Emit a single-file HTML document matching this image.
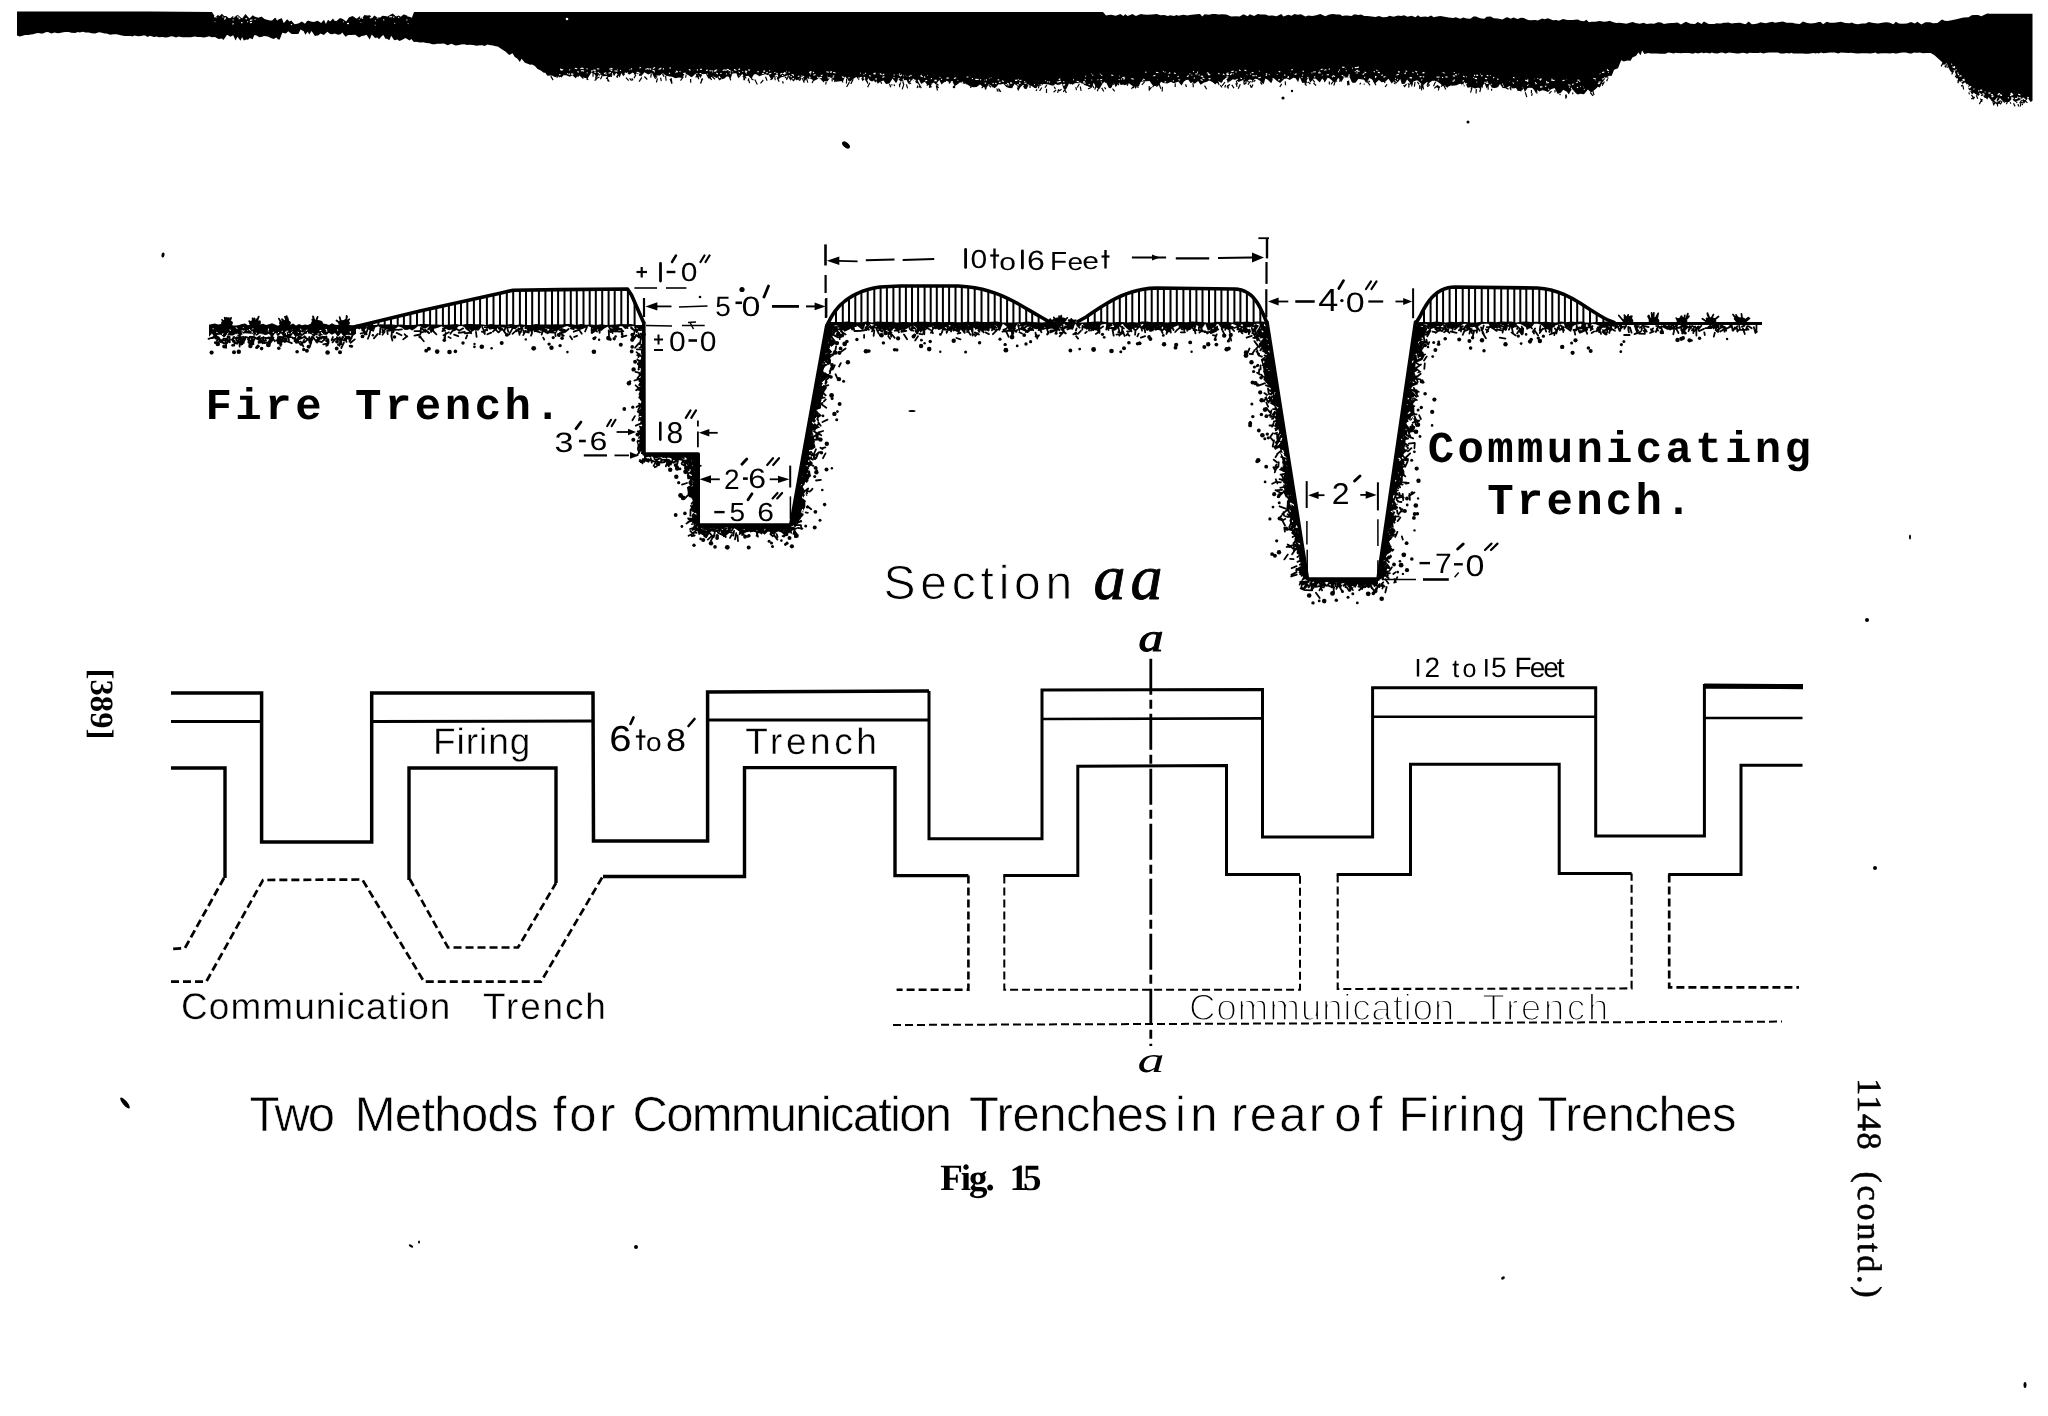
<!DOCTYPE html>
<html><head><meta charset="utf-8"><title>Fig. 15</title>
<style>html,body{margin:0;padding:0;background:#fff}body{width:2048px;height:1416px;overflow:hidden}svg{display:block;will-change:transform}text{fill:#000;text-rendering:geometricPrecision}</style></head><body>
<svg width="2048" height="1416" viewBox="0 0 2048 1416">
<rect width="2048" height="1416" fill="#fff"/>
<path d="M17 11.5 L150 11.5 L212 12 L214 15.2 L215.5 17.2 L217.8 14.9 L219.8 16 L221.7 13.8 L224.2 16 L226.2 16 L228.6 18.1 L230.3 18.2 L232.8 15.9 L234.7 17 L236.7 15.2 L238.2 15.2 L242.1 18.6 L245.5 13.9 L249.4 18.5 L252.8 15.3 L254.5 16.6 L258.2 17.8 L261.6 16.4 L264.4 19.1 L268 20 L270 20.5 L272.1 20.5 L275 17.7 L277.9 19.8 L281.8 17.9 L283.7 22.9 L287.3 19.2 L289.4 21.4 L291.3 20.5 L292.9 22.6 L294.6 24.2 L298.4 23.5 L301.8 21.6 L305 23.7 L307.7 20.3 L310.8 21.6 L313.8 22.1 L317.7 20.8 L321.1 23.1 L324 19.8 L325.9 24 L328 19.8 L330.2 21.4 L333 18.4 L334.5 20.7 L336.5 21 L340 18 L342.8 19.1 L346.2 21.4 L348.8 17.5 L352.5 16 L354.8 17.6 L356.8 18.8 L359.6 16.3 L362.1 18.3 L364.4 15 L367 15.4 L370.1 15.2 L371.9 18.5 L374.3 15.4 L377.1 17.2 L380.3 17.6 L382.4 15.7 L384.8 16 L387.8 16.5 L389.5 15.2 L392.7 13.4 L396.1 16.6 L398.6 15.4 L400.8 16.8 L403.5 14.4 L405 14.8 L408.8 16.4 L411.9 17.7 L414 12 L1103 12 L1106 15.5 L1108.6 14.9 L1111.1 14.8 L1115.8 15.8 L1120.4 14 L1123.3 16 L1125.4 14.3 L1127.6 16.1 L1130.3 15 L1132.4 14.1 L1135.9 16 L1138.9 14.7 L1141 14.1 L1143.5 14.4 L1147.2 14.8 L1152.1 14.6 L1156.7 14.1 L1160.3 15.3 L1164.3 14.9 L1167.8 16 L1170.3 15.3 L1174.1 16 L1176.5 15 L1178.6 15.7 L1183.2 14.8 L1187.7 15.6 L1189.7 15.1 L1191.9 14.7 L1196.3 14.2 L1200 14 L1202.3 16.5 L1204.6 14.3 L1209.4 14.7 L1212 14.1 L1215.5 14 L1218.2 14.4 L1222.4 14.3 L1226.2 14.5 L1231.2 16.6 L1236 16.3 L1239.6 16.4 L1243.5 14.2 L1247.7 16.2 L1249.8 14.3 L1254.1 16 L1257.8 14.1 L1260.6 14.5 L1265.5 14.4 L1268.7 15.7 L1272.6 15.4 L1276.6 16.2 L1281.3 14.1 L1283.4 16.4 L1288.2 14.8 L1291.4 15.7 L1294.6 14.1 L1297.4 14.7 L1301.1 14.3 L1305.3 16.5 L1308.4 15.4 L1312.3 16 L1316.2 15.2 L1320.4 13.9 L1325.2 16.3 L1329.3 14.4 L1333.1 13.9 L1336.3 14.4 L1340 14.5 L1342.3 16 L1345.1 15.4 L1347.1 15.4 L1351.5 16.1 L1354.5 14.3 L1358.3 14.9 L1361.1 14.6 L1364.3 16 L1367.5 16 L1371.7 16.5 L1375.4 17.1 L1378.9 15.9 L1382.9 17.2 L1387 17.1 L1389.5 15.8 L1393.6 16.8 L1398.1 15.5 L1401 16 L1404.2 15.2 L1407.4 16.8 L1411.6 15.7 L1415.5 17.2 L1417.9 15.2 L1420.4 17.1 L1425.1 16.4 L1428.1 17.1 L1431 15.6 L1433.8 17.2 L1437.1 16.5 L1440.3 16 L1444.6 16.8 L1448.7 17.4 L1453.4 18.1 L1455.8 17.2 L1457.8 18.1 L1460.5 18.8 L1463.2 17.5 L1466.7 18.5 L1470.4 18.7 L1473.4 16.6 L1476 16.5 L1480.1 18.3 L1484.3 18.7 L1486.7 16.7 L1490.7 16.6 L1493.7 18.3 L1497.7 18.5 L1502.5 19.6 L1505.5 17.8 L1507.5 17.3 L1510.8 18.8 L1513.5 17.4 L1517.6 19.1 L1521.1 17.7 L1523.7 18.1 L1528.2 20.1 L1530.4 20.2 L1535.1 20 L1537.8 20.6 L1542.2 18.4 L1544.4 19.2 L1548.1 18.3 L1553 20.3 L1556.5 20 L1558.8 20.8 L1563 18.9 L1567.5 20 L1572.3 20.1 L1574.9 19.8 L1577.9 19.6 L1580.4 20.8 L1584 21.2 L1586.4 19.8 L1588.9 22.3 L1591.3 21.8 L1595 21.7 L1599.8 20.9 L1603.9 21.8 L1607 21.6 L1609.6 20.8 L1614.3 22.5 L1616.9 23.1 L1619.4 22.8 L1623.2 23.3 L1626.4 23.8 L1630.6 22.6 L1632.9 22.1 L1635.3 23 L1639.7 23.7 L1643.7 22.8 L1646.5 23.9 L1650.5 23.5 L1654.2 23.8 L1657.9 22.3 L1661.1 22.5 L1663.9 24.1 L1668.1 23.3 L1671.4 23 L1673.7 22.9 L1677.5 22.6 L1681 24.4 L1685.8 21.8 L1690.6 23.8 L1695 23.9 L1697.7 22 L1701.6 23.9 L1703.9 21.6 L1708.7 24.1 L1711.5 23.9 L1714.4 24 L1716.5 23.3 L1719.1 23.4 L1721.2 23.4 L1723.5 22.8 L1725.7 22.7 L1728.2 22.5 L1731.6 23.4 L1735.5 23.1 L1740.1 22.8 L1742.5 23.5 L1745.6 24.2 L1748.7 21.6 L1751.8 24.3 L1755.2 23.9 L1758.3 23.3 L1760.5 22.2 L1762.8 22.7 L1765.8 23.2 L1769.8 22.3 L1772.6 21.7 L1774.9 22.7 L1779.6 22.1 L1782.8 21.6 L1786.6 22.8 L1789.6 22.7 L1792.4 22.7 L1795 23.6 L1799.8 24.1 L1802.9 21.6 L1807.2 22.9 L1810.8 23.4 L1815.3 23.1 L1818.6 22 L1820.7 22.1 L1823.1 24.2 L1826.8 21.7 L1829.8 22.8 L1834.3 22.8 L1837.9 22.3 L1840.9 21.8 L1845.3 23 L1849.5 23.2 L1851.7 22.4 L1854.7 23.8 L1857.7 24.3 L1862.1 23.5 L1865.7 23.5 L1868.7 21.9 L1873.3 22.9 L1878.2 23.6 L1881.9 22.8 L1886 22.3 L1889 22.5 L1893.5 24.3 L1895.8 21.7 L1898.8 23.5 L1902.1 23.7 L1907 23.5 L1911 22 L1914.8 23.4 L1917.4 21.7 L1921.4 24.4 L1925.4 22.2 L1930 22.3 L1933 23.3 L1937.4 22.9 L1942 19.6 L1944.7 20.8 L1947.4 21.1 L1951.6 20.2 L1956.4 19.3 L1961.3 17.9 L1963.7 17.6 L1968.6 17.2 L1971.6 15.2 L1974 14.9 L1978.1 14.9 L1981.4 16.2 L1984.4 14.8 L1987.4 13.6 L1990 13.7 L2032.5 13.7 L2032.5 100.7 L2030.7 101.9 L2027.8 98.3 L2023.9 103.8 L2021.7 99.5 L2018.2 100.4 L2015.3 101.9 L2011.9 98.5 L2009.2 101.9 L2005.5 102.1 L2002 100.5 L2000.5 98.6 L1997.2 97.6 L1995.5 99.6 L1992.1 101.5 L1988.8 97.2 L1987.2 98.4 L1983.5 96.5 L1980.6 93.2 L1978.3 95.9 L1974.8 93.5 L1971.2 92.6 L1968.3 86.6 L1965.1 82.3 L1962.5 84.1 L1958.8 80.1 L1956.8 77.4 L1954.2 69.7 L1950.4 71 L1946.5 63.1 L1944.4 64.7 L1941.2 61.3 L1937.8 58.3 L1934.5 55.3 L1930.7 53 L1926.9 53 L1923 53.2 L1919.9 52.4 L1917.6 52.8 L1916 52.8 L1913.9 52.6 L1911.7 53.6 L1909.7 53.4 L1905.7 52.4 L1902.4 52.6 L1900.5 52.8 L1896.7 53.6 L1895 53.5 L1893.2 52.9 L1889.2 53.6 L1887.5 53.2 L1884.9 53.3 L1881.3 53.2 L1877.4 53.7 L1875.5 52.5 L1873.5 53.1 L1870.3 53.6 L1867 53.3 L1864 53.3 L1861.5 53.3 L1857.9 53.6 L1854.6 53.3 L1852.9 52.9 L1850.3 52.8 L1848.3 52.9 L1844.7 52.8 L1840.8 52.4 L1838.3 53.4 L1834.9 52.4 L1833.1 52.5 L1830.2 52.5 L1827.7 52.8 L1826 52.9 L1823.4 53.2 L1821 52.5 L1818.7 53.4 L1817.2 53.1 L1815.6 53.6 L1813.6 53.1 L1811.9 53.2 L1808.4 53.7 L1804.9 53.7 L1803.4 53.5 L1801.8 53.6 L1797.8 53.4 L1794.8 53.4 L1793.1 53.6 L1791.4 52.7 L1789.2 53.4 L1786.7 52.9 L1783.9 53.5 L1780.3 53.6 L1778.1 52.5 L1776.4 52.6 L1773 52.5 L1769.6 52.4 L1766.4 52.7 L1763.3 53.5 L1760.2 52.5 L1758.6 52.9 L1754.9 53.1 L1752.7 53.1 L1749.2 52.7 L1747.3 53.7 L1744.8 53 L1742.5 52.7 L1738.9 53.5 L1736.7 53.4 L1732.9 53 L1729 52.5 L1725.4 53.6 L1723.2 52.8 L1721.1 52.6 L1717.5 53.4 L1714.1 53.3 L1711.9 52.5 L1709.8 53.5 L1708.2 53.1 L1705.9 52.8 L1703.6 53.2 L1701.7 52.6 L1698 53.5 L1695.6 52.7 L1692.7 53.7 L1689.2 53 L1686.1 52.9 L1682.8 53.1 L1681.3 53.3 L1677.6 53.1 L1675.7 52.8 L1673.7 53.6 L1670.4 52.8 L1668.1 52.6 L1665.5 53.8 L1662.1 53.7 L1660.4 53.7 L1656.7 53.5 L1654.8 53.6 L1650.9 53.4 L1648.1 52.9 L1644.4 53.9 L1642.1 50.5 L1640.6 55.2 L1638.3 52.6 L1636.1 55.8 L1632.4 57.6 L1630.6 60.8 L1627.4 60.5 L1623.7 61.4 L1621.2 60.3 L1618 68.3 L1614.1 69.7 L1611.6 76 L1609 75.7 L1605.5 78.2 L1602.4 82.2 L1599.8 87.4 L1597.8 86.7 L1595.7 88.9 L1592.8 91.3 L1591.1 92.4 L1587.9 89.4 L1584 94.3 L1580.5 93.8 L1577.7 94.5 L1575.9 93.3 L1571.9 88.7 L1568.8 94.5 L1566.9 91.8 L1563.2 89.7 L1561.2 92.6 L1557.7 93.9 L1554.6 88 L1551 89.3 L1548.1 92 L1544.1 90.6 L1542.3 90.2 L1539.4 91.6 L1537.4 90.1 L1535.8 92.9 L1534.2 89.9 L1532.3 88 L1529.8 87.7 L1527.6 87.9 L1524.9 91.9 L1522.9 86.7 L1521.3 91.4 L1517.8 90.6 L1515.9 88 L1512.8 88.4 L1509.4 85.9 L1505.7 88.3 L1502.6 88 L1500 84.1 L1498.1 87.1 L1496.4 87.7 L1494.4 88.1 L1491.9 87.8 L1489.8 84.2 L1486.6 88.5 L1484.6 83.3 L1480.9 87.7 L1477.5 87.7 L1475 88.6 L1471.4 87 L1467.6 87.8 L1464.7 82 L1461.7 84.7 L1460.2 83.4 L1456.6 85.2 L1452.8 85.8 L1450.8 85.4 L1449.2 86.3 L1447 86.9 L1445.3 85.3 L1443.6 86 L1440 83.6 L1437.1 81.5 L1434.7 81 L1432.2 80.8 L1429.2 82.9 L1426.8 81.9 L1422.9 85.6 L1418.9 81.6 L1417.2 80.2 L1413.6 81.3 L1411.7 85.1 L1409.7 82.5 L1407.1 79.6 L1404.7 83.7 L1401.8 84.1 L1400.3 79.1 L1397.7 82.5 L1395.2 80 L1391.7 83.6 L1388.5 78.7 L1385.2 81.7 L1381.8 82.3 L1378.9 79.9 L1375.3 83.3 L1371.5 79.1 L1369.4 78.2 L1366.2 83.1 L1364.1 79.7 L1361.3 79.3 L1358.4 78.9 L1355.4 82.7 L1352 82.4 L1349.5 77 L1347.5 77.5 L1344 77.5 L1341.1 82.2 L1338.6 77.7 L1334.9 82.6 L1333.2 81.6 L1329.3 78.3 L1326.9 77.7 L1324.8 81.5 L1322.2 78.5 L1319.8 82.5 L1315.8 78.7 L1313.6 78.4 L1310.2 82.7 L1308.2 77.5 L1305.9 82.3 L1302.3 83.1 L1299.7 77.3 L1298.1 82.3 L1295.6 78.2 L1293.4 77.8 L1289.7 80 L1286.9 78.5 L1284.1 78.9 L1280.2 83 L1276.9 81.1 L1273.6 78.1 L1271.2 83.3 L1267.7 79.7 L1265.3 78.6 L1263.8 83.9 L1261.8 83 L1259.9 80.7 L1257 79 L1254.8 78.8 L1253.3 80.3 L1249.7 79.4 L1247.1 80.6 L1244.3 79.5 L1242.7 80.3 L1238.8 82 L1236.1 80.2 L1232.8 79.3 L1229.8 81.6 L1228.1 81.7 L1225.8 78.5 L1223.2 79.9 L1221.4 83 L1218.5 81.2 L1215.2 84.4 L1212.8 82.2 L1209.1 80.5 L1206.5 82 L1204.1 82.6 L1200.6 84.7 L1198.1 80.9 L1194.7 83.7 L1192.5 82.1 L1190.4 82.7 L1188.3 79.8 L1186.2 80 L1183.9 81.6 L1181.6 85.6 L1178.2 81.4 L1174.5 82.9 L1172.9 82.9 L1171.2 81.7 L1167.3 83.5 L1163.4 83 L1161 81.7 L1158.9 85.3 L1155.9 86 L1153.2 86.1 L1149.5 81.1 L1146.3 81.2 L1143.9 81.6 L1140.8 81.7 L1139.1 85.7 L1135.9 86.5 L1132.2 85.8 L1128.6 83.1 L1125.9 84.9 L1123.4 84.4 L1120.7 84.9 L1119.1 82.5 L1115.7 87.3 L1113.7 82.5 L1111.6 87.5 L1109 88.2 L1106.3 82.7 L1102.8 82.9 L1099.6 88.7 L1096.2 87.6 L1093.7 82.8 L1091.6 88 L1088.1 86.3 L1086.1 85.7 L1082.6 83.4 L1078.8 83.3 L1075.5 83.1 L1071.9 85.1 L1069 83.4 L1065.9 89.7 L1063.6 88.8 L1061.7 83.6 L1058.5 85.2 L1055.3 84 L1053.4 85.7 L1050.6 85.3 L1048.8 84.5 L1046.4 84.3 L1043.5 84.1 L1040.7 86 L1039.1 84 L1036.2 88.4 L1034.2 87.4 L1032.5 86.6 L1029 84.7 L1026.3 89.2 L1024.2 88.4 L1022.5 85 L1019 88.7 L1016.8 85.6 L1014.5 84.1 L1012.1 88.2 L1009.2 88.1 L1006.3 86.9 L1003.4 83.8 L1000.7 84.5 L998.6 84.3 L994.8 88.3 L990.9 85.4 L988.7 84.2 L986.4 88 L982.8 86.7 L980 84.6 L976.6 87.1 L973.4 87.3 L970.3 86.5 L967.3 84.5 L963.8 83.7 L960.2 82.3 L956.2 85.2 L954.2 84.9 L952 80.9 L950.2 83.1 L946.3 81.6 L943.5 82.8 L941.5 84.4 L939.3 80.1 L935.6 84.6 L934 82.5 L931.7 83.8 L929.4 83.9 L927.8 85.2 L924.7 81.8 L921.2 83.9 L918.9 79.5 L915.8 81.6 L912.1 79.7 L908.5 84 L906.5 80.1 L903.5 80.2 L900.8 81.7 L898.3 78.9 L896.1 83.3 L892.6 78.5 L889.4 83.5 L886.3 83.9 L883.4 80.6 L880.9 81.2 L877.7 83.7 L875.8 79.3 L872.1 81.5 L869.8 80.6 L868.2 77.9 L866.6 82.4 L864.7 79.2 L862.4 81.3 L860.7 76.8 L858.8 80.3 L856.4 77.1 L854.2 78.2 L850.9 81 L849.3 81.8 L847.6 78.9 L845 76.4 L843.2 81 L840 81.2 L836.1 81.8 L833.8 80.2 L830.7 77.3 L827.3 81.6 L824.3 80.7 L822.1 81.1 L819.8 77.5 L816.9 79.4 L814.2 80.7 L810.8 78.7 L807.1 77.7 L804.6 81.4 L802.4 75.9 L798.7 79.4 L796.4 80.1 L793.2 77.7 L790.4 80.8 L787.5 75.2 L784.9 76.5 L781 77.2 L778.5 79.3 L775.1 74.7 L771.9 80.2 L769 75.8 L765.2 74.3 L762.4 75.1 L759.5 76.3 L755.8 74.1 L753.2 75.4 L751.4 79 L748.3 75.7 L745.4 76.2 L743.8 75.4 L742.2 73.9 L738.6 78.2 L736.3 73.2 L732.6 73.4 L730.5 78.4 L727.6 75.7 L724.1 78.7 L721.2 78.6 L719.5 75.9 L716.3 78 L713.6 76.5 L711.4 77.1 L708.5 78.7 L705.6 73.4 L702.2 75 L700.3 78.3 L697.6 73.1 L695.6 73.7 L691.8 77.3 L690.2 76.6 L687.9 74.8 L684.5 73.9 L682.3 78.1 L678.8 77.4 L675.4 78.2 L672.1 76.8 L669.8 76.6 L666 75.7 L662.7 73.1 L660 75.4 L656.7 75.4 L654.6 78.4 L651.9 72.8 L648.3 74.4 L644.4 72.2 L641 76.4 L637.7 72.2 L635 75.3 L632.7 72.6 L629.7 74.4 L625.7 73.5 L623.2 76.3 L621.4 73 L619.7 77.5 L616.2 72.8 L614 76.3 L612.4 72.4 L610.4 77 L608.3 76.9 L606.4 76.1 L603.2 76.2 L601.3 75 L599.1 74.1 L596.8 77.9 L594.8 74.6 L591.4 72.5 L587.9 77.9 L584.9 78 L582.2 77.1 L578.3 75.2 L575.6 78.2 L572.4 75.3 L569.9 76.7 L566 75.3 L563.3 75.3 L561.7 77.4 L558.4 76.1 L555.1 77.3 L552.6 75.7 L550.5 75.6 L547.3 75.7 L545.3 72.8 L543.7 72.8 L540.8 70.6 L537.6 68.9 L534.9 66.1 L532.1 64.5 L530.1 64.8 L527 63.6 L524.9 62.8 L521.6 58.7 L519.8 62 L517.5 58.7 L514.8 56.9 L512.5 53.3 L509.2 54.9 L505.4 51.5 L501.8 49.3 L497.8 46.5 L495.6 46.3 L493 45.6 L489.3 44.9 L487.6 44.5 L484.6 46.1 L482.5 45.2 L479.9 45.2 L476.3 45.8 L473.4 45 L469.6 44.8 L467.4 44.9 L464.2 44.3 L460.8 44.5 L459.2 45.1 L455.5 45.4 L451.5 43.7 L447.6 45.2 L443.9 43.5 L440.7 43.8 L436.9 43.8 L435.3 44.3 L432.1 44.2 L429.5 43.3 L426.2 42.9 L423.3 42.3 L420.6 42.5 L418.5 42.2 L416.4 41.8 L413.9 42 L411.3 38.9 L409.5 40.4 L407.9 39.4 L405.4 38.1 L403.3 39.2 L399.6 41 L397.3 39.5 L394.2 40.2 L391.2 35.7 L389.3 40.3 L387.1 38.7 L385.5 38.7 L383.3 35 L381.7 36.2 L379 39.3 L377.4 37.6 L375 38.1 L371.8 34.5 L369.7 39.5 L366.5 34.7 L363.7 35.8 L361.8 36 L359 37.4 L355.2 34.7 L351.3 35 L348.2 35 L345.5 36.7 L342.2 32.5 L340.6 34.2 L338.3 34.7 L334.5 33.5 L332.4 34.2 L330.1 33.9 L327.3 31.8 L323.9 35 L320.5 33.5 L318.5 35.3 L314.9 36.1 L311.6 30.9 L309.3 34.4 L307.7 31.7 L305.3 34.8 L303.7 31.3 L300.6 29.4 L298.3 34 L295.7 33.9 L293.5 34 L291.7 34 L288.2 31.2 L286 33.5 L282.3 32.8 L279.7 39.4 L278 39.6 L276.3 37.4 L273.7 39 L271.5 38.2 L267.8 36.5 L264.1 36 L262.1 36.7 L259.3 37.2 L256.6 35.5 L254.4 35.1 L252.6 39.3 L249.7 38 L248.1 39.8 L246.4 39.4 L243.8 40.5 L242.1 37 L240.5 40.8 L237.5 36.8 L235.6 40.4 L233.2 35.3 L230.5 36.8 L227 34.7 L223.5 40 L221.9 38.6 L218.6 39 L214.9 36.9 L211.8 37.2 L209.2 36.3 L206.3 37 L204 37.4 L200.2 37 L197.8 37 L194.5 36.6 L190.9 37.3 L187.6 37.2 L186 37.3 L182.3 37.3 L178.7 36.4 L176.1 37.4 L172.2 36.2 L170.2 36.5 L168 37.2 L165.5 37.6 L162.3 37.1 L158.6 37.3 L157 36.4 L153.9 36.9 L150.1 35.8 L147.4 37 L145.4 35.4 L142.8 35.5 L141.3 35.9 L138.2 36.2 L134.5 35.5 L132.3 36.5 L130.7 35.9 L128.9 36.1 L127.1 36 L124.8 36 L121.8 35.4 L119.7 35 L116.6 34.2 L113.7 34.2 L110.1 34.7 L106.6 33.4 L104.8 33.5 L100.9 32.4 L99 32.2 L97.3 32.8 L95.3 33.4 L91.6 33.3 L88.8 32.5 L85.6 32.4 L82.7 31.8 L79.8 32.6 L77.8 31.9 L75.2 33.1 L71.2 32.7 L68.9 32 L65.1 31.9 L62.1 32.6 L59.9 33 L57.7 33.2 L54.5 32.6 L51.5 33.4 L47.9 32.1 L45.6 32.2 L43 33.6 L40.6 33.5 L38.6 33 L36.3 33.2 L33 34.3 L30.8 34.6 L28.4 34.9 L25.1 34.9 L21.7 36 L19.7 36.5 L17.3 35.5 L17 36.3Z" fill="#000"/>
<path d="M1999.7 96.4l-2.9 4.1M1420.9 86.1l0.8 4.3M900.6 82.5l-1.2 3.6M1980.3 98.7l1.6 2M792.6 78.9l0.5 1.6M795.6 77.5l-2.3 3.8M657.4 78.3l-1 4.2M1017.3 87.5l1.2 2.9M1064.6 89.5l-1.2 2.6M835.1 80.5l-0.5 1.7M929 81.8l1.8 1.2M1134.9 85l0.7 3.3M1960.2 79l-2.5 4.1M1569.1 89l0.2 2.1M1523.8 87.3l-2.2 2.6M1335.2 81.2l-1.4 4.4M1104.5 87.4l1.3 1.6M1393.9 82.6l1.6 1.6M619.5 72.2l-0.1 3.6M995.9 83.4l0.4 2.9M729.3 75.5l1.4 4.9M1991.1 97.2l2.1 4.2M1963 85.9l0.6 3.6M1517.2 86.2l1.1 4.7M670 78.9l2 5M1549.2 88.9l-1.7 2M629.6 78.3l2 2.4M577.3 73.4l-1.4 2.3M1382.1 79.3l0.8 2.1M1985.1 96.1l2.5 3.1M638.5 72.8l-1.1 1.1M2020.8 103.1l-0.1 2.4M578.9 74l-1.1 3M1041.8 87.5l-2.2 3.3M2007.9 100.3l-1.5 3.9M1428.7 81.7l-1.8 4.1M748.8 78.3l-0.7 2.6M2018.1 104l0.4 2.5M903.6 85.1l-1.4 4.3M748.4 78.9l1.2 4.2M585.4 75.4l2.7 4.6M1190.1 79.5l1.3 3.3M739.2 73.7l-1.6 2.7M599.4 76.9l-2.9 1.7M626 77.7l2.7 2.9M1422.6 84.7l0.9 4.7M1122.4 83.3l2.8 1.3M2022.4 97.7l2.3 3M1982.1 99.8l-1.1 1.8M1580.7 90.4l1.1 2.1M1149.2 86l-0 4.7M1054.2 86.5l1.1 2.6M1075.8 87.1l0.7 3M788.3 76.2l-1.8 3.8M608 76.6l-1.9 2.2M1225 82l-2.9 3.8M727.3 73.5l0.6 3.2M1604.4 81.5l-2.2 4.2M971 85.3l-0.2 2.7M1368.5 80.8l1.3 1.2M824.2 79.3l1.2 2M1246.3 78.6l2.2 3.5M1482 83.2l0.4 4.4M1506.1 87.9l2.5 1.2M644.4 76.5l2.9 3M1229.8 84.3l-3 2.9M1281.7 83.9l-1.9 3.1M891.9 84.3l0 1.3M1305.3 81.8l-0.1 2.9M2003.2 101.2l1.9 1.4M1437.1 85.2l2.7 2.6M1329.3 81.6l0.1 2.9M1959.7 77.2l-2 4.4M841.3 78.9l1.7 3.6M1551.5 91.2l-2.4 2.5M595.7 76.4l0.3 3.8M1959.1 76.2l0.8 4M704.9 72.7l2.8 1.5M1959.2 75.7l2.5 3.9M1943.5 62.5l-0.4 2.1M1373.3 80.4l2.6 4.7M559.3 72.9l0.2 4.3M2004.6 96.4l2.4 3.4M1252.9 84.5l-1.4 3.3M1137.7 83.3l0.3 4.7M616.4 76l1.5 1.3M1982.8 94.5l-1.7 1.3M1394 81l2.9 1.9M1406.5 84l-1.9 2.3M1080.3 86.5l0.8 4.4M825.3 78.6l-2.1 3.3M1246.4 80.2l-0.8 3.6M697.8 75.9l1 1.5M956.4 83.3l-2.6 3.7M709.6 76l2 4M794.9 76.3l2.2 3.8M584.5 73.3l-0.2 3.4M1445.1 85.6l2.8 1.6M853.2 79.3l-2.4 4.6M1360.8 82.7l-1.1 1.8M930.7 83.7l-1.4 4M1525.3 92.3l1.5 4.8M877.2 77.4l-1.7 4.8M1392.6 78.5l1.7 2.1M936.3 85.5l1.2 5M937 84l-0.3 2.6M1985.8 94.7l-0.7 2.6M1250.2 84.8l1.1 3M1995.3 101.8l2.3 2.9M826.2 81.9l-0.5 2.6M1336.9 76.2l2.2 1.6M744.1 76.3l0.5 4M1221.2 78.9l0.7 3.3M1572.8 92.5l-0.1 1.8M1429.8 84.6l-2.5 2.3M1949.7 68.4l2.2 3.7M698.4 73.8l1 2.3M930.9 83.3l-1.1 4.2M2020.8 103.8l-0.7 2.8M1955.1 75.9l1.9 2.2M1046.8 85.2l-1.9 2.5M1304.6 81.7l1.8 4.1M832.1 78.5l0.1 2.9M1510 87.2l0.4 1.8M1110.6 86.6l-0.3 1.6M743.6 74.6l2.6 3.8M2024.9 99.3l-1.2 3M916.4 79.4l2.5 4.4M867.4 81.1l0.2 2.5M721 75.2l2 3.9M814.1 79l-2 4M850.5 78.7l-1.9 1.8M1064.6 89.2l1.8 3.9M696.6 75.1l2.4 4.1M1472 88l-1.5 4.6M1993.2 99.3l2 4.2M1982.1 99l-0.4 2.8M1128.8 81.4l-1.6 4.4M1476.3 88.9l-0.2 4.6M1974.6 96.8l-1.8 2.6M782.5 81.2l0.8 2.3M1436.3 86.6l2.9 1.2M779.3 75.7l-0 2.2M1953.7 70.6l-2 3.9M997 88.5l0.5 3M1992.9 101.4l0.9 3.9M550.8 76.1l2.3 4M1963 85l-2 1.1M662.4 73.6l1.7 3M1972.6 91.6l-1.3 1.8M1536.6 90.3l0.3 3.3M1409 84.6l-0.3 3M610.2 72.5l1.9 2.8M928.9 83.4l2.5 4M1115.1 81.8l-2 2.8M1225.6 84.9l-0.8 2.6M749.9 74.8l1.9 3.5M1195.7 80.7l0.2 1.2M1134.2 85.6l-2.8 3.2M690.6 78.9l0.1 3.8M1479.8 83.9l-0.1 3.8M587 75.4l0.2 4.5M696 74.3l2 1.7M798.5 79.1l1.3 1.6M1443.6 85l2.2 4.4M743.8 75.5l0.2 4.6M1354.7 78.1l-1.6 1.2M1381.7 80.5l0.7 1.4M1039.6 84l-1.3 4.3M1355 80.8l-1.6 1.7M1092.1 84.8l1.8 3.2M1970.9 91.6l2 2.2M1348.5 80.6l0.6 4.5M1560.5 94l-0.9 1M2020.5 101.7l2.8 1.6M887.1 78.8l-1.9 4.4M902.7 81.2l1.2 3.8M774.7 75.4l0.5 4.8M1532.3 93.1l-0.7 2.8M1227.8 84.8l0.5 3.8M1443.8 84.3l-2.8 2.3M660.6 77.6l0.7 3.6M2021.9 99.5l-2.2 3.8M742.8 76.1l2.1 1.7M1538 86.7l-1.7 1.1M1245.8 79.6l-2.2 3M1096.2 85.3l-1.4 4.3M1083.1 83l2.2 1.7M1601.4 82.4l1.2 1.3M1999.5 101.1l-2.7 2.5M720.5 77.9l0.4 1.8M1998.1 97.8l-0.9 3.7M931.5 84.1l-2.6 1.9M1235.9 83.3l1.2 3.5M1020.1 86.1l-2.1 4.2M751.3 78.7l2.2 1.4M702.8 78.5l-2.4 5M720.1 78.4l-1 1.6M1531.5 90l-0.1 3.2M1091 87.4l-3 1.7M1984.4 95.2l0.7 2.6M1555.1 90.1l-0.2 2.4M846.7 78.6l-0.3 4.9M1944.9 65.6l0.6 1.6M1220.3 85.1l1.7 2.4M1336.4 80.4l0.2 1.2M574.2 73.6l1.2 3.2M1079.3 84l-2 3.5M1956.9 75.3l-1.8 1.2M2010.1 102.3l0.9 1.3M1592.7 90.4l1.3 4.8M631.7 78.4l1.4 2M801.2 77.9l-1.5 2.5M671.1 78.2l0.8 4.8M640.5 72.5l-1.2 3.2M2013.5 103.3l1.6 3.1M598.1 72.1l1.7 3.5M558.7 72.2l-0.2 2M1946.2 63.8l-0.2 3.7M1118.9 83.3l-0.6 1.9M1030.1 83.6l-0.1 4.4M1421.2 84.1l1.5 4M906.4 84.3l1.2 4M869.8 82.8l-2.2 4.4M992.2 86.1l1.3 1.1M1375.4 79.3l-0.6 4.1M686.2 75.1l-0.7 2.5M983.5 86l-1.8 2.2M1135 84l1.7 2.5M777.1 77.6l2.1 4M1565.9 94.3l0.8 3.1M2000.7 100.5l-2.7 3.1M917.9 85.5l-0.8 2.7M934.2 81l0.7 1.4M1158.7 84.1l-2.3 2.6M1436.8 86l-2.5 2.4M1193 82.8l0.3 4.4M1098.9 87.3l-1.6 4M1995.3 102l-1.1 2.3M1547.1 87.3l-1 1.1M821.9 75.6l-2.1 3.5M1236.2 80.8l1.3 3.6M773 77.6l-2.6 2.3M1403.6 85.1l1.4 2.1M1313.5 83l2.6 2.5M1305.3 80.4l2 2.7M880.5 81.2l1.3 2.5M1953.1 70.3l-1.8 1.7M2022.3 104l0.3 1.2M701.9 78.7l-1 4.8M1285.2 81.4l0.3 3.8M825.3 78.4l-2.3 3.5M597.1 78.1l-2.5 2.5M1327 77.7l-2.6 4.3M1308.2 81.8l2.2 2.4M1037.1 89.5l-1.3 1.4M1510.6 86.9l0.3 3.3M1153.6 86l-1.1 1M911.1 82.9l-1.9 1.2M1989.8 97.5l1.7 1.4M1415 81.9l-0.6 4.7M1175.2 83.3l0 3.6M1216.1 80.4l1.6 2.8M606.7 77.3l2.5 4.5M1565.7 94.9l0.2 3.9M1162.4 86.8l-0.2 4.7M1246.4 82.5l-2.2 2.2M1046.5 88.8l0 4.3M1101.7 87.9l2.1 3.6M1997.4 102.1l0.2 4.3M918.8 83.7l2.5 4.4M1998.2 102.5l3 1.6M802.3 78.3l2 4.5M1240.3 84.3l-2.1 4.5M1367.1 81.4l3 3.9M1590.2 92.5l2.8 3.3M1254 78.1l-2.3 4.5M936.3 83.5l2.2 1.9M1427.6 82.7l1.5 1.6M999.3 89l-0.4 2.5M657.2 76.4l-2.1 2.3M1435.6 81.5l-2.1 4.7M867 77.4l-1.1 1.8M806.4 77.8l1.4 4.9M697.7 73.5l-1.9 3.9M617.7 75l-0.6 2.9M1419.7 85l-0 4M2025.3 101.1l2.1 1.6M985 84.9l0.5 4.7M899.5 84l0.1 3.2M1940 57.2l1.8 3.1M1144.8 81.7l-3 3.1M1333.9 80.5l-2.8 3.8M1260.4 82.4l1.8 2.1M917.8 82.1l-0.9 1.3M916 80.5l0.4 2.4M665.6 76l0.5 4.8M1464.1 85.3l0.3 1.1M949.9 80.7l-0.4 2.9M1607.7 76.9l0.2 2.2M936.5 86l2.2 1.7M1133.2 86l0.6 2.1M988.7 85.1l2.5 2.1M2002 101.1l-0.9 2.2M1090.9 83l-2.2 3.8M996.2 82.9l1.1 2.2M849.4 82.1l-2.8 4.9M986.3 88l-0.9 1M610 73.6l1.6 3.3M2013.5 97l0.8 4.1M1347.6 80.9l0.2 4.5M717.5 76.5l2.3 3.6M1948.6 64.6l-0.9 3.4M974.3 82.5l2.8 1.1M1491.7 88.7l-0.2 2M607.7 78.7l0.2 2.6M1569.5 89l1.3 1.6M709.6 77l0.8 2.1M1392.5 78.4l-0.4 2.4M1439.1 85.9l-0.7 4.6M1056.2 89.9l-2.6 2.4M1204.5 85.6l2.2 3.6M920.2 85.6l-1.4 2M784.9 77.1l2.7 2M1971.4 95l2.7 3.1M1968.8 87.8l1.6 4M1982 99.3l-2.7 4.8M1231.8 84.8l2.2 3.3M928.6 83.9l-1.9 1.6M1061.6 89.2l-2.6 1.7M1033.4 84.6l1.2 3.2M712.2 76.8l2.9 2.4M1185.5 84.3l1 2.7M754.8 79.5l2.5 4.9M683.3 76.7l-2.8 4M1461 81.7l2.6 2.7M1112.5 88.7l2.2 2.7M558.4 76.1l-1.8 1.3M1058.7 89.2l-1.1 3.7M808.5 77.4l-0.4 1.3M1479.8 85.6l0.6 3.2M763.3 80l-2.8 3.3M1228.1 78.6l-0.2 4M894.2 84.3l0.3 1.9M1411 80.5l-0.9 4M876.9 78.6l-2.8 2.7M1342.5 76.8l-0.6 1.6M1976.3 95.3l1.5 3.4M1339.9 76.5l0.5 3.1M2016.9 101.6l-0.3 1.5M1417.4 81.8l1.7 2.6M998.5 88.6l2.3 3.3M1607.5 79.2l-0.9 2.1M889.5 84l1.3 3.2M1958.7 77.5l2.8 1.1M593.1 73.2l-0.1 3.5M1973 97.6l-1.8 1.4M1412.5 83.3l-1 3.1M1968.8 92.4l0.7 2M1135.8 85.5l0.4 2M1250.5 81.1l-2.6 3.6M1488 85.8l0.2 4M580.5 75.6l2.9 2.9M1480.9 87.3l-1.1 4.8M1255.3 80l-1.7 1.9M1312.3 79.1l2.5 3.2M1159.2 84.1l1.6 4.7M1943 62.7l-1.9 3.9M635.9 74.6l-1.9 3.6M1151.5 87.2l-2.6 3.2M765.5 76.8l1.6 3.9M1340.5 79l-1 2.8M2007.8 99.9l-0.7 2.7M1035.8 83.8l2.6 1.9M1459.8 81.9l-0.1 1.9M651.4 73.3l-0.7 4.4M1999.2 98.2l-1 2M1383.5 80l1.6 3M929.6 82.5l1.1 2M641.9 77.4l-2.8 4.3M1217.9 81.4l1.2 3.7M1364.1 83.6l0.2 1.1M602.3 75.6l-1.8 3.6M1243.9 79.8l0.2 4.8M908 78.7l2 3.6M1387 84.3l-1.9 2.7M1441.6 82.2l0.5 3.7M1407.9 83.4l1.5 1.4M1472.5 86.3l-1.5 2.5" stroke="#000" stroke-width="1.2" fill="none"/>
<path d="M1026.5 83.3l-2.1 0M961.6 82.7l1.6 -0.6M639.4 67.9l1.6 -0.5M1482.6 75.4l-1.5 0.5M661.1 69l-0.6 -0.5M1535.6 83.9l0.6 -0.2M1476.1 75.3l2 0.1M1436.5 77l2.5 0.2M709.5 71.1l1.1 -0.5M1373.7 71.6l1.2 0.2M1057.1 82.1l-0.2 0.1M1034.8 84.5l-0.8 0.1M786.2 73.2l-2.3 -0.6M830 77.9l-2.4 -0M1195.3 74l2.1 -0.2M1179.7 80.3l-1.2 -0.9M1493.2 77.2l1 0.8M1343 67.6l1.5 -0.7M957.7 80.3l0.2 0.5M1255.7 75.2l0.9 0.9M640.1 73.5l-0.9 -0.6M1407.1 71.6l-1.5 -0.9M1027.9 84.6l0.5 0.9M1049.2 82.4l0.7 -0.8M1584.7 89.3l-0.9 0.2M1089.7 84.3l-1 0.3M909 80.6l1.2 -0.8M775.5 75.5l2.5 0.2M1047.5 81.4l0.5 0.8M780.7 74.9l0.1 -0.5M1254.6 75.8l-2.3 -0M689 69.5l1.1 0.5M763.8 73.2l-1.6 0.4M560 69.1l2.4 0.6M1290.3 72.5l-0.2 0.1M1091.7 80.4l0.2 -0.7M636.6 72.4l2.3 0.2M1527 80l1.4 0M1202.6 80.6l-2 -1M1018.9 85.2l-1.7 -0.8M1546.3 85.9l-1.3 0.6M1194.9 77.6l-1.2 0.8M739.4 75.3l-0.4 0.4M1282.4 78.3l-0.3 0.1M1319.5 70.9l-0.3 0.5M1081.2 83.5l-1.8 -0.8M1279.7 79.2l-1.4 1M1447.5 77.1l-2.1 -0.3M782.6 75.1l0 0.8M690.6 70.2l-1.8 -0.7M1102.3 75.2l-1.1 0.2M1517.6 80.9l-0.7 -0.4M1345.8 70.6l0.8 0.3M1226.6 75l2.3 -0.8M615.5 71.1l2.1 -0.1M1512.9 82.2l0.1 0.5M1536.5 83l-0.4 0.9M984.6 80l0.3 0.2M620.2 70.1l0.6 0.8M1466.4 76.6l0.4 0.5M777.2 76.5l0.9 -0.2M986.1 83.1l-1.5 0.1M991.1 78l0.3 -0.4M914.2 81l1.5 -1M1345.1 77.3l-1.8 -0.5M861.1 78.3l-0.5 -0.9M625.7 73.8l-1 -0.9M1230.1 74.4l1.7 -0.9M1225.1 79l2.4 -0.7M809.8 71.4l1.9 0.7M573.4 74.1l-2.4 0M1541 87.2l-0.9 -0M1146.4 72.4l-1.1 -0.3M1285.4 75.1l-0.9 0.1M769 74.1l2.4 -0.8M775.4 72.5l-1.1 0M1289 77.5l-1.7 -0.6M1313.2 72l2.5 -0.3M1083.3 82.7l2.3 0.4M1240.4 78.1l1.5 0.7M699.6 73.5l1.8 0.1M1354.8 68l1.4 -0.7M742.5 71l0.6 0.7M1321.9 75.1l0.6 0.2M1566.7 79.3l0.1 -0.1M1250.6 74.4l-0.3 -0.6M738.4 72l-0.4 0M1333.1 76.5l-1.2 0.6M882.4 77.5l2 -1M946.1 81.3l2.4 0.9M1509.7 81.1l0.3 0.2M1324.7 69.8l1.8 0.2M631.2 69.7l-0.4 0M1352.2 68.1l0.8 0.2M1607.5 78.4l1.1 -0.8M1143.1 80l-0.7 0.7M901.2 74.7l0.6 0.8M1223.1 73.8l0.3 0.8M570 73.7l-1.4 0.8M1572 88.4l-1.1 -0.1M799.4 75.9l-1.6 0.6M706.1 70.6l1.8 -0.6M1009.4 85l-1.9 -0.1M1208.6 78.6l2.1 0.1M1608.4 72.4l0.4 0.3M1232.8 74l0.6 -0.5M1323.8 70.3l0.5 -0.3M936.7 80.3l-2.3 0.1M1474.7 78.4l2.4 0.2M595.7 70.4l-2.4 -0.3M1600.3 74.2l-0.6 -0.6M633.9 73.5l-1.4 0.7M920.5 75.7l2.2 1M893.7 75.3l0.9 -0.7M1379.8 72.6l-2 -0.2M870.7 76.2l-1.4 -0.6M570.2 70.1l-1 -0.4M1228.2 72.5l-0.4 0.9M720.2 73.5l1.4 -0.2M717.2 69.7l-2.1 0.7M903.6 75.7l-0.6 0.1M865.9 73.7l-0.7 -0.8M1540.8 80.1l-0.9 -0.1M995.1 83.3l1.5 0.5M1395.8 78.2l-0.7 0.4M663.8 69.4l-0.8 -1M921.6 75.5l-0.7 -0.4M677.9 71.9l-2 -1M1236.3 71.5l-0.5 0.9M1085.3 79.3l-0.1 0.8M1098.4 79.7l-1 0M1186.9 76.6l2 -0.9M1023.6 85.1l-0.7 0.7M1580.3 86.9l0.7 -0.5M606.3 74.2l0.5 0.1M1424.3 73.3l-1.5 -0.9M1341.7 75.5l1.5 0.1M1422.1 79.5l-0.7 0.8M680.2 71.1l-0.4 0.9M758.9 71.8l-1.7 -0.1M935.6 80.8l1.2 -0.1M1322.6 68.9l-1.9 0.9M1570.5 85.3l-2.3 -0.5M670 73.3l-1.1 0.1M660.9 68.2l-0.2 -0.5M582.6 70.5l1.5 0.7M1210.3 74.8l-2.4 -0.2M1598.2 83.2l1.6 0.3M1269.4 74.3l-0.5 0.6M1320.6 72.9l-2.5 -0.1M826.4 77.6l0.1 -0.2M1602 79.2l1.8 -0.7M1133.7 79.2l-2.4 -0.8M1158.4 72.8l-2.4 -0.6M1417 74.1l0.9 0.1M815.6 74.5l-2.3 0.7M567.4 74.1l0.2 -0.8M906.2 75.8l-0.4 0.4M832 71.9l-2.1 0.2M777.5 74l-1 -1M1576.4 82.9l1.5 -1M1280.3 72.1l-1.6 -0.8M1284.9 74.7l-0.7 0.8M1462.6 81.3l1.2 -1M864.3 79.2l0.9 -0.6M1084.7 81.3l-1.4 0.5M810.3 73.5l0.5 0.8M753.8 75.2l1.2 -0.3M1385.5 76.4l-2 0.8M1356.4 67.6l2.5 -0.6M628.1 72.8l-1.2 0.6M1288 76.8l0.9 -0.3M1554.6 80.4l-1.9 0.1M733.9 69.7l2.3 0.5M1365.1 76.8l-0.7 1M940 76.9l-0.1 0.7M1562.5 80.6l2.1 -0.3M700.1 69.4l1.9 -0.2M953.9 78.5l2.3 -0.8M1412.5 72.2l1 0.6M1168.8 72.9l0.4 0.7M1548.4 88.7l0.6 1M945 82.3l-0.5 0.2M828.9 72.2l-2.5 -0.4M1411.8 78.2l-1.6 -0.4M763.3 71.4l1.8 -0.5M1459.1 73.9l-0.5 -0.2M1484.6 82l0.9 0.9M1157.7 79.6l0.2 0.1M1065.1 84.3l-2.4 0.7M563.2 69.9l-1.1 -0.4M612.2 70.7l-1.5 -0.7M1122 79.3l-0.9 -0.5M1015 80.4l2.3 0M902.7 79.5l1.2 -0.6M730.6 71.4l-0 -0.9M560.4 74.4l-1.2 0.7M1409.6 77.6l2.2 -0.1M1175.8 73.5l-1.9 -0.6M1453.8 80.1l1.2 -0.1M899.3 74.3l0.7 -0.8M859.9 77.5l2.2 0.3M785 74.2l-1.9 -1M1119.5 79.1l-0.8 0.7M1376.5 69.9l0.9 0.9M1442 77.8l1.1 -0.6M638.4 74.4l-0.3 -0.5M948.7 77.9l-2.3 0.4M965.2 83l-0 0.5M725.2 70.4l2 -0.6M1527.8 85.2l-0.6 0.4M739.1 72.7l0.8 -0.4M645.5 69.4l1.1 -0.6M934.9 80.6l0.1 0.7M1258.9 71.3l0.7 -0.2M832.5 77.7l1 -0.3M594.1 72l2 0.3M1005.5 84.5l1.2 0.1M728.6 70.9l1.4 -0.6M1546.4 83l2.5 -0.5M1224.5 74.7l-1.7 -0.7M652.8 68.5l2.3 -0.9M1024.4 81.7l0.3 0.2M1260.7 77.4l-2.4 0.4M1602 72.5l2.3 -0.4M1359.6 71.2l-2.2 -0.1M789.7 72.2l-1.2 0.1M1153.4 76.1l2 -0.8M1296.6 73.7l-1.9 0.9M925.2 77.5l-1.1 -0.8M1434.2 80.9l1.1 0.9M804 77l-0.8 -0.8M1605.9 78.4l-1.7 -0.9M1609 70.8l-2.1 -1M1007.1 83.2l1.7 0.6M818.4 77.8l-1.2 -0.7M801.6 75.9l0.8 -0.1M1508.8 77.7l-0.1 -0.1M1091.8 73.7l-0.4 -0.1M727 69.3l1.5 0.4M1381.3 75.4l1.6 -0.6M560.6 70l1.2 0.1M1124.6 77.4l-2.3 0.1M1466.8 83.6l-1.2 0M977 79.2l-1.7 0.2M1085.4 76l0.7 0.4M860.9 73.1l-0.7 0.2M910.4 75.4l1.2 0.2M1538.2 78.6l-0.7 -0.5M899.4 78.9l-1.1 -0.8M1362.6 74.6l1.8 -1M879.8 73.4l1.8 1M1579.4 80.8l0.7 0.9M712.5 71.7l0.4 0.6M1175.3 79.6l1.9 0M1235.3 80.2l2.4 -0.9M1595.8 80l-0.2 0.3M1058.7 79.7l1.6 -1M1010.1 83l1.4 -0.4M927.2 75.5l0.3 -0.3M810.5 77.6l-1.5 -0.6M1343 67.6l-0.6 -0.9M581.8 67.9l1.9 0.8M1312.4 73.1l-0.9 -0.3M1071.7 84.1l-0.4 0.9M1106.2 78.3l-0.1 0M1497.2 78.7l1.2 0.9M1356.2 70.6l1.7 -0.2M1202.5 78.1l1.9 0.6M1058.8 81.6l2.3 -0.4M1165.1 72.5l0.1 -0.8M768.8 75.8l-0.7 -0.9M1335.1 76.4l-2.4 -0.9M599.3 69l-2.3 -0.3M1444.5 73.3l-1.1 -1M1452.8 75.7l2.1 0.4M1354.8 71.5l0.9 0.2M684.5 72.8l1.1 0.9M726.9 73.9l-0.9 0.1M1486.1 83.4l2.3 -0M615.3 71l-0.7 -0.2M1503.9 86l-1 0.1M931 78.6l0.9 -0.1M654.7 70.7l-2.2 -0.3M1350 75.3l-1.4 -0.6M582.5 70.6l-1.6 0.5M632.1 73.6l0.6 0.2M858.2 78l1.7 0.2M1059.1 85l-0.8 0.2M713.9 71.1l1.8 -0.2M1125.1 78.8l-1.9 0.1M647 68.5l2.1 0.8M1476.6 81.8l0.5 0.5M1015.9 80.7l0.7 -0.9M610.6 68.4l2 0.4M1111.2 75l2.1 0.5M1273.5 79l-1.2 -0.3M1040.7 84.4l1.5 1M972.9 78.3l-0.9 0.6M834.3 76l-1.5 0.1M884.3 74.1l-1.8 0.8M788.8 75.6l0.9 0.4M713 70.8l-0.7 0.2M1003.9 81.6l-2 -0.8M1452.5 81.3l1.7 -0.4M1277.3 74.9l-0.1 -0.5M863.6 78.2l1.5 -1M1475.2 75.7l-1.2 -0.6M1424.2 76.8l-1.4 0.1M1534.2 78.8l0.2 0.1M1329 74.7l-2.3 0M676.4 72.5l-0.9 0.1M606.3 72.8l-2.4 0.7M1595.8 79l-2.4 -0.8M1356.5 73.2l1 -0.3M1527.9 84.6l0.5 0.1M841.9 76.7l2.3 0.8M1456.2 75.1l0.3 -0.4M669.5 68.2l1.4 -0.5M1487.1 78.8l-2 -0.4M809.1 72.5l1.6 0.3M1018.5 79.8l-0.5 -0.7M1244.4 70.1l2 0.7M1019.3 82.3l0.7 0.1M1525 80.3l1.7 0.2M627.1 73.9l-1.3 0.2M1490 75.6l0.5 -0.5M1180.4 78.9l0.1 -0M1541.7 78.9l-2.3 0.6M1192 74.7l-0.3 0.8M1375.9 77.7l-0.8 -0.5M792.9 75.8l0.9 -0.3M820.8 75.8l1.7 -0.7M1473.7 77.7l-0.1 -0.7M1607.3 69.5l0.6 0.1M1203.2 76.6l-2.4 -0.6M913.7 80.5l1.3 0.1M1442 72.6l0.4 0.3M790.6 76.4l1.2 0.7M786.4 71.3l-0.4 0.2M1486.7 75.2l1.6 0.7M1291.3 70l1.6 -0.5M1166 81.5l-1.5 0.9M746.9 73.1l-1.5 -0.5M992.5 83.8l1.2 -0.6M716 71.8l-0.1 -0.2M1577.5 80.1l1.8 0.1M698.1 69.9l-1.3 0.1M716 70.4l-1.4 0.9M1366.3 72.7l-1.9 -0.6M1024.8 81l-0.1 0.8M1144.7 79.9l-1.5 -0.9M1415.4 71.3l1.7 0.8M1439.5 76.8l-0.5 0.2M1540.2 86.6l2.3 0.4M703.6 74.3l-1.8 0.8M874.4 74.2l1 -0.6M914.4 79.6l-1.9 -0.3M1293.7 73.6l0.2 -0.1M1228.1 74.3l-1.8 -0.8M908.7 76.3l1.5 0M1463 76.3l1.6 0.3M1487.8 81.8l-1.3 0.3M1231.3 74.3l-1.3 0.5M1246.9 75l0.3 -0.4M968.4 77l-1.8 -0M1199.2 75.5l-0.2 -0.8M1398 79.6l-0.7 -0.2M738.5 69.7l1.6 -1M600.3 74l-1.3 -0.7M1056.2 85.1l-2.3 1M1491.6 84.6l-0.8 -0.6M711.5 71.1l-0.3 -0.4M1078.9 82.1l-2.3 -0.8M997.7 79.9l1.5 -0.2M577.2 68.7l-2.4 -0.5M1178.7 76.4l-1.2 0.2M736.3 70.4l-2.3 -0.9M899.3 75.3l1.8 0.8M989.5 78.2l-0.6 0M767.6 72.2l-1.2 0.8M897.8 74.5l0.3 -0.2M1244.5 77.5l-0.1 -0.1M820.4 77.7l-1.8 0.6M578.9 72.2l-1.5 -0.8M1092.9 74.7l-0.3 0.9M835.5 73l-2.4 -0.7M1336.8 77.8l-0.1 -0M1404.6 73.7l1.2 -0.9M732.7 71.5l0.1 0.8M1551.4 80.4l1.4 -0.5M1168 76.4l0.9 -0.4M1019.3 83.9l1.3 -1M1424.4 72.3l-2 0.7M747.2 71.5l-2.2 -0.4M1163.1 71.7l0.7 -0.6M610.5 69.1l-1.2 -0.1M1304 71.3l-1.5 0M1583.3 87.1l0.4 -0.2M587.4 68.2l-0.7 1M1064.3 82.2l-1 -0.9M1375 76.4l1.6 0.3M1513.7 83.2l-0.8 0.3M1100.4 73.8l-0.4 0.6M827.1 76.2l0.4 0.1M821.9 77.6l-2.2 -0.3M931.1 79l-0.2 -0.3M766.1 74.8l-0 0.9M1552.4 79.5l-1 -0.4M813 72l1.1 0.9M707.5 74.5l-0.5 -0.8M1056.9 82l2.5 -0.1M1338.9 70l0.9 0.1M1240.6 70.9l-1.5 -0.9M1314 77l1.3 -0.2M1547.1 82l-0.9 -0.7M605.3 73.9l-0.3 0.4M1602.6 73.9l0.1 0.2M1173.2 81.2l0.4 -0.9M728.7 69.4l-1 0.3M897.8 79.2l-0.3 0.2M1528.2 81.6l-1.8 -1M1104.7 83l-0.9 -0.8M617.4 69.3l0.2 -0.2M1233.7 71l-2.4 0.8M1338.3 71.4l0.5 0.7M1193.9 71.8l-0.8 -0.6M1206.9 72.8l2.3 0.7M1197 72.1l1.1 0.2M1302.4 77.4l-0.8 0.2M793.9 75.3l-2.3 -1M1599.8 83.4l-1.9 0.3M1149.8 81.2l0.2 0.3M651.2 69.4l-1.6 -0.8M1421.5 76.5l-1.9 0.4M782.4 73.3l-2 0.4M1228.4 76.8l-2.1 0.3M873.4 73.8l2.2 -0.9M627.6 74.1l-2.4 -1M1576.8 87.3l1.3 0.3M1303.1 75.3l-0.9 -0.6M592.8 70.8l-1.8 0.3M777.6 75.4l-1.1 -0.8M1021.5 80.2l-2 0.3M598.8 72.8l-1.1 -0.3M1369.6 78.7l-0.3 -0.2M849.7 77.7l-1.4 0.1M1454.5 73l-0.6 -0.9M864.3 74.5l-0.7 -0.2M769.3 70.7l0.8 -0.1M1064.2 85.3l-0.2 0.8M1190.3 73.9l-0.8 -0.1M1267.2 74.3l-1.2 -0.7M893.7 77.9l0.6 -0.7M1438 79.8l0.6 0.3M1328.8 69.5l1 -0.7M950.8 82.1l2.3 -0.4M1169.4 72.4l0.8 0.9M1045.2 80.7l0.5 -0.3M978.7 79.2l-1.9 0.3M1102.2 79.5l-2 0.3M608.5 73.3l2.4 -0.9M1535.9 83l-0.8 -0.7M1502.2 84.1l0.9 -0M717.9 74l-1.6 -0.9M1598.5 82.3l2.2 -0.5M1101 82.2l0.7 -0.4M587.3 73.4l-0.3 -0.9M654 72l0.6 -0.5M1218.3 73.2l1.2 1M1569.3 86.6l0.3 0.9M1397.9 71.9l1.9 -0M940.9 79.4l1.2 -0.1M660.5 68.6l-1.9 0.9M1396.4 75l2.4 -0.7M877 79l-1.7 -0.1M629.7 69.7l-0.3 -0.2M999 82.6l1.6 -0.7M1307.2 77.5l1.1 -0.3M724.8 69.9l-2.1 0.6M927.2 80.3l-2.1 0.8M632.1 68.8l-1.4 0.2M1120 76.1l-0.5 -0.1M980.1 79.9l1 -0.4M1480.4 74l0.3 0.3M1455.2 75l1.4 -0.9M1073.2 79.5l0.6 0.5M684.9 73.8l-1.8 -0.5M1253.5 72.2l-1.9 0.9M1345.8 68.3l0.2 0.1M729.8 72.7l0.8 1M1347.9 76l1.6 0.8M748.1 69.7l2 0.6M580.3 68.7l2 -0.8M1514.5 77.9l-1.5 -0.6M985.9 79.9l1 -0M1012.2 83.2l-2.1 -0.1M732.6 74.6l-0.8 0M1572.3 84.7l1.2 -0.9M1267 74.9l-1.3 0.6M281.8 18.4l1.6 -0.7M360.7 22.4l0.2 0.5M266.6 16.8l-1.1 0.4M290.9 24.8l1.2 -0.3M371.3 17.2l0.3 -0.5M215 21.5l-0.1 0.7M343.8 21.6l-0.5 0.6M347.1 19.2l0 0.2M250.8 20.2l1.6 -0.3M291.1 17.2l-1 0.6M296.6 17.3l1.4 0.3M408.4 16.6l-0.7 -0.3M325.4 17.4l1.2 0.1M247.3 21.5l0.8 0.7M378.4 17.8l-1.7 0.2M278.1 19.9l-1.8 -0.7M305.8 19.2l-0.1 0.7M254.6 19.5l0.9 -0.1M225.5 18.8l-1.5 0.3M289.7 17.2l0.5 -0.6M261.1 16.5l-0.5 -0.3M389.9 16.6l-0.7 0.6M410.8 16l-1.2 0M240.4 18.3l-1.3 -0.2M228.7 17.1l-0.4 0.2M284.1 17l0.3 0M362.1 18.6l1 -0.5M369.8 17.6l1.4 0.3M308.4 20.2l-1.5 -0.1M267.2 16.7l0.4 -0.2M251 20.8l-1 -0.8M325.8 17.3l1.7 0.3M223.1 16.7l-0.5 0.6M263.8 17.5l-0.1 0M349 23.4l-2 0.2M296 18.6l0.7 -0.5M355.2 16.3l1.1 0.5M361.6 18l-1.7 -0.4M270.9 18.4l-1.9 0.1M408.3 23.4l-0.4 0.4M392.2 16.7l-2 -0.2M251.9 22.4l-2 0.4M329.9 17l-0.8 0.3M325.6 18.5l1.4 -0.1M359.4 19.7l-0 -0.4M398.3 17.1l0.8 0.8M393.4 17.5l0.9 -0.7M233.8 23.7l-1.6 0.3M238.7 17.1l-1.7 -0.4M245.4 18.4l1.7 0.7M239.4 18.9l-0.7 -0.4M375.4 24.8l-0.4 0.5M375.7 20.6l-0.7 0.3M313.7 18.2l-0.2 0.6M384.3 20l-1.2 -0.3M394.6 23.6l0.2 -0.7M406.5 19.6l0.8 0.8M324.8 18.4l-0.1 -0.4M234.5 17.1l-1.7 -0.1M335 16.6l0.1 0.2M241.1 22.6l1.5 0.2M298 20.1l0.7 0.6M226.1 17.8l-1.6 0.3M214 16.6l1.2 0.2M330.8 18.5l-1.8 0.5M216.1 17.7l-0 -0.7M239.7 18l-0.7 0.4M233.6 19.9l-0.9 0M285.1 21.4l-1.4 0.3M268 16.9l-0.1 0.5M1974.2 88.4l-0.4 0.3M2020.4 94.9l-2.3 -0.6M2028.4 98.7l-0.5 0.4M1999.8 94.9l1.2 0.2M1973.8 89.7l0 -0.4M1979.6 93l-0.5 0.5M2011.4 98.9l2.4 -0.9M2008.4 93.9l-0 0M1982.5 93.6l2 1M1982.2 90l-1.7 0.6M1955.1 67.2l-1.1 -0.9M1998.9 94.1l0.5 -0.1M2028.4 97.8l-1.1 -0.5M1985.5 91.9l-0.8 0.1M1988.4 93.1l2.2 -0.1M2025.5 99.3l-1.7 0.1M1952.8 67.2l0.3 -0.7M1967.1 84.9l1.6 0.7M1952.6 67.3l2.4 0.3M1993 94.9l-1.9 -0.4M1983.7 95.7l0.1 -1M1998.5 94.2l-0.6 0.5M2021.1 98l-1.9 -0.4M1999.1 94.1l-1.5 0.9M1951.5 63.6l0.4 1M2010.7 94.4l2.1 0.6M1967.5 84.7l0.1 -0.7M2024.4 98.6l-1.8 -0.5M1959.2 76.3l2.3 -0.4M1957.9 75l1.1 -0.8M2018.5 97.6l-1.2 -0.8M2001.6 95.4l-1.2 -0.7M1955 71.4l-0.1 -1M1956.3 69.4l-0.4 0.9M1970.7 87.5l-1.7 0.2M1968.7 87.3l2.5 -1M2007.8 97.7l1.2 0.2M1962.4 79.8l2.2 0.9M1961 75.7l-0.4 -0.5M2015 99.1l0.9 -0.9M1962.6 81.3l-1.9 1M2010.4 94l1.8 -0.9M2017.8 98.1l-1.7 0.6M1957.3 72.9l1.1 0.3M2012.2 94.8l0.8 -1M1991.7 95.7l0.5 0.3M1981.8 90.7l-1.7 -0.6M2000 93.5l-1.7 0.3M2011.2 97.7l1.8 0.2M1992.5 97.2l-0 -0.1M2027.7 97.2l1.1 0.6M2022 99.1l-1.5 0.6M1971.3 90.8l-2.3 0M1991.5 96.7l2.2 -0.7M1974.2 93.2l-0.7 0.8M2022.8 99.6l-1 -0.9M2000.8 95.5l1.2 -0.1M1962.5 79.6l2.2 -0.3M2009.9 95.5l1.6 0.1M1979.3 90.4l-1 0.8" stroke="#fff" stroke-width="1.1" fill="none"/>
<circle cx="567" cy="19" r="1.3" fill="#fff"/>
<circle cx="1176" cy="80" r="2.2" fill="#000"/>
<circle cx="1283" cy="98" r="1.6" fill="#000"/>
<circle cx="1468" cy="122" r="1.5" fill="#000"/>
<circle cx="954" cy="87" r="1.3" fill="#000"/>
<circle cx="1292" cy="91" r="1.2" fill="#000"/>
<g id="section">
<path d="M209 324.8 L212 324 L215 323.6 L218 324.4 L221 324 L224 323.8 L227 323.5 L230 323.5 L233 325.5 L236 325.6 L239 325 L242 324.1 L245 323.4 L248 325.3 L251 324.3 L254 325.4 L257 324.4 L260 324.5 L263 323.7 L266 325 L269 324.3 L272 323.3 L275 324.4 L278 325.7 L281 323.8 L284 324.5 L287 324.7 L290 325 L293 323.6 L296 325.6 L299 323.9 L302 325.3 L305 324.6 L308 324.9 L311 323.6 L314 324.3 L317 324 L320 323.7 L323 323.4 L326 324.1 L329 325.1 L332 323.3 L335 324.8 L338 325 L341 323.5 L344 325.3 L347 324.9 L350 324.9 L353 325.4 L356 324.8 L356 333.8 L353 335.9 L350 335 L347 334.7 L344 336.8 L341 333 L338 336.7 L335 333.1 L332 334.7 L329 333.3 L326 335.1 L323 334.2 L320 336.3 L317 335.1 L314 336.6 L311 333.9 L308 333.6 L305 334.1 L302 335.9 L299 335.6 L296 337.7 L293 333.6 L290 337.4 L287 337.2 L284 337.3 L281 333.2 L278 336.3 L275 333.3 L272 337.7 L269 333.7 L266 335.1 L263 334.7 L260 333.5 L257 335.4 L254 335.9 L251 333.7 L248 333.5 L245 333.2 L242 334.6 L239 337.5 L236 333.8 L233 335.4 L230 335.6 L227 335 L224 337.6 L221 334.8 L218 334.7 L215 337.9 L212 333.4 L209 336.7Z"/>
<path d="M227.1 325l1.9 -7M227.6 325l-0.9 -5.5M228.7 325l-1.8 -7.2M224.2 325l1.6 -6.8M225.7 325l-0.8 -6.4M227.6 325l-1.6 -6.1M228.1 325l3 -7.1M228.7 325l-6.7 -5.1M229.3 325l-4.6 -7.3" stroke="#000" stroke-width="1.8" fill="none" stroke-linecap="round"/>
<ellipse cx="227" cy="323" rx="6" ry="3.1"/>
<path d="M252.1 325l-2.9 -3.9M256.9 325l2.9 -3.7M253.6 325l-1 -6.5M255.6 325l3.1 -8.4M255.2 325l-0.8 -6.7M256.5 325l0.4 -5.9M255 325l-0.2 -5.9M254.7 325l3.2 -6.8M254.9 325l4.1 -2.7" stroke="#000" stroke-width="1.8" fill="none" stroke-linecap="round"/>
<ellipse cx="255" cy="323" rx="6" ry="3.1"/>
<path d="M287.8 325l-2.8 -8.4M287.3 325l-0.6 -8.9M287.1 325l-1.1 -7.3M282.6 325l-3.7 -6.4M284 325l3.8 -6.7M285.3 325l1.5 -7.2M288.1 325l-0.1 -5.4M282.9 325l4.3 -5.5M288 325l-6 -5.8" stroke="#000" stroke-width="1.8" fill="none" stroke-linecap="round"/>
<ellipse cx="285" cy="323" rx="6" ry="3.1"/>
<path d="M316 325l1.2 -4.5M314.1 325l0.3 -5.5M314.8 325l2.8 -8.1M314.5 325l-1.5 -8.6M320.1 325l-2.2 -4.1M316.4 325l-1.7 -4.6M314.9 325l-1.6 -8.4M318.1 325l-1.6 -5.1M316.8 325l-4.5 -5.2" stroke="#000" stroke-width="1.8" fill="none" stroke-linecap="round"/>
<ellipse cx="317" cy="323" rx="6" ry="3.1"/>
<path d="M343.5 325l5.7 -5.7M342.5 325l-6 -4.5M341.8 325l3.9 -4.7M346.4 325l0.2 -9M341.3 325l5.4 -5.2M341.8 325l-2.2 -7.9M344.1 325l3 -8.2M345.9 325l-0.8 -4.9M342.8 325l-2.1 -4.6" stroke="#000" stroke-width="1.8" fill="none" stroke-linecap="round"/>
<ellipse cx="344" cy="323" rx="6" ry="3.1"/>
<path d="M258.6 342.9l3.6 -0.8M335 339.6l-2.5 2.7M227.6 336.5l0.1 4.8M283.3 336.5l-1.6 5M266.1 340.7l-5.1 0.4M258.5 337.4l2.6 4.7M249.6 336.8l-1.3 5.3M229.6 336.9l0.2 5.4M286.2 338.1l-2.6 -0M311.2 342.6l-1.9 5M223.3 338.7l2.7 0.1M280.9 336.8l5.9 2.4M345.8 336.8l5.7 1.4M233.5 337.1l2.9 1.5M268.8 341.6l2.4 -4.1M300.8 336.7l-4.6 3.8M311.5 337.2l-2 5.4M296.1 336.9l-1.6 4.2M245.1 336.9l4.2 1M225.4 340.5l2.2 -1.1M263.1 338.7l-0.4 3.1M258.7 339.7l-4.8 -2.8M285.9 339.6l-4 1.5M240.1 337.8l4.4 1.5M324.9 339.4l-2.2 1.5M228.4 336.2l-1.1 2M245.3 338.9l-2.9 5.1M311.3 341.3l2.1 -4M333.1 339.8l3.5 -1.2M268.3 337.5l3.9 3.1M340.3 340.4l-0.7 5.5M259.6 340l5.1 1.3M299.1 336.1l-0.9 1.9M271.7 337l-3.6 1.4M287.8 337.2l3.3 -0M269.1 342.2l-4.8 1M341.6 337.7l1.1 2.2M344.1 340.7l1.3 -3.5M304 337.1l-5.6 2.3M346.5 341.9l-1.1 -4M328.4 339.3l-2.3 1.7M326.4 336.5l1 5.4M348 337.4l2.4 0.9M268.9 337.4l2.3 3.2M312.5 336.2l1.6 2.4M354.8 339.4l-4.2 3.4M231.6 339.6l4.9 3.9M226.5 338.7l-1.2 4M234.6 337.1l3 0.2M286.6 338.7l-3.7 2.8M273 339.2l-3.1 4.3M341.1 341.6l-4.3 -4.5M288.4 337.4l0.6 2.7M238.5 339.9l-1.2 3.7M281.6 340.8l-0.8 5M271.7 336.5l3.1 4.8M239.8 336.6l-1.2 2.4M284.8 342l2 -1.1M341 339l-1.5 -1.5M269.8 338.1l-4.7 -0.2M343.9 342.7l-2.6 5.3M247.9 339.3l5.4 3.2M286.8 341.1l5 2.1M265.8 340.6l-0.4 -2.7M314.2 338.7l2.7 3.4M279.3 336.7l1.7 2.7M304.4 336.3l4.7 4.1M259.9 336.1l-2.8 2.1M340.3 337.2l0.8 2.4M277.7 338.6l0.2 4.3M286.8 341l2.1 0.7M296.7 337.4l-4 1M331.6 340.2l1.3 -3.2M312.3 336.9l-2.4 6M328.6 341.2l-0.2 2.4M263.5 337l-0.9 6.3M258 338.9l4.8 -1.2M234.2 345.6l0.5 -4.6M229.3 340.4l-3 3.5M318.6 341.5l-1 -3.8M250.8 336.6l1.9 6M263.5 339.2l-5 2.8M341.2 339.4l0.1 4.7M345.2 337l4.3 2.3M292.2 337.4l1.9 1.4M300.8 341.6l2.6 4.9M316.2 340.2l5.6 1.9M318.4 338.6l-2.2 3.2M300.5 344.7l-2.4 -3.2M218.7 337.4l1.6 2.8M276.3 340.2l5.2 3.9M242.3 339.4l1.5 3.4M260.7 338.6l-1.6 2.3M278.3 341.2l0.1 2.2M337.8 342.2l-0.6 -3.9M304.1 339.9l-2.4 5.1M328.5 340.6l-0.9 4.8M295.3 337.8l3.6 4.1M239.9 338.2l1.1 4.1M322.3 336.4l1.7 2.5M251.8 336.6l2.5 0.8M272.1 336.3l-1.9 1.6M219.4 339.5l4.3 1.2M279.7 338.5l1 2.8M278 336.9l0.1 5.1M216.9 341.1l0.7 -2M233.4 337.1l-0.4 4.7M352.2 336.1l-2.1 4.6M256.6 338.5l-6.4 -1.3M241.3 344.7l1.2 -5.9M217.8 339.4l-4.2 -2.9M243.6 339l-4.7 3.4M220.9 342.1l2.5 -1.8M232.8 338.6l1.9 4.6M273.4 337.4l-4.2 4.9M218 336.9l-6 1.3M320 337l-0.4 2.1M326.9 343.7l-3.6 0.7M235.5 338.4l5.8 -1.2M219 341.2l5.3 2.2M270 337.6l3.4 1.4M307.2 339.9l-2.6 2.5M328.4 342.5l-2.2 3.4M342.6 336.9l1.8 1M254.1 339.6l-1.8 4.9M316.5 337l4.7 1.6M216.5 336.5l-0.8 2.1M243 336.7l2.1 2.5M347.3 336.8l-1 2.5M239.7 341.1l-0.1 5.5M304.1 337.2l4.2 2.5M213.1 337.4l-4.6 1.4M226 342.7l0.1 5.1M216.5 337.7l3.2 1.7M235.1 336.7l2.5 5.6M315.4 339.9l1.6 2.7M348.9 336.5l-4.5 3.8M322.4 337l2.8 0M279.7 340.9l0.6 4.8M240.6 337.5l1 2.6M349.8 337.1l-0.3 4.6M278.6 339l4.7 1.1M252.3 339.3l1.1 4.8M309.2 336.9l0.1 4.6M320.2 337.2l5.8 1" stroke="#000" stroke-width="1.8" fill="none" stroke-linecap="round"/>
<circle cx="350.1" cy="346.1" r="1.4"/>
<circle cx="261.6" cy="348.6" r="1.8"/>
<circle cx="296.6" cy="341.8" r="2"/>
<circle cx="211.6" cy="352.6" r="2.1"/>
<circle cx="250.7" cy="343.2" r="2.3"/>
<circle cx="232.7" cy="345.3" r="1.4"/>
<circle cx="340" cy="352.3" r="2"/>
<circle cx="308.5" cy="346.6" r="1.9"/>
<circle cx="238.8" cy="351.7" r="2.2"/>
<circle cx="278.8" cy="348.3" r="1.8"/>
<circle cx="338.3" cy="344.6" r="1.3"/>
<circle cx="234" cy="352.3" r="2"/>
<circle cx="215.3" cy="342.7" r="1.4"/>
<circle cx="306.9" cy="350.8" r="2"/>
<circle cx="336.7" cy="348.5" r="1.9"/>
<circle cx="297.1" cy="351.7" r="1.8"/>
<circle cx="258" cy="346.2" r="1.7"/>
<circle cx="327.6" cy="352.5" r="2.3"/>
<circle cx="250.4" cy="346" r="2.2"/>
<circle cx="256.7" cy="347.5" r="1.6"/>
<circle cx="217.8" cy="343.9" r="2.3"/>
<circle cx="336.9" cy="341.7" r="1.8"/>
<circle cx="351.6" cy="346.3" r="1.5"/>
<circle cx="268.4" cy="344.9" r="2.4"/>
<circle cx="224.2" cy="346.4" r="2"/>
<circle cx="303.7" cy="349.5" r="1.7"/>
<path d="M237.4 329.1l-1.5 -1.9M237.1 334.4l-0.7 0.3M243.7 328.1l-0.5 -0.8M307.3 334l0.2 -1.9M322.1 334.1l-0.8 -1.9M319.5 330.7l1.8 -0.3M228.6 332.9l-1.8 1.4M291 333.4l1.4 -1.9M337.9 331.1l-0.3 -0.8M255.1 336.2l0.2 -1.6M252.2 329.5l1 -1.3M329 333.2l-0.6 1.4M326.7 330l0.1 1.8M213 328.2l0.2 1.1M286.6 334.8l-0.2 -1.8M250.5 330.9l-1.3 -1.9M307.1 329.6l-0.6 1.2M225.9 336l1.7 -1.5M277.7 333l1.4 -0.8M217.6 332.5l-1.3 -0.2M315.9 335.7l-0.6 -0.8M329.7 334.7l0.9 -0.5M276.7 334.1l-1.6 -0.4M297.2 336.1l-0.7 2M288.2 331.2l-1.6 0M301.9 333.5l-0.7 -1.4M345 337l-0.7 0.5M301.3 330.4l-0.9 -1.7M292.3 329.3l0.1 -0.3M236.8 334l1.6 0.4M308 336.1l-0.9 1.5M252.5 332.6l0.7 0.8M337.4 329.2l0.1 0.6M262.2 333.7l1.6 1.6M263.7 336l0.8 -0.6M223 333.2l-0.7 1.7M350.4 331.8l0.4 -0.7M241.8 332.6l1.8 1.5M313.2 333.9l-0.9 -1.1M322.1 332.9l0.5 1.2M247.6 330.6l0.3 -0.7M285.6 331.8l1.2 1.2M255.8 332.9l1.2 0.7M340.3 336.5l0.9 1.1M242.2 331.6l-0 -1.5M286.6 331.4l-1.7 1.5M289.3 333.5l-1.2 -0.2M253.1 335l-1.7 0.1M329.3 334.2l-1.3 -0.4M252.3 332.9l-0.4 -1.9M273.1 333l0.5 -1.2M231 330.4l-1.6 -0.5M304.8 330.9l0.5 0.1M250.7 334l1.2 1.9M282.2 330.8l-0.1 1.3M303.5 332.3l-1.7 1.2M291.1 330.5l0.1 0.2M234.9 337l1.1 -0.8M248.4 336.7l-0.3 -0.7M326.9 329.5l-1.4 0M217.8 335.3l1.4 0.5M350.7 333.2l-0.8 -1.6M268.6 331.4l-0.2 -0.7M298.8 332.5l-1.1 -0.3M268.3 330.4l0.2 -1.8M243.5 331.8l0.7 -1.6M317.4 334l1.9 -0.1M244.2 335.5l-1.1 -1M253.3 334.7l-2 -0.8M311.1 335.6l-0.8 0.6" stroke="#fff" stroke-width="1" fill="none"/>
<path d="M372 322.6V326M378.4 321.1V326M384.7 319.6V326M391 318V326M397.7 316.4V326M403.9 314.9V326M410.4 313.3V326M417 311.7V326M423.7 310.2V326M430.1 308.8V326M436.3 307.4V326M442.9 305.9V326M448.9 304.6V326M455 303.2V326M461 301.9V326M467.3 300.5V326M473.9 299V326M480.1 297.6V326M486.9 296.1V326M493.5 294.7V326M500 293.2V326M506.8 291.7V326M513.2 290.3V326M519.9 290.2V326M526 290.1V326M532.2 290V326M538.9 289.9V326M545.4 289.8V326M552 289.7V326M558.1 289.6V326M564.5 289.6V326M570.8 289.5V326M576.8 289.5V326M583.5 289.4V326M589.7 289.3V326M595.8 289.3V326M602.2 289.2V326M608.6 289.2V326M614.7 289.1V326M621.3 289.1V326M627.9 289.6V326M634.6 302.1V326" stroke="#000" stroke-width="2" fill="none"/>
<path d="M352 327.5 L420 311 L500 293.2 L513 290.3 L560 289.6 L627.5 289 L631.5 295 L643.6 322.5" fill="none" stroke="#000" stroke-width="3.6"  stroke-linejoin="round" stroke-linecap="round"/>
<path d="M356 324.7 L361 324.5 L366 324.2 L371 324.8 L376 324.9 L381 324.2 L386 324.6 L391 324.2 L396 325.1 L401 324.4 L406 325 L411 325 L416 324.7 L421 323.9 L426 323.9 L431 324.4 L436 324.5 L441 324.8 L446 324.7 L451 324.4 L456 324 L461 324.9 L466 324.1 L471 324 L476 324.3 L481 324.2 L486 325.1 L491 324 L496 324.8 L501 324.6 L506 324.8 L511 324.1 L516 325.1 L521 324.2 L526 325.1 L531 325.1 L536 323.9 L541 324.6 L546 324.6 L551 324.5 L556 324.3 L561 324.4 L566 324.1 L571 324.1 L576 324.9 L581 324 L586 324.7 L591 324.4 L596 324.9 L601 324.3 L606 325.1 L611 324.7 L616 324.4 L621 324 L626 324.3 L631 324 L636 324.9 L641 325 L644 324.5 L644 330.7 L641.9 326.3 L638.4 328.4 L635.5 326.3 L631.8 326.3 L628.8 326.8 L625.3 329.3 L622.3 326.3 L619.8 326.3 L615.9 329.3 L613.6 328.2 L611.4 327.5 L608 326.4 L604.6 328.3 L601.3 330.9 L598.3 329.4 L595.6 329.4 L592.5 328 L590.4 327 L588.3 326.3 L586.1 327.5 L582.6 329 L579.7 330.1 L576.1 328.8 L572.2 328.4 L569.4 327.1 L567.3 326.1 L564.8 326.8 L560.8 328.5 L558 330.5 L555 330.9 L552.7 329.6 L549.5 328 L546.7 326.4 L544.3 326.8 L541.8 328.8 L538.5 330.8 L535 331.3 L531.1 328.4 L527.7 327.7 L524.5 326.4 L521.6 328.6 L519.1 326.3 L515.3 329 L512.5 329.1 L509 326.3 L505.2 326.8 L501.6 327.5 L498.7 326.3 L496 330.4 L492.9 328.9 L489.5 329.7 L486.7 326.3 L482.8 326.1 L480.3 327.1 L477.2 329.7 L473.2 330.2 L470.6 329 L467.2 329.7 L464.7 327.4 L462.3 326.1 L458.5 326.3 L454.6 330.7 L451.8 329.4 L448.9 330.2 L444.9 328.6 L441.6 326.3 L438.7 327.6 L435.5 328.4 L431.6 328.7 L429.1 326.3 L425.5 328.4 L423.3 328.6 L420.3 326.2 L417.9 326.3 L415.6 328.2 L412.1 330.5 L409.7 329.1 L407.2 329.9 L404.4 329.8 L401.9 327.5 L398.4 326.4 L396.3 328.1 L394.2 327.9 L391.5 330.5 L389.1 330.3 L386.8 329.1 L383.6 328.7 L381.4 328.4 L378.4 326.3 L375.3 327.5 L372.7 329.9 L370.6 330.8 L367.1 326.3 L363.6 329.4 L361.3 329 L358.8 327.4 L356 326Z"/>
<path d="M641.3 328l2.7 0.1M549.8 326.7l-6.4 0.5M387.9 327.2l4 2.9M643.4 330.5l1.6 4.2M525.8 326.7l3.3 3.6M467.2 328.1l4 5.1M551.2 328l-3.4 5.2M377.8 333.9l-3.9 4.4M543.2 328.8l-0.1 2.6M512.5 333.8l4.4 -3.9M458.2 336.2l-4.1 -1.5M570.8 328.3l3 0.7M612.6 333.1l-0 -3.5M383.6 333l-1.2 -3.7M522.4 328.3l-1.8 3.7M639.4 326.7l-2.6 5.5M367.1 327.3l0.7 1.9M404.7 334.2l1.3 1.7M598.9 330.6l0.7 -2.2M426.5 331l2.5 2.2M568.6 329l-3.7 3M432.6 330.5l3.8 3.8M528.1 328.9l3.5 0.8M431.9 327.8l-0.5 3.7M391.7 329.9l2.7 -1.9M387.2 330.5l0.5 3.6M426.1 331l-5.1 1.6M476 332l0.6 4.9M448.9 332.2l-5.4 3M622 329.9l-0.2 4.9M594.2 328.2l-2.6 4.5M624.4 326.5l3.1 1.5M433.6 327.1l-0.6 3.8M556.1 329.3l-3.5 2.3M612.4 329.1l5 0.4M425.2 329.6l4.1 3.3M444.7 328.3l-1.7 1.3M542.8 329l-1.1 5.6M529.2 328.5l0.6 2.2M474.9 327.1l1.1 2.9M616.6 327.2l3.2 1.7M448.5 337l2.1 1M498.4 327.2l2.6 0.8M444.8 330.2l-2.4 0.9M512.1 329.1l-2.7 4.8M475.5 328.4l-4 2.6M556.2 327.5l0.2 4.2M455.4 329.7l-3 1.2M420.3 337l3.5 4.3M364.1 328.8l0.5 4.2M611 330.3l-2.1 -3.5M635.2 330.9l-4 -2.6M357.4 327.4l2.1 0.9M631.1 327.2l1.7 1.6M373.3 330.7l-3 -1.3M543 327.8l-2.5 2.1M368.1 328l-2.2 5.9M358.9 327.2l-4.5 1.4M407.3 336.2l-4.1 3.2M519.5 333.8l1.4 -1.8M561.3 329l2.1 3.6M570.1 336.3l2 2.9M420.1 334.5l-5.7 1.1M498.4 332.3l-4.1 -4.2M468.6 326.8l-0.8 2.3M580.3 327.2l-2.1 2.6M394.4 328.4l-1.2 3.9M491.2 332.6l-3.8 1.7M388 330.6l6.1 0.1M443 328.5l2.1 2.4M596.4 329.9l-4.5 3.1M363.6 330.4l1.2 4.2M484.8 331.6l-2.9 0.1M425.3 331.8l-3.8 -3.6M621.6 336.9l4.8 -1.2M635 327.1l1.9 4M553.8 332.6l-6.3 -0.6M636.5 335.1l-3.2 4.7M401.9 329.3l-3.8 0.5M527.5 328.3l0.9 4.1M420.6 333.5l0.3 -5.7M529.6 328.1l3.2 2M586.9 327.1l-1.8 4.4M530.5 328.4l-4.8 -0.3M618 331.2l-3.1 0.3M486.8 328l0.3 2.3M524.4 331.5l4.4 1.1M505.2 328.4l-1.1 2.9M470.8 327.7l-3.4 1.9M480.1 327.2l-2.2 2.7M555 328.5l-3.1 2.3M482.2 326.8l2.1 4.7M493 331.6l3.1 -3.3M361.9 327.7l0.5 2.8M623.4 331.2l-4.8 0.3M525.2 328l4.7 0.5M610.7 332l4.7 -1.6M484.8 327.2l4.3 0.1M509.4 334.3l-3.4 0.9M407.8 327.5l2 0.7M559.7 330.1l5.3 0.5M537.4 327.5l3.6 2.1M467.2 335.3l-1.3 3.1M616.6 328.3l-2 0.7M562.4 336l-1.6 -6.3M379.8 334.4l0.6 -6.3M391.3 335.6l1.1 4.9M391.6 337.6l0.2 -5.2M469.9 327.8l-3.2 0.2M484.8 334l-0.3 -3.7M543.2 337.6l1 1.9M534.9 327.1l-5.2 3.8M634.9 329.7l-0.9 4.4M599.9 329.6l-0.3 3.3M577 335.8l-2.9 1.2M463.1 328.4l-4.1 2.4M546.9 327.8l2.5 0.4M532.1 332.8l-1.1 2.8M458.7 332.8l6.1 -0.8M369.5 329l4.6 -0.2M508.4 331.9l-1.2 -3.8M500.9 329.5l-1.8 2.6M471 329.5l1.8 -1.7M486.8 328.8l-3.3 3.7M472.1 327.6l-6 0.8M594.4 326.5l2.6 5.1M363.1 329.3l3.6 4.9M534.5 331.3l2.2 -3.3M523.7 332.6l-0.2 -2.3M420.9 331l-6.4 0.2M457.9 329.8l-3.9 -2.4M429.4 327.3l1.8 4.7M385.6 329.2l-3.3 3M551 330.8l0.1 -2.7M609.7 331.7l4.7 -3.2M541.5 327.1l5 3M521.7 327.7l-5.3 3.6M361.6 327.3l3.7 0.7M591.9 326.4l-0.3 4.7M559.8 332.9l4 2.8M445.7 332.8l-0.6 3.6M391.5 327l2.9 0.7M515.4 328.5l-3.9 -1.1M541.6 329.7l5.1 3M523.2 335.1l2.6 -4.3M635.5 326.3l4 1.8M371 327.5l-1.3 6.1M621.4 329l-2.7 0.1M393.7 327.3l2 0.2M391.1 330.3l5.9 -0.6M498.8 328.4l2.3 1.6M518.4 328.5l1.1 6.4M465 333.3l6.1 -0.8M360.7 333.5l4.4 -1.1M384.6 331.7l-2.1 3.1M396.6 332.9l4.9 2.3M369.6 334.3l-1.7 4.4M536 331.1l4.1 1.2M505.4 333.1l-3.3 -4.3M446.5 327.1l-2.1 1.5M430.6 327.1l-2.5 2.1M555.2 333l0.4 3.2M608.7 330.5l0.3 5M578.8 329.9l-5 1.8M542.2 329.1l4.6 1.5M622.2 331.7l0.5 5.5M597.1 326.2l-2.1 3.4M503.3 326.6l6.4 0.8M611.7 329.2l5.8 -0.1M566.1 330.7l-4.1 -1.6M532 328.5l-0.2 5M558.4 334l1.1 2M450.4 333.8l1.4 -2M579 329.8l2.8 3.9" stroke="#000" stroke-width="1.8" fill="none" stroke-linecap="round"/>
<circle cx="481.8" cy="346.8" r="2.3"/>
<circle cx="506.9" cy="334.9" r="1.8"/>
<circle cx="608.4" cy="338.1" r="2.3"/>
<circle cx="610.3" cy="339.5" r="1.4"/>
<circle cx="372.9" cy="335.2" r="1.2"/>
<circle cx="428.9" cy="348.8" r="2"/>
<circle cx="501.7" cy="342.9" r="2"/>
<circle cx="599.1" cy="339.8" r="1.2"/>
<circle cx="567.4" cy="352.1" r="1.3"/>
<circle cx="549.1" cy="344.1" r="1.7"/>
<circle cx="419.9" cy="336.7" r="1.5"/>
<circle cx="594.1" cy="338.5" r="1.8"/>
<circle cx="620.8" cy="344.8" r="2"/>
<circle cx="593.9" cy="351.7" r="2.3"/>
<circle cx="437.2" cy="351.6" r="2.3"/>
<circle cx="474.5" cy="343.9" r="1.2"/>
<circle cx="533.7" cy="348.3" r="2.4"/>
<circle cx="444.3" cy="340.3" r="1.8"/>
<circle cx="560.1" cy="345.6" r="1.7"/>
<circle cx="474.4" cy="346.8" r="1.4"/>
<circle cx="525.8" cy="339.4" r="1.2"/>
<circle cx="640.1" cy="347.1" r="1.5"/>
<circle cx="595.3" cy="337.6" r="1.3"/>
<circle cx="553.2" cy="337.6" r="1.6"/>
<circle cx="426.2" cy="350.7" r="1.9"/>
<circle cx="562.1" cy="338.3" r="1.8"/>
<circle cx="491.6" cy="348.3" r="1.2"/>
<circle cx="455.4" cy="351.4" r="1.8"/>
<circle cx="449.5" cy="352" r="2.3"/>
<circle cx="633.3" cy="337.5" r="2.1"/>
<circle cx="615.6" cy="336.5" r="1.3"/>
<circle cx="631.7" cy="351.5" r="1.9"/>
<circle cx="614.2" cy="338.7" r="1.7"/>
<circle cx="394.5" cy="337" r="1.8"/>
<circle cx="558.8" cy="334.9" r="1.9"/>
<circle cx="362.5" cy="336.4" r="1.9"/>
<circle cx="632.4" cy="334.8" r="2"/>
<circle cx="463" cy="343" r="1.7"/>
<circle cx="551.5" cy="347.8" r="2.2"/>
<circle cx="444.8" cy="337.9" r="1.3"/>
<path d="M644 328 L644 454 L639.9 454 L637 449.9 L638.2 445.9 L636.5 441.8 L638.4 437.7 L637 433.7 L639.9 429.6 L638.8 425.5 L640.7 421.5 L638.1 417.4 L639 413.4 L637.7 409.3 L641.2 405.2 L641 401.2 L638.7 397.1 L638.7 393 L641.4 389 L638.1 384.9 L640.6 380.8 L641.4 376.8 L641.1 372.7 L638.7 368.6 L641.4 364.6 L641.2 360.5 L641.3 356.5 L641.7 352.4 L639.9 348.3 L641 344.3 L642.4 340.2 L640.6 336.1 L642.1 332.1 L642.2 328Z" fill="#000"/>
<path d="M640.6 451.5l-0.4 3M638.7 395.9l-2.9 0.5M641 340.1l-2.3 1.5M640.5 369.7l-1.3 1.8M639.6 425l2.3 0.5M638.1 425.1l-1.2 1.9M640.8 336.9l2.3 0.5M638.6 435.1l-1.4 2.1M638.5 412.8l-1.6 0.9M640.6 378.2l-0.4 1.7M639.1 406.6l0.5 4M640.4 344.8l-1 1.6M639.7 362.4l3 1.6M639.8 407.4l1.2 1.8M639.9 448l1.6 0.8M638.2 407.8l-0.8 1.9M638 434.7l1.2 1M640.7 400.2l1.6 1.5M640.4 343l-1.7 0.2M639.1 449.9l0.9 2.2M639 387.7l-3.5 0.4M640.9 416.5l-3.3 1.1M640.7 341.7l-0 1.8M638.7 442.9l1 2M639.8 376.4l-0.5 1.9M638.7 392.6l-3.1 0.3M640.6 336.1l1.1 2.7M639.8 439l-1.6 0.5M640.1 386.8l-1.6 1.2M640.4 356.3l-2.8 2.5M640.6 340.5l0.5 2.9M639.5 379.9l-0.1 2.4M641 348.5l2.2 1.3M640.6 340l0.1 3.3M640.2 368.2l-3.6 1.3" stroke="#fff" stroke-width="1.3" fill="none" stroke-linecap="round"/>
<path d="M641.1 409.5l1.1 -4.3M642.1 447.5l-3 2.5M641.8 371.9l1.1 4.3M642.7 333.5l-1 1.9M639 365.9l-0.5 3.7M642.6 366.7l-4.8 -2.6M641.5 403.9l-5 3.2M641.2 338.5l-5.2 -3.2M643.6 341.7l-1.4 4.7M642.2 378l-2.8 2.1M642.5 326l-4 3.7M639.5 387.8l-3.4 2.5M641.4 362.2l-3.5 1.2M642.9 361.8l-3.3 5.5M641.1 436.4l-0.7 4.4M639.6 417.9l-0.7 2.4M641.7 394.8l-2.5 2.8M640.6 374.2l-3.2 4.2M638.7 444.3l-0.7 4.1M643.3 383.7l-0.3 3.8M643 402.3l-2.4 -3.3M641.4 373.3l-5.9 -1.4M643.9 406.2l-4.9 -2.6M642.7 386.5l-0.7 -3.6M644 446.7l-4.2 -2.8M643.6 397.8l-2.8 -0.4M638.5 333.2l0 4.1M643.6 447.1l-4 -0.7M641.2 423.2l-5.4 2.4M643.1 344.3l-1.8 1M642.5 410.9l-2.7 -0.2M641.7 430.9l1.6 3.3M641.7 414.6l-4 -3M639.7 389l-4.1 -3.7M642.5 360.4l-3 0.3M643 362.7l-2 2.6M641.5 377.1l-2 4.4M641.3 431.1l-3.6 0.2M643 329.8l-3.3 0.4M640.9 333.5l-2.8 3.1M643.3 377.3l-4 -3.2M640.1 451l-3.1 4.3M642.6 393l-4.5 -4.6M640.5 405.1l-2.3 5.1M641.7 336.3l-3.6 0.1M643.1 356.3l-5.9 -1.2M639.6 354.2l-1.2 2.9M640.9 448.5l-1.6 -2M641.9 444.2l-3 2.8M641.2 356.2l-4.7 -4.1M640.1 444.9l2.6 -0.2M642.2 349.2l-5.4 0.1M643.8 420.5l-0.2 -6M639 343.2l-3.9 4.5M642.7 358.9l-3.6 5.4M642.9 449.8l-4.1 1.1M641 338.2l-1.2 6M642.4 389.3l-4 0.6M641.1 381.3l2.1 -0.7M643.2 338.1l-1.2 -2.6M643.5 355.5l-0.9 -4.4M641 363.2l-3.7 -3.9M643.1 369.2l-4 -4.3M644 373.1l-2.1 -4.2M642.5 384.4l-2.1 3.7M643.6 434l-3.3 3.6M634.9 416.1l-2.5 4.2M641.8 353.1l1.5 -5.8M641.7 443.7l-2.1 1.3M639.9 378.9l-5.5 1.6M642.1 358.3l-1 2.6" stroke="#000" stroke-width="1.8" fill="none" stroke-linecap="round"/>
<circle cx="637.5" cy="434.6" r="2"/>
<circle cx="632.2" cy="346.9" r="1.8"/>
<circle cx="624.3" cy="409" r="1.9"/>
<circle cx="635.1" cy="361.7" r="2"/>
<circle cx="632.2" cy="339.8" r="2.1"/>
<circle cx="633.3" cy="439.7" r="2"/>
<circle cx="633.6" cy="369.4" r="2.2"/>
<circle cx="630" cy="381.6" r="1.3"/>
<circle cx="628.9" cy="383.3" r="2.2"/>
<circle cx="632.8" cy="407.2" r="1.6"/>
<path d="M644 454 L698 454 L698 459.3 L693.8 463.3 L689.7 461 L685.5 459.2 L681.4 458.5 L677.2 460.2 L673.1 460.1 L668.9 459.5 L664.8 458.6 L660.6 457.1 L656.5 458.5 L652.3 458.3 L648.2 456.8 L644 458.6Z" fill="#000"/>
<path d="M690.8 460.1l1.8 0.6M685 458l2 1.7M646.8 459.3l-2.6 2.6M668.5 458.4l2 0.9M669.6 460.3l0.8 3.7M687.2 461l-1.4 0.9M693.1 461.8l2.3 1.6M696 460.8l-1 1.6M655.6 458.8l-3.6 1.4M670.6 458.7l2.1 1.8M646.3 459l1.1 3M667.3 458.3l2.2 0M651.7 457.1l2 1.8M676.1 459.6l-0.4 1.8M664.1 458.5l1.5 0.4" stroke="#fff" stroke-width="1.3" fill="none" stroke-linecap="round"/>
<path d="M698 458 L698 525 L691 525 L692.7 520.8 L691.7 516.6 L692.8 512.4 L690.5 508.2 L692.8 504.1 L693 499.9 L687.7 495.7 L687.7 491.5 L686.9 487.3 L693.4 483.1 L687.4 478.9 L686.8 474.8 L690.9 470.6 L686.7 466.4 L690 462.2 L689.7 458Z" fill="#000"/>
<path d="M689.2 479.7l0.5 1.8M691 497.9l0.8 1.8M693.4 512.2l3.1 2.1M693.1 524l3.6 1.5M692.4 470.4l3.3 2.2M693.5 498.9l-2.7 0.3M691.5 479.7l2.2 1.5M689.3 474.3l2 1M692.6 516.8l-3.6 1.8M690.6 505.5l-1.8 2M690.2 485.7l2.3 0.1M690.5 461l2.6 0.7M691.8 497.7l-1.2 3.5M692.5 465.8l-1.8 3.3M687.7 509.6l1.2 1.2M688.8 479.8l1.6 2.5M691.8 460.4l-1.2 1.9M692.3 512.9l-1.4 1.3" stroke="#fff" stroke-width="1.3" fill="none" stroke-linecap="round"/>
<path d="M644.7 458.4l4.9 1.9M666.4 460.5l1.6 4.9M648.4 459.1l-2.9 0.7M692.4 459.6l1.6 4M642.8 459.1l1.6 2.7M694.8 458.6l0.2 3.6M643.8 459.1l-1.4 4.3M668.2 463.7l5 -1.5M664.8 462l-3.7 0.6M690.1 462.1l-5.2 0.5M683.5 460.2l-1.9 3.2M677.8 466.4l-2.1 0.5M688.1 459.1l-1.9 4.3M681.2 458.8l-5.9 1.1M687.9 461l-2.5 -0.3M678.1 459.6l-2.7 2.1M672.5 460.1l-1.8 4.5M688.4 459.4l3.1 3.5M682.6 459.9l2.8 5.3M693.7 461.3l-3.7 4.2M687.2 459.9l5 -0.2M656.7 466.4l-1.9 0.8M645.6 459.8l-6 1.4M640 459.9l2.7 2.3M685.1 460.8l5.1 0.6M650.8 458.7l1 4M664.7 461.1l4.5 -0.8M669.5 460.2l1.2 2.2M648.6 461.7l-4.6 -1.9M666.4 459.8l2.4 1.1M678 461l-1.9 6.1M681.9 464.3l5.4 2.8M691.7 459.7l5.5 2.8M683.9 460.2l-6.2 -1M662.1 460l-3.3 3.3M677.4 459.4l-3.9 3.3M696.1 464.7l4.7 1.1M688.6 458.4l-0.8 6.2M660.2 458.4l2.2 1.6M640.7 462l3.3 -0.7M660.2 458.1l-4.2 2M669.4 461.1l-0.6 5.3M676.4 459.2l-3.9 0M654.3 458.7l4.4 3.5M649.3 459.6l5.9 2.2M677.5 458.6l-0 5M655.9 461.9l-2.3 4M661.8 459.9l6.1 -0.3M695 462.3l-2.7 0.5M667.7 461.7l-1.9 4.7" stroke="#000" stroke-width="1.8" fill="none" stroke-linecap="round"/>
<circle cx="670.2" cy="469.8" r="2.2"/>
<circle cx="693.6" cy="467.2" r="1.5"/>
<circle cx="658.1" cy="463.9" r="2.3"/>
<circle cx="686.4" cy="463" r="1.3"/>
<circle cx="677.2" cy="468.5" r="2.2"/>
<circle cx="680" cy="468.9" r="1.4"/>
<path d="M693.8 492.5l3.1 -0.7M695.5 462l-6.1 1.6M691.5 484.6l-2.3 4.6M690.9 468.2l-3.9 0.7M697.6 462.7l-1.6 1.5M694.8 512.4l-1.9 -2.4M696.9 504.3l-3.2 -3.8M693.7 494.2l-2.1 -1.8M693.6 467.1l2.7 1.7M697.7 464.5l-0.7 -2.8M697.1 524.3l-2.3 1.8M697.2 522.1l-0.8 -4.3M697.1 473.7l-3.5 1M695.2 520.1l-3.5 -0.8M687.8 495.4l-2.7 2.8M697 480.8l-3.8 3.8M696.5 489.2l-2.8 2.6M692.5 516.1l2.8 5.6M693.6 519.3l2.9 0.5M694.5 522l1.5 -2.6M694.5 498.4l-2.5 -0.8M693.9 489.2l-4.7 1.4M697.4 491.4l-2.9 -2.3M696.3 508l-5.5 -2M696.8 480.2l-2.7 4.6M693.9 520.7l-5.7 0.9M694.8 465.4l-3.9 -3.5M695.9 497.6l-3 1.3M694 503.6l0.3 -2.2M696.4 503.9l-3.4 -5.5M687 483l-5 1.6M697.7 518.1l-4.7 -3.1M693.4 490.3l3.5 1.3M694.1 490.2l-5.3 -1M696.2 473.8l-0.6 -3.8M692.8 479.5l1.6 2.2M690.8 519.1l-1.3 2.2M692.9 477.7l0.7 -6.4M697.3 465.5l-2.2 -0.9M694.8 519.1l-6.3 -0M695.3 490.9l-2.3 -3.6M693.6 465.9l-0.7 -6M696.9 501.6l-1.5 -3.8M694.5 489.6l-4.6 0.7M694.2 518.8l-2 1.4M688.7 470.3l0.2 -3.7M690.6 520.8l-4.1 2.7M693.8 469.8l-0.3 5.4M695.5 521.2l-1.2 2.9M688.5 474l-1.3 -2.7M693.8 518.8l-5.8 -0.5M695.6 494l-4.9 2.1M695.9 480.6l1.3 -3.3M691.9 472.1l-0.3 -5.8M697.3 511.4l-1.4 -4.4M697.1 475.1l-0.6 -4.6M696.9 523.5l-1.2 5.9M695.7 526.8l0.5 2.6M692.9 470.3l3 4.8M694.7 510.2l-3.8 -0.4M693.6 478.4l-3.5 2.9M691.6 503.7l3.6 -4.6M696.6 526.6l-2.6 -0.3M690.4 515.6l0.2 -6.3" stroke="#000" stroke-width="1.8" fill="none" stroke-linecap="round"/>
<circle cx="685.6" cy="471.8" r="2.4"/>
<circle cx="676.3" cy="476.7" r="2.2"/>
<circle cx="675.6" cy="465.1" r="1.9"/>
<circle cx="675.7" cy="515" r="1.9"/>
<circle cx="678.7" cy="482.7" r="1.6"/>
<circle cx="684.9" cy="513.4" r="1.8"/>
<circle cx="680.6" cy="495.5" r="2.4"/>
<circle cx="682.9" cy="498.5" r="1.6"/>
<circle cx="681.9" cy="526.5" r="1.4"/>
<circle cx="690.6" cy="482.7" r="2.2"/>
<circle cx="683.2" cy="497.9" r="2.3"/>
<circle cx="686.3" cy="468.1" r="2.3"/>
<path d="M698 525 L791 525 L791 530.1 L787 534.7 L782.9 534.1 L778.9 529.4 L774.8 532.5 L770.8 531.3 L766.7 532.3 L762.7 531 L758.7 532.8 L754.6 532.1 L750.6 531.6 L746.5 532.2 L742.5 532.8 L738.4 530.9 L734.4 528.3 L730.3 530.2 L726.3 528.9 L722.3 529.1 L718.2 528.2 L714.2 530.9 L710.1 530.3 L706.1 531.1 L702 527.8 L698 530.9Z" fill="#000"/>
<path d="M744.1 529.6l-3.2 2.1M773.7 532.7l-1.7 1M714.2 531l-1 2.4M725.6 530.1l2 1.9M784.3 530.7l2.8 0.3M766.7 531l-3.8 1.3M768.2 531.6l-2.3 0.1M727.4 528l-2.1 0.3M709.4 530l-2 1.3M730.3 531.1l1.7 0.9M731.6 529.2l2.1 3M715.5 530.3l-1.6 0.2M787.1 528.3l0.1 3.6M731.7 530l1.5 1.5M757.5 530.6l-1.4 2.8M706.3 528.9l0.2 1.8M706.2 529l2.3 0.7M710.9 528l3.3 0.9M765.1 529.5l0.3 3.2M708.7 531.1l-3.7 1.3M767 531.6l-3 1.7M731.7 529.5l-3.9 0.4M757.5 529.7l-0.7 1.4M735.4 529.9l2.6 1.8M700.9 529.4l2.5 1.2M789.9 532.9l0.5 3.6" stroke="#fff" stroke-width="1.3" fill="none" stroke-linecap="round"/>
<path d="M708 529.6l-1.4 3.3M762 531.9l4.7 -0.4M778.2 527.9l-3.8 3.5M773.9 534.9l3.5 4.7M766.6 529.7l1.6 1.2M730 528.8l-1.6 3.8M704.9 531.2l4.9 0.7M778.1 528.6l-1.9 2.8M780.8 527.1l-3.5 3.8M736.9 527.8l1.7 1.3M794.8 530.7l0.3 6.4M737.5 528.8l2.2 0M789.6 528.3l-1.6 3.3M751.7 528.8l0.4 2.4M793.8 528.9l-3.2 1.5M758.8 532.3l2.5 -0.8M777.4 530.1l4.3 1.5M718.1 528l1.5 3.2M706.9 534l3 -3.3M728.5 527l0.6 3.2M789.8 527.5l-2.2 3.3M719.6 527.4l-4.8 0.2M704.9 530.8l-5.4 1.7M782.6 527.6l4.2 4.6M794.4 530.6l2.4 3.6M719.3 527l2.4 4M785.7 528.3l2.8 -0.2M760.6 530.2l-3.7 -1.5M697.3 529.3l-2.1 2.1M774.4 527.9l0.4 5.3M767.5 527.1l2.5 1.1M698.2 528.1l-5.8 1.9M713.8 535.4l-2.8 5.3M787.5 534.8l-4.9 1.4M761.1 530.4l-2 -2.9M773.7 528.1l-2.7 1.5M783.9 529.5l1.8 -1.9M711.5 530.6l-5.9 -1.8M760.6 531.3l2.7 1.5M793.8 527.7l-2.9 0M756.3 531.3l1.7 5.4M743.4 530.8l1.8 1.1M722 533.6l2.1 -0.5M723.9 536.4l0.7 -2.8M702.8 531.4l1.7 5.1M789.4 529.6l-0.5 3M710.5 529.8l3.5 -0.4M693.5 533.3l-4.9 2.5M713.2 536.9l-3.8 -4.1M768 527.8l-3.6 4.2M743.5 530.3l-2.1 1.8M789.4 528.7l4.3 -1M762.3 529.7l-3.8 0M725.2 528.8l-0 3.4M697.2 529.2l3.3 2.9M690.4 531l2.7 3M742.1 535l0.7 -4.9M693.6 532.3l3 0.5M715 531l-1.2 6.2M722.7 530.6l4.1 0.4M726.6 528.2l-5 4M767.6 530.6l-3.1 3M750.2 528.6l0.5 3.1M695.1 527.3l-5.1 1.7M787.1 529.9l-0.6 4.2M700.2 527.5l0.4 5.1M771.3 533.6l4.4 -2M702.6 531.7l-3.5 2.2M742.6 534.3l5.2 2.6M770.3 534l2.6 2.2M759.7 532.3l1.5 -3.5M723.5 532.2l2.3 4.8M728.4 531.8l4.4 1.2M691.7 536l3 -0.5M702.4 530.8l1.6 1.3M708.6 527.6l3.6 0.3M724.1 530.8l-0.5 3.4M712.1 528.2l5.4 3.4M757.9 529.1l3.5 4.4M741.2 528.9l-0.8 4.2M730.4 530.4l-4.3 4.1M730 537.9l1.6 -2.9M697.3 528.4l2.1 5.3M717.3 530.8l2.1 -0.8M772.2 529.9l-5.1 0.6M724 529.5l-2.2 2.3M797.8 527.9l4.6 0.8M781.6 529.5l-5.9 -1.2M709.2 532l-3.1 5.4M758.5 529.6l-1.9 6.2M719.5 529.8l-4.1 0.8M712 535.8l-4.2 3.8M790.4 529.8l0.8 3M796.4 528.3l-5.1 1.3M779.4 527.9l2 2.6M718 532.6l5.5 2.9M696.1 528.8l-3 -0.8M743.3 531.5l-3.5 0.7M734.1 530.8l-0.8 4.9M732.9 528.6l-1.2 2.2M753.1 528.8l5.8 0.5M785 531l-1 5.6M769.9 529.4l1.3 3.7M711.9 529.4l1.2 1.7M778.6 529.2l3 1.3M702.5 529.9l4 3.7M745.2 530.4l-2.2 3.6M701 529.3l1.4 4.9M698.2 528.2l4.5 2.8M729.3 529.3l-4.5 3.8M707.4 527.7l-3.3 1.1M736.2 533.2l-1.2 6.2M706.7 527.4l-4.3 0.4M737.5 535.3l0.5 5.8M774.4 533.6l-5.3 -3.5M794.8 529.2l-1.4 4.7M776.7 534.2l0.9 2.8M743 530.7l-3.4 3.5" stroke="#000" stroke-width="1.8" fill="none" stroke-linecap="round"/>
<circle cx="711" cy="543.3" r="2.2"/>
<circle cx="796.5" cy="535.8" r="2.3"/>
<circle cx="715" cy="546.9" r="1.8"/>
<circle cx="748.9" cy="535.8" r="1.8"/>
<circle cx="787" cy="543.2" r="1.6"/>
<circle cx="703.2" cy="540" r="2.1"/>
<circle cx="772.5" cy="546.6" r="1.5"/>
<circle cx="717.2" cy="535.8" r="1.7"/>
<circle cx="769.1" cy="541.3" r="1.5"/>
<circle cx="705.9" cy="535.4" r="1.6"/>
<circle cx="748.7" cy="547.5" r="2"/>
<circle cx="745" cy="536.8" r="1.9"/>
<circle cx="791.9" cy="546.3" r="2.1"/>
<circle cx="703.5" cy="533.7" r="1.6"/>
<circle cx="789.5" cy="538.1" r="2"/>
<circle cx="700.6" cy="538.9" r="1.3"/>
<circle cx="717.1" cy="538" r="1.9"/>
<circle cx="727.3" cy="547.3" r="2.4"/>
<circle cx="694" cy="545.3" r="1.7"/>
<circle cx="771.5" cy="543" r="1.6"/>
<circle cx="785.4" cy="544.5" r="1.4"/>
<circle cx="781.4" cy="540.6" r="1.3"/>
<path d="M826.6 326 L790.7 525 L797 526.1 L798.1 522.2 L800.5 518.6 L803.7 515 L803.2 510.8 L805.3 507.1 L805.4 503 L801.6 498.2 L807.6 495.2 L801.9 490 L803.3 486.2 L804.1 482.2 L808.6 478.9 L810.6 475.2 L810.1 471 L807.4 466.4 L813.2 463.3 L808.2 458.3 L814.4 455.3 L811.3 450.6 L815.6 447.3 L814.4 443 L815.8 439.1 L813.8 434.6 L812.6 430.3 L820.1 427.6 L814 422.4 L817.2 418.8 L822 415.6 L815.8 410.3 L823 407.5 L819 402.7 L822.5 399.2 L823.2 395.3 L824.5 391.4 L827.1 387.7 L821.5 382.6 L825.8 379.3 L829.2 375.8 L823.5 370.6 L824.3 366.7 L831 363.8 L830.6 359.6 L828.6 355.1 L832.3 351.7 L827.9 346.8 L835.5 344.1 L833.9 339.7 L831.7 335.1 L832.1 331.1 L831.9 327Z" fill="#000"/>
<path d="M807 473.4l-0.7 2.5M827.7 351l0.2 1.5M822.4 374.4l-1.7 2.5M829.1 335.5l2.1 0.9M809 459l-0.3 2.3M801.3 512.7l2.2 0.2M823.7 362.2l1 1.5M804.6 493.2l0.9 2.2M811.3 450.4l-1.7 0.2M831.7 349.9l2.6 0.9M807.1 468.6l2 1.4M813 433.4l1.1 1.9M823.8 362.5l2.6 0.9M800.7 520l-2.6 1.7M801.9 483.9l-0.8 2.5M824.3 374l0.8 1.4M804.6 496.3l2.2 0.6M811 453.9l-1.2 2.5M803.6 484.5l-0.1 3.2M813.4 449.9l1 1.9M812.7 422.5l1.1 1.1M824.1 361.7l-1.7 0.8M815.6 435.5l2.5 2.4M827.8 365.5l2.3 0.5M800.7 500.6l2.3 0.5M812.9 432.1l2.2 1.1M802.6 509.5l-1.3 3.3M823.7 361.9l-0.4 1.6M806.9 457.2l-0.9 2.1M812.8 434.1l-2.8 2.2M802.4 495.8l0.2 1.9M803 477l1.5 0.4M826 369.3l0.6 1.4M798 521.9l-1.9 3.1M826.3 352.1l-0.9 2M807.7 484.5l2.5 0.4M815.9 440l-1.8 0M823.6 370.7l0.7 2.1M825.3 367.4l1.6 1M810.5 451.2l-0.7 1.5M816.6 417.5l-1 1.6M817.6 414.4l-3.4 0.1M822.3 374.6l1.5 2.6M815.3 417.5l-1.1 1.4M827.7 357.8l-0.2 2M824.3 371.1l3.5 1.4M805.9 465.1l2.5 1M821.8 405.5l-0.1 2.4M812 450.7l1.5 0.4M824.7 383l-2.3 2.3M830.3 335.9l2 3.3M820.4 399.2l3.7 1M808.1 455.1l2.4 2.3M814.7 436.7l0.3 1.9M822.2 405.6l0.9 2M828.2 341.4l1 2" stroke="#fff" stroke-width="1.3" fill="none" stroke-linecap="round"/>
<path d="M838.1 337.4l-3.8 -2M799.7 496.8l-2.3 4.3M831.9 337.6l3 3.8M818.4 422.6l2.3 3.1M802.9 491.1l-0.5 2.2M796.6 503.3l5.3 1.2M809 459.5l-1 -4.3M798 517.6l3.4 -4.2M798.4 488.9l3.9 2.8M800.7 489.5l-3.1 3.2M813.9 457.2l0.4 -4.3M798.7 505.2l4.8 1.4M793.3 517.7l1.8 -1.7M825.1 364.8l-1.1 2.1M804 467.7l1.4 5.7M811.1 442.9l-3.7 -2M818.8 408.1l-3.7 -2.6M794.5 517.3l4.7 -4.1M832.8 369.4l2 -4.2M813.8 418.9l1.9 -3.6M804.3 455.5l3.8 3.5M832.7 365.8l-1.5 1.7M818.9 394.3l-0.6 5.4M827.2 362.2l-2.1 -1.7M808.6 458.2l-4 0.2M819.9 372.1l1.9 1.6M825.4 383.7l0.8 -4M813.9 431.2l3.4 2.2M828.3 330.5l4.1 -3M835.5 350l0.6 -3.6M824.8 343.5l1 -3.8M807.1 493.4l-0.6 -1.9M804.5 475.1l1.3 -3.3M817.5 418.3l0.6 2.6M822.1 360.9l1.9 2.3M818.1 439.6l-0.6 -5M840.8 363.1l-1.7 3.4M822.2 448.2l3.1 -0.9M794.4 523.4l0.6 2.9M801.6 514.3l-2.1 -1.6M810 426.9l1.5 -1.4M806.2 454.9l4.6 -2.9M818.5 432.4l4.6 -1.4M797.5 505.6l1.7 2.9M829.8 341.5l-3.9 -0M807.9 456.9l5 2.7M819.3 404.3l1.5 -5.5M807.5 506.3l3.7 2.9M816 480.5l4.9 -0.6M803.8 465.4l-0.4 -2.1M795.5 508.5l1.4 3.3M807.5 441.8l5.7 0.9M799.2 491.2l1.5 -2.8M841.4 351.5l4.2 -3M816.3 403.4l-2.6 1.6M805.5 458.7l1.7 1.8M803.9 476.8l2.7 5M806.5 470.5l1.6 -2.1M829.7 371.1l2.6 -2.2M824.9 377.7l-5.1 -1.8M800.2 484.1l1.3 -3.9M800.8 496.9l1.4 3.2M830 360.4l-4.7 -4.2M825.8 399.4l-1.9 2M825.7 376.6l4.1 -0.7M795.6 506.7l3.1 0.9M812.4 447.2l-1.8 -2.1M797.9 522.3l-0.1 -3M809.4 463.7l3.9 2.2M805.9 452l2.4 -0.7M810.3 464.6l-3.6 4M820.7 381l0.8 2.5M832.3 365.3l0.1 4.1M794 516.6l-1.2 4.3M822.2 362.1l2.2 0.7M805.7 512.3l2.1 0.5M832.8 335.1l3 -5M814.6 427.5l-3.9 2.7M814.2 404.9l2.5 -0.4M812.3 411.9l3 5.3M796.5 507.5l1.6 1.2M808.4 443.4l3 -2.8M818.4 452.4l-2.1 5.5M816.2 433.6l0.5 5.5M817.2 388.4l2.5 -6M820.8 397.9l3.8 -0.2M814.5 411.7l2.4 0.8M814.4 415.4l3.2 -1.4M829.3 335.3l2.2 1.7M838.1 380l-2.6 -5.8M822.5 422l5 -2.4M823.8 386.7l4.5 -1.6M818.4 391.9l1.3 -1.5M822.7 360.4l0.6 2.2M806.3 446l4.1 -4.1M797.7 522.3l3.2 -1.6M828.3 346.9l1.7 -5.6M797.8 514.7l2 3.8M803 490.3l-1.9 -3.7M815.9 449.3l-2.4 5.7M812.2 415.6l2.3 5.7M823 458.2l2.5 -4.8M820.8 379.7l0.6 -5.5M828.3 332.4l1.1 5M803.1 468.9l1 3.4M820.3 370l0.6 -2.2M825.4 351l3 0.5M826.3 333.9l2.4 -2.4M802.8 477.9l2.8 -1.6M803.3 475.7l1.8 -1.7M822.2 391.9l3.5 3.5M812.8 425.5l1.8 5.5M800.2 514.8l-2.9 2.8M809.4 441.2l3.3 -2.3M806.5 460.3l4.9 -2.6M796.8 509.4l2.2 -4.1M814.3 436.2l5.5 -2.3M796.2 511.5l0.1 2.6M826.2 380.2l4 -4M827.2 349.7l-0.3 2.7M800.9 486.5l2.7 -2M817.4 385.5l4.5 1.8M802.6 483.9l0.2 -4.3M804.2 501.4l-0.2 2.7M834.3 351.1l-1.6 4.3M799.2 503.7l-1.9 -0.9M825.2 350.1l3.8 0.9M817 473.2l-0.6 -5.7M808.6 436.9l3.8 -2.8M830.2 334.9l-2.2 -4.9M833.2 344.3l-1.9 1.4M816.9 394l3.8 -2.5M819.7 391.9l0.9 -4.2M832.9 334.7l-6.1 -0.7M804.9 478.5l-1.2 5.8M824.1 350.1l2.6 1.8M828.1 331.6l2.3 1.8M825.7 358.7l2.8 1.3M796.2 525.2l3.9 -0.1M815.7 413.1l0.9 -1.8M809.7 428.8l2.1 4.8M821.2 435.3l-3.8 -2M824.4 354.8l4 1.9M798 493.3l1.3 -2M797.4 513.2l3 -1.7M823.8 372.9l1.6 1.9M793.5 521.5l2.1 -1.2M827.7 351.2l-1.6 -3.6M793.8 518.8l2.3 6.1M801 497.4l2.8 -5M817.9 391l0.4 -3.2M821.5 393l-1 -5.1M808.8 436.4l3.8 0.8M804.6 491l3.2 -1.5M825 346.7l4.3 0.3M802.1 475.3l4.2 -0.4M822.6 371.5l-1.3 -4.5M829.9 373.7l0.8 -5M798 522.4l3.3 -0.9M804.1 465.2l6.1 -1.4M828.2 374.6l-6.1 2.3M812.6 412.1l0.7 -1.9M827.2 375.6l-5.7 -1.2M816.9 392.5l3.8 -1.4M826.7 382.1l-1.2 1.8M813.8 405.2l0.9 2.3M816.2 454.5l3.9 -2.6M810.4 442.1l-2.1 -1.4M807.3 478.1l0.3 2.7M811.5 440.1l5.6 -0.4M794.7 508.9l3.5 2.8M798.4 502.7l4.5 -1.3M812.4 488.8l-1.5 1.8M826.2 335.7l4 3.4M828.8 353.1l1 4.2M808.7 454l6.2 1.7M796 508.8l4 4.6M800.5 486.8l3.1 3.4M808.5 432.6l0.6 4.8M827.9 336.7l4 -2.5M818.2 424.1l-3.1 5.2M798.7 500.9l2.8 0.1M800.5 479.8l0.5 3.4M820.2 370.5l0.9 -2.5M826.6 332.4l5.5 -0.7M808 453.2l5.5 2.3M816.6 405.3l5.9 -2.4M808.4 475.5l-2.5 5.8M802.8 499.4l2.2 2.1M802.2 493.9l1.8 -1.6M806.6 474.1l0.8 1.9M829.6 361.3l-1 -6.4M802.9 488.5l-2.1 0.9M806.3 469.8l-3.5 -5.3M804.5 479.2l-1 -6.2M816 399.2l5.4 -1.4M797.5 523.1l-0.3 -5M827.9 334.1l1.9 3.2M834.3 353.8l-5.9 1M819.3 399.9l-2.7 3.2M800.9 525.1l0.6 3.7M819.2 393.4l-2.9 0.2M792.2 525l0.9 -3M822.6 449.1l-2.2 -1.4M812.5 409.8l2.6 -0.2M823.1 358.5l2.1 -5.8M807.8 491.1l2.1 0.4M829.4 343.2l-0.9 2.1M826.3 407.8l-4.5 -3.3M831.2 356.1l-2.5 1.9M795.4 515.4l-1.9 3.7M801.9 481.3l-0.2 -2.2M804.9 477.4l5.4 -1.7M801.1 515.7l-5.8 -2.3M818.5 392.3l3.9 1.3M806.4 489.7l1.8 -1.2M808.9 436.1l2 -3M805.7 446.7l1.6 4.4" stroke="#000" stroke-width="1.8" fill="none" stroke-linecap="round"/>
<circle cx="814.7" cy="476.4" r="1.5"/>
<circle cx="823" cy="415.9" r="1.4"/>
<circle cx="826.5" cy="469.5" r="2"/>
<circle cx="821.5" cy="452.8" r="1.7"/>
<circle cx="836.7" cy="419.7" r="1.5"/>
<circle cx="819.4" cy="438.6" r="1.2"/>
<circle cx="820.5" cy="439.6" r="2.2"/>
<circle cx="832" cy="364.9" r="1.9"/>
<circle cx="835.6" cy="352.7" r="2"/>
<circle cx="831.9" cy="468.3" r="1.2"/>
<circle cx="837.4" cy="411.6" r="1.4"/>
<circle cx="836.9" cy="343.1" r="2.2"/>
<circle cx="839" cy="379.1" r="2.2"/>
<circle cx="816.4" cy="472.2" r="2.2"/>
<circle cx="831" cy="377" r="1.8"/>
<circle cx="832.1" cy="398.5" r="1.5"/>
<circle cx="826.8" cy="443.8" r="2.2"/>
<circle cx="845.8" cy="343.4" r="1.2"/>
<circle cx="847.9" cy="362.3" r="2.2"/>
<circle cx="842.3" cy="335.4" r="1.9"/>
<circle cx="805.7" cy="526.1" r="1.5"/>
<circle cx="839.6" cy="404" r="2"/>
<circle cx="822.3" cy="490" r="1.3"/>
<circle cx="824.6" cy="504.6" r="1.8"/>
<circle cx="831.6" cy="395.4" r="2.4"/>
<circle cx="814.7" cy="458.4" r="1.7"/>
<circle cx="815.5" cy="467.8" r="1.9"/>
<circle cx="807.5" cy="507" r="1.6"/>
<circle cx="834.4" cy="413.9" r="2.2"/>
<circle cx="843.6" cy="381.3" r="1.5"/>
<circle cx="820" cy="520.2" r="1.5"/>
<circle cx="814.7" cy="527.4" r="2"/>
<circle cx="815.4" cy="511.8" r="1.9"/>
<circle cx="840.6" cy="348.4" r="1.9"/>
<path d="M643.8 322.5 L644 454 L698.2 454 L698.2 525 L790.7 525 L826.6 326" fill="none" stroke="#000" stroke-width="3.6"  stroke-linejoin="round" stroke-linecap="round"/>
<path d="M836 310V323.5M842.8 302.9V323.5M849 298.1V323.5M855.3 294.5V323.5M861.4 291.7V323.5M867.7 289.5V323.5M874.3 288V323.5M880.6 287V323.5M886.9 286.7V323.5M893.4 286.3V323.5M899.7 286V323.5M905.9 286V323.5M912 286V323.5M918.1 286V323.5M924.6 286V323.5M930.7 286V323.5M936.8 286V323.5M942.9 286V323.5M949.1 286V323.5M955.5 286V323.5M961.8 286.3V323.5M968.2 286.9V323.5M974.7 287.8V323.5M981.5 289.1V323.5M988.3 290.9V323.5M994.7 293V323.5M1000.8 295.3V323.5M1007.1 298.1V323.5M1013.4 301.2V323.5M1019.7 304.7V323.5M1026.2 308.4V323.5M1032.2 312V323.5M1038.6 315.8V323.5" stroke="#000" stroke-width="2" fill="none"/>
<path d="M1088 315.7V323.5M1094.7 311.1V323.5M1101.2 306.9V323.5M1107.3 303.1V323.5M1113.7 299.6V323.5M1119.8 296.6V323.5M1126.1 293.9V323.5M1132.3 291.8V323.5M1139 290.1V323.5M1145.3 289V323.5M1151.7 288.3V323.5M1157.8 288V323.5M1163.9 288.1V323.5M1170.5 288.2V323.5M1176.8 288.3V323.5M1183.4 288.3V323.5M1190.1 288.4V323.5M1196.4 288.5V323.5M1202.5 288.6V323.5M1209 288.7V323.5M1215.2 288.7V323.5M1221.4 288.8V323.5M1227.8 288.9V323.5M1234.4 289V323.5M1240.4 289.9V323.5M1246.9 292.4V323.5M1253.6 298V323.5M1260.3 307.9V323.5" stroke="#000" stroke-width="2" fill="none"/>
<path d="M827 325 L829.4 320.6 L831.2 317.1 L833.3 313.7 L835.7 310.4 L838.4 307.1 L841.5 304 L845 301 L848.8 298.2 L853 295.6 L857.6 293.3 L862.6 291.2 L868 289.5 L873.8 288.1 L880 287 L900 286 L958 286 L966.7 286.7 L974.7 287.8 L982.3 289.3 L989.3 291.2 L995.9 293.4 L1002.2 295.9 L1008.1 298.6 L1013.9 301.5 L1019.4 304.5 L1024.9 307.7 L1030.3 310.9 L1035.8 314.1 L1041.3 317.3 L1047 320.5" fill="none" stroke="#000" stroke-width="3.6"  stroke-linejoin="round" stroke-linecap="round"/>
<path d="M1078 321.5 L1086.1 317 L1091.1 313.6 L1096 310.2 L1100.9 307 L1105.9 304 L1110.8 301.1 L1115.9 298.4 L1121 296 L1126.3 293.9 L1131.8 292 L1137.4 290.4 L1143.3 289.2 L1149.5 288.4 L1156 288 L1235 289 L1238.5 289.4 L1241.7 290.1 L1244.7 291.2 L1247.4 292.7 L1249.9 294.4 L1252.2 296.4 L1254.3 298.8 L1256.3 301.3 L1258.2 304.2 L1259.9 307.3 L1261.6 310.7 L1263.3 314.2 L1264.9 318 L1266.5 322" fill="none" stroke="#000" stroke-width="3.6"  stroke-linejoin="round" stroke-linecap="round"/>
<path d="M827 322.2 L832 321.9 L837 321.9 L842 322 L847 321.5 L852 322 L857 322.3 L862 322.2 L867 321.6 L872 322.6 L877 321.4 L882 321.8 L887 322 L892 321.7 L897 322.4 L902 322.1 L907 322.1 L912 322.5 L917 321.7 L922 321.8 L927 321.8 L932 322.2 L937 321.8 L942 322.3 L947 322.1 L952 322 L957 322.3 L962 322.3 L967 321.8 L972 322.1 L977 321.5 L982 322.1 L987 321.9 L992 321.7 L997 321.4 L1002 322.5 L1007 322.5 L1012 322.6 L1017 322.2 L1022 322.2 L1027 321.6 L1032 322 L1037 322.3 L1042 322.5 L1047 321.9 L1052 321.5 L1057 321.5 L1062 321.5 L1067 322 L1072 321.5 L1077 322.5 L1082 322.4 L1087 322.2 L1092 321.8 L1097 321.6 L1102 321.6 L1107 322.2 L1112 322.5 L1117 322.1 L1122 321.9 L1127 322.5 L1132 322 L1137 322.6 L1142 321.6 L1147 321.4 L1152 322.2 L1157 321.9 L1162 322 L1167 322.4 L1172 322 L1177 321.9 L1182 321.9 L1187 322.2 L1192 321.5 L1197 321.7 L1202 321.9 L1207 322.6 L1212 322.5 L1217 321.7 L1222 321.9 L1227 321.7 L1232 322.6 L1237 321.6 L1242 321.9 L1247 321.5 L1252 322.1 L1257 321.6 L1262 321.5 L1267 322 L1267 329.1 L1264.7 323.8 L1261.4 329.6 L1259.3 323.8 L1256 323.8 L1252 325.6 L1249.5 327.7 L1247.4 323.8 L1244.9 330.8 L1242.2 323.8 L1238.7 327.6 L1235.4 325 L1231.9 323.8 L1228.3 329.7 L1225.2 328.6 L1221.8 328.8 L1218 323.8 L1215.1 325.4 L1211.7 329.1 L1207.9 330.7 L1205.3 323.8 L1201.7 329 L1198.8 326 L1196 325.3 L1192.5 327.1 L1189.7 329.9 L1187.4 330.3 L1184.3 328.8 L1181.1 326.9 L1178.6 325 L1176 326.2 L1172.9 327.5 L1169.4 331.1 L1165.7 328.6 L1161.8 326.2 L1158.5 324.9 L1155 327.3 L1151.5 328.5 L1148.9 330.3 L1146.5 330.7 L1143 323.8 L1139.4 325.2 L1136.5 327 L1133.9 327.8 L1130.1 331.1 L1127.3 329 L1124.8 326.7 L1122.4 323.8 L1118.7 327.1 L1115.6 328.4 L1112.3 323.8 L1108.5 328.4 L1105.6 323.8 L1101.8 324.6 L1099.1 326.4 L1095.7 330.5 L1093.2 329.6 L1089.9 329.2 L1087.6 328.4 L1085.5 326.6 L1082.1 323.8 L1078.9 327.2 L1075.1 323.8 L1072.9 329.7 L1070.3 329.2 L1066.5 325.8 L1064.1 323.8 L1060.4 326.7 L1057.9 328.8 L1055.7 330.9 L1052.8 328.8 L1050.1 328.3 L1047.2 326.7 L1043.6 325.9 L1039.7 328.7 L1036.3 329.2 L1033.4 328.6 L1029.7 326.7 L1026.8 325.4 L1024.7 325.5 L1022.3 328.2 L1019.7 323.8 L1017.5 323.8 L1013.7 330.6 L1010.9 326.9 L1008.9 326.5 L1005.7 325.8 L1002.9 323.8 L999.4 331.3 L995.4 323.8 L992.9 328 L989.1 325.7 L985.3 327.5 L982.3 327.2 L979.6 331.1 L976.4 328.1 L973.9 328 L970.4 325.3 L968.4 324.9 L965.7 327.8 L962.8 330.4 L960.1 328.9 L956.8 328 L953.2 326.8 L949.4 325 L947.1 326.5 L943.8 328.1 L941.6 329.2 L939.2 329.7 L935.3 328 L931.9 325.2 L927.9 327.9 L924.9 327.7 L922.6 328.5 L920.4 330.2 L917.1 328.6 L914.8 326.3 L912.8 325.4 L910.1 326.5 L906.4 329.1 L903.5 328.1 L901.5 330.4 L898.5 327.4 L895.2 326.7 L891.2 326.2 L887.4 329 L885.3 328.9 L882.5 329.1 L880.2 328.5 L878.1 327.8 L874.7 324.9 L870.8 323.8 L867.6 327.4 L865.5 323.8 L863 330.8 L859.3 327.5 L856.6 325.6 L852.8 326.9 L849.7 328.7 L846.4 329.4 L844.4 331 L841.8 328.8 L837.8 325.7 L835.1 325.3 L832.6 327.7 L828.8 328.5 L827 324.5Z"/>
<path d="M1060.7 322l0.6 -5.6M1057.7 322l-3.2 -3.1M1056.4 322l-2.5 -4.6M1060.7 322l-1.7 -5.9M1062.3 322l5 -4.1M1057.1 322l2.5 -4M1059.8 322l1.4 -6.4M1058.8 322l5.1 -3.4M1060 322l1.4 -4.3" stroke="#000" stroke-width="1.8" fill="none" stroke-linecap="round"/>
<ellipse cx="1060" cy="320" rx="6.6" ry="2.8"/>
<path d="M1048.2 323l-3.6 -2.9M1048.1 323l-2.6 -2.2M1048.6 323l1.4 -2.2M1050.5 323l3.7 -2.9M1050.7 323l-0.4 -3.8M1048.2 323l1.2 -2.6M1051.2 323l-2.4 -1.7M1050.2 323l-0.6 -2.6M1050.9 323l3.2 -3.7" stroke="#000" stroke-width="1.8" fill="none" stroke-linecap="round"/>
<ellipse cx="1050" cy="321" rx="3.6" ry="1.8"/>
<path d="M1073.4 323l-3.3 -2.9M1071.6 323l-2.9 -2.8M1072.5 323l-0.8 -2.8M1072.7 323l-1.4 -4.2M1073.2 323l-1.9 -3.1M1072.1 323l-1.2 -2.3M1072.7 323l-1.9 -2.9M1072.4 323l3.4 -2.7M1070.7 323l-0.6 -2.7" stroke="#000" stroke-width="1.8" fill="none" stroke-linecap="round"/>
<ellipse cx="1072" cy="321" rx="3.6" ry="1.8"/>
<path d="M1215.1 331l-5.2 -2.7M1007.3 325.7l4.6 2.7M1158.5 326.8l2.3 0.8M1089 328.7l-4.9 -2M1244.4 328.2l1.6 1.9M1260.5 325.5l4.7 1.8M943.7 327.5l-2 5.5M1063.1 328.6l1.3 4.2M1129.4 335.7l-1.8 -1.5M1145.1 336.1l-4.2 1.5M1094.4 324.5l-2.2 2.1M1190.6 326.1l4.2 3.9M910.2 329.2l3.1 1.5M1041.8 326.4l-5.5 1.6M1119.8 325.8l4.1 2.6M844.7 330.6l5.2 -2.4M1152.8 330.4l-1.9 -0.7M1239.9 325.9l-5.7 2.1M935.1 327l3.9 -1.3M864.1 337.8l-0 -3M961.2 328.4l3.5 4.5M854 328.1l-2.1 -2M887 328.8l4.5 3.9M1207.1 333.6l4.9 -3.4M1006.7 328.7l-3.3 1.1M1073.2 334.3l3 -1.1M1200.4 326.9l2.2 4.4M890.6 327.8l-1.3 1.6M1032.7 328.9l-4.4 -0.2M878.9 327.2l-1.9 1M985.7 332.5l3.2 1.6M987.2 327.2l-4.1 2.5M838.8 333.6l-2.3 -3.2M1144 325.5l-2.2 2M1059.9 333l2.6 -0.4M854.4 331l-1.4 -5.3M1198.9 330.4l-0 -3.6M841 329.2l3.4 -2.7M1171.9 325.5l-4.4 1.5M1037.5 324.9l-5 1.5M1010.9 328.3l0.8 3.4M968.7 332.1l-1.6 -6.2M1015 328.5l-1.9 -1.9M872 331.4l2.1 -4M1099 329.3l-0.3 2.2M1020.9 328.9l6.1 2.2M836.8 330l2 3.3M1076.6 328.3l-0.7 2.4M1099.5 332.9l-3.1 -3.9M898.9 332.3l-1.1 -2.1M1116.4 334.6l5.3 -0.7M1011 327.3l-0.9 3.8M969.6 324.8l-2.4 4.7M920.6 331.7l0.8 -2.4M952.4 327.7l-1.4 3.8M1006 331.1l2.7 5.7M1167 331.2l-3.1 -3.3M865.5 327.4l3.4 2.4M889.1 325.1l2.6 4.6M1194.4 328.7l1 4.6M1098.9 329.9l-0.6 2.3M980.9 328.3l4.6 -1.5M1035.5 332.6l0.6 4.1M1076.1 336.2l2 2.4M916.9 333.2l-1.4 -2.5M845.6 334.4l-4.7 -3.1M1254.5 328l-2.1 5.4M1077.4 325.7l2.2 2M982.9 331.5l-5 -3.9M1151 330.9l2.6 -1.9M1256 327l-3 3.7M887.8 325.6l5.5 0.7M1205.3 331.4l-4.4 -0.4M1170.1 327.2l0.7 5.4M872.4 326.7l4.8 1.3M1116.2 327.6l2.2 0.4M1161.7 329.9l-5.5 -1.2M1200.5 330.7l1.4 -1.5M1229.8 334.9l1.4 5.7M971.1 327.9l-1.7 1.4M1201.8 324.3l-2.2 1.3M885.2 325.4l0.7 3.2M919.7 326.4l-0.5 3.1M1178.5 328.8l4.1 -3.4M930 326.5l3.3 -1.2M975.7 328.7l4.6 -2M938.6 326l0 2.9M884.7 328.8l-3.2 -0.7M839.4 333l0.3 6M1118.2 332.1l4.5 0.9M1016.2 331.9l0.9 -2M1030.3 328.6l-4.5 3.4M970.9 327.9l1.1 3.3M1011.8 328.8l-4.2 2M1118 325.9l1.3 5.6M1254.6 328.5l0.9 5.7M915.4 328.7l-3.6 -2.6M1132.4 326.1l1.9 3.4M991.5 326.7l-5 2.5M833.7 329.1l-0.9 5.4M1048.1 325.5l6.4 0.5M1189.8 326.5l-2.6 4.3M1166.4 333.9l1.4 -4.6M976.9 325.2l0.7 1.9M1230.7 336.3l-1.9 3.3M896 327.7l-0.9 -1.9M1135.2 326.3l5.1 -0.5M933.2 328.4l-2.3 4.4M1122.4 326.8l-0.4 4.4M1036.8 335.2l0.5 3.3M1154.5 326.7l-4.6 4M932.9 333.2l-1.3 -2.7M1119.3 335.7l3.8 -4.2M1010.6 325.8l-3.3 0.8M1243.8 325.8l-0.5 5.5M1177.6 329.4l-2.4 2.6M1202.1 330.3l-2.7 2.3M1008.2 326.5l4 4.6M1089.1 327.3l-0.1 3.3M958.3 325.3l-5.8 2.6M1188.4 324.9l-1 1.9M1216.1 331l-5.2 2.2M965.7 326.4l-0.8 3.7M1245.5 328.5l4.6 2.7M972.6 330.2l-0.1 5.4M892.2 334.7l2.5 3.2M1249.6 330.6l-2.1 -0.2M846 329.8l-6.2 -1M922.2 329l-2.9 1.3M1063.1 331.2l-0.5 -5.9M867.5 326l-2.3 3M1191.3 325.9l4 0.2M834.3 328l-2.5 3.3M982.7 330.3l3.8 -2.5M1229.7 329.8l-1.3 -4.4M860.7 330.9l3.5 -0.6M1215.9 335.9l-3 -0.7M1228.5 326l1.4 6.2M1244.1 324.3l2.2 1.8M1126.3 335.2l1.6 -2M1092.5 329.7l5.9 -2.2M964.7 332l-0.8 -6.4M834.6 330l-5.6 -0.1M987.5 325.8l1.3 4.3M919.4 333.8l3 0.5M952.7 325l-3 5M1107.7 324.8l0.8 5.2M884.6 325.2l3.3 4.3M1030.5 329.5l-2.9 2.6M1038.5 330l2 -2.8M1070.8 328l-6 -0.6M903.1 327l-3.9 2.5M1015.6 331.2l-1.6 -1.4M1138.6 333.6l-1.2 2.7M951.5 329.5l-1.3 -2.2M1139.6 326.2l-3.5 3.8M880.2 328.4l1.1 3M1068.6 327.4l-3.5 -1.1M947.1 326.5l1 3M953.5 330.5l2.7 -5M1117.3 327.6l-5.8 0.2M1047.2 324.7l1.7 1.3M961.1 328.1l-2.9 0.3M1231.1 327.7l3 3.3M1050.5 326.2l-1.7 1.2M1055.9 329.2l0.6 2.5M1099.4 326.8l-2.8 1.8M1217.1 326.7l-0.5 3M900 326.3l-1.3 4.2M1151.7 327.5l-2.2 1M1028.5 325.7l-2.8 1M918 336.3l-2.8 4.3M1240.7 330.7l4.3 0.3M1161 329.9l1.6 3.1M1233 327.4l-4.9 -2.2M1037.8 325.8l4.5 3.2M1216.2 329.6l-5.8 1.8M832.6 330.4l4 -0.9M1092.9 328.9l-1.9 1.7M1063.5 332l-3.9 4.3M1128.1 326.1l3.4 5.2M1228.7 329.2l3 -1.9M908.7 324.8l-3.5 3.7M1022 333.5l-2.5 -1.2M947.8 329.9l-1.1 2.9M861.1 330.8l-6.1 0.2M942.7 326.9l-2.5 0.1M1246.4 332.1l3.1 -2.5M1123 331.5l1.6 4.5M1060.2 327.6l4.7 0.6M1020.6 328.8l1.6 -1.4M972.1 324.8l0.5 5.4M904 334.6l3.1 4.7M893.6 325.9l4 4.6M1257.9 326l-5.6 0.1M866.4 327l-0.9 3.2M1090.1 326.1l3.3 4M1241.8 330.6l4.6 1.7M1028.9 328.7l4.4 1.5M971.5 324.7l1.7 1.3M951.1 326.3l4.4 4M1022.2 328.4l2.1 0.8M1126.3 325.2l2.2 1.2M840.1 327.7l2.6 5.7M880.4 330l-2.7 0.7M911.2 330.5l1.4 -4.9M856 326l-2.5 0.1M923.7 327l-2.2 3.6M1046.3 326.7l-3.7 -1.5M958.3 328.8l-2.1 -1.3M1039.9 325.1l5.2 0.9M978 333.1l-2.7 2.9M888.5 334.6l2.1 -5.5M1261.5 329.8l-4.3 1.2M1035.6 325.8l1.9 1.6M1179.3 325.7l2.8 3.9M1043.8 326.5l-2.6 3.5M1141.6 327.2l3 1.8M1013.4 328.7l-0.1 5.1M902.7 331l1.8 -2.8M1113.2 330.1l2.6 -0.9M994.4 328.5l-5.5 -1.4M1257.1 334.4l0.1 6.1M896.1 329.1l3.6 -1.1M995.4 326.7l-1.3 2.9M901.3 331.8l5 -1M885 329.6l-0.2 3.5M1185 332.3l-4.2 -0M1135.5 330l-0.4 4.8M924.4 331.6l-0.1 2.7M1141.1 327.2l1 3.5M1160.9 326.6l-5.6 3M1258.3 329.9l0.3 6.3M1039 335.2l-1.5 2.1M1168.7 327.1l0.2 4.3M1252.6 332.1l2.6 4.4M978.3 330.2l1.2 1.6M833.8 327.4l1.4 3.8M1084.2 324.9l2.5 3.8M1056.3 325.4l3.2 4.9M983.1 324.8l5.7 1M971.7 326.5l-4.5 4.1M1082.5 325.9l-0.2 3.8M993.6 325.5l-1.6 4.8M967.6 328.6l-0.5 3.5M876.4 328.6l2.3 4.9M1025.9 326.9l-3.8 2M1256 324.9l0.4 2M1084.2 327.5l4.1 0.6M1110.4 324.6l-2.5 0.7M875.6 325l-4.7 2.5M1150.4 326.5l-2.9 3.1M896.7 328.1l5.9 0M1156.1 328.5l-3.6 -2M1168.8 325.2l-4 1.5M946.5 332l2.5 -3.1M1054.5 330.3l2.4 0.2M1184.6 329.3l-1.1 -1.7M1256.9 327.5l-2.2 3.1M923.9 326.7l-0.5 6.5M1047.5 327.3l-4.1 1.7M1007.2 327.2l6.3 -0.6M1215.5 329.3l-1.5 -2.6M1154.5 324.4l4.1 4.8M1103.1 326.4l-3.7 2.5M1160.7 328.2l1 3.2M926.5 328.4l-2.5 1.8M1217.1 326.7l0 3.2M1117.1 327.2l-2.2 -1.3M972.6 334.3l2.1 0.2M1181.2 324.7l0.6 2.8M1144.2 326.4l1 6M1243.9 331.1l-4.3 -2.1M954.9 329.4l2 1.4M834.7 327.2l-2.5 -1.4M956.4 338l4.1 1.3M1040.4 328.2l-3.4 -2.2M836.9 329l-0.9 -2.4M852.1 329.7l-0.4 -2.1M925.9 327.3l4.2 2.4M1025.3 329.4l1.5 2.4M904.7 331l-0.2 -4M1182.2 324.3l3.7 1M1011.9 331.4l0.2 5.3M1041.5 332.2l-1.9 -2.8M1216.7 334.4l-1.7 4.2M1239.2 324.5l-1.8 5M1018.1 325l1.2 5.4M1111.7 325.2l-2.4 1.1M1135.1 326.9l5.2 -0M964.5 326.1l1.9 2.7M1238.3 328.7l4.1 4.7M1251.7 335.8l-5.1 1.9M891.8 327.3l0.3 2.2M1195.5 326.2l-1.9 3.9M889.5 328.8l0.9 3.6M1221.7 328.8l2.7 5.5M841.1 326.5l0.7 3.2M1116.3 327l-3.9 2.4M957.6 333.6l2.9 -0.7M1192.3 326.1l-2.5 3.2M944.7 329.6l4.5 0.2M1112.4 329.3l1.3 6.4M1248.7 324.1l-4.1 3.1M1244.7 324.4l-0.5 5.3M1161.3 326.6l-5.2 -1.4M1183.5 326.9l0.8 3.8M1252.7 325.4l-5.8 1.1M1053.6 331.1l-3.3 1.2M974 325.5l-2.7 2.6M884.8 326.1l-2.4 5.5M1209.8 331.9l-5 0.3M910.4 329.7l4 -2.1M897.2 327l1.8 2.7M993.9 324.9l3.7 -0.2M1106.8 326.8l-0.5 2.9M1008.5 330.9l-6.1 0.8M832.9 326.4l-2.8 5.7M1213.4 324.5l1.5 5.4M1171.4 325.6l2.2 4.4M909.4 324.9l0.2 3.9M1047.1 334.5l1.4 -2.7M1249.6 330.4l-0.8 3.8M967 329.5l3.4 5.2M949.9 327.6l-2.6 -2M1227.7 326.2l2.1 1.3M1090.8 326l2.4 1.6M1172.2 324.3l4.2 0.6M959.3 326.7l-1.6 4.5M956.8 326.8l0.4 3.4M1096.9 325.3l-1.8 1.3M1087.6 328.4l6.4 -0.4M917.5 333.3l1.8 -5.8M1051.2 327.3l-3.1 1.1M983.6 332.4l-1.3 -3.2M1099.2 325l-1 6M1191.7 327.3l-4.1 -1.9M1196.8 330.2l-4.6 -2.5M1080.9 330.8l-3 3M1213.2 325.7l5 3.8M1022.9 324.8l-4.6 1.1M1167.6 328.8l-0.4 3.9M888.3 336.2l1.8 2.5M1085.2 333.1l1.6 -1.5M1227.7 324.2l-2.5 5.7M894 327.5l-4.1 2.7M895.2 326l2.7 2.4M1243.8 325.9l3.3 3.8M991.5 325.5l4.8 2.2M971.8 325.6l-4.6 3M989.2 326.5l-0.8 4.2M1046.6 327.7l1.9 6M1067.3 329.5l5.5 -2M1261.3 324.4l-2.7 5.8M1034.8 325.4l1.4 2.8M901.2 326.9l0.4 4.4M1055.3 330.1l-5 0.5M841.7 326.1l-0.6 4M985.2 330l-4.5 -2M1212.2 324.6l2.7 0.5M946.8 330.1l-5.4 -3.5M962.2 328.2l-3.1 -0.5M922.1 325.2l2.8 4.5M1047.8 326.6l3.6 -0.7M978.9 334.5l-4 -2.1M918.1 328.3l-2 3.5M1212.2 326.4l3.1 -0.9M995.9 330.2l3.9 -1.4M971.9 327.3l0.7 4.1M894.7 330.7l2.3 -0.1M1165.9 326.7l-3.7 4M1127.1 331.3l2.7 -0M935.9 328.5l-3.2 -1M870.5 325.8l-3.9 4.2M873.2 328.2l-2.1 0.3M1251.8 327.8l0.8 3.8M1096.5 326.8l3.1 3.9M1156 329.8l-0.3 -2.6M845 325l-3.1 1.2M1007.6 325.5l2.2 4.8M1166 326.3l4.3 1.8M1061.3 329.2l4.5 4.3M1106.9 326.1l1.1 2.2M1030 327.6l1.5 2.5M1242 327l-3.2 4.8M1184.8 327.8l-4.3 -0.6M1011.6 325.3l0.2 3.3M878 327.2l1.7 2.4M1239.5 326.1l2 0.7M981 327.4l6 2.5M1055.5 330.4l2.3 -0.8M996.7 330.3l-3.8 3.9M1095.8 333.9l3.7 -2.3M874.3 330.5l-0.7 5.3M890.6 331.5l0.6 5.3M837.9 326.9l2.1 -1M841.1 330l-5.2 -1.3M890.2 328.5l-4.7 0.7M960.6 327.5l-1.8 4.2M1115.7 328.6l-6.4 -0.7" stroke="#000" stroke-width="1.8" fill="none" stroke-linecap="round"/>
<circle cx="1137.6" cy="343.7" r="1.8"/>
<circle cx="840.6" cy="335.9" r="2"/>
<circle cx="1228.8" cy="348.5" r="2"/>
<circle cx="1026" cy="344" r="1.7"/>
<circle cx="979.6" cy="342.8" r="1.7"/>
<circle cx="1012.1" cy="337.1" r="2.4"/>
<circle cx="1036.1" cy="336.3" r="1.3"/>
<circle cx="1030.6" cy="341.7" r="1.6"/>
<circle cx="868.9" cy="351.1" r="1.8"/>
<circle cx="896.9" cy="349.9" r="1.6"/>
<circle cx="885.7" cy="332.9" r="2.3"/>
<circle cx="866" cy="351.2" r="2.3"/>
<circle cx="1230.8" cy="334.9" r="2.1"/>
<circle cx="1163.3" cy="335.4" r="1.4"/>
<circle cx="1070.4" cy="350.5" r="1.9"/>
<circle cx="1149.1" cy="336.9" r="1.9"/>
<circle cx="921.4" cy="340.2" r="1.4"/>
<circle cx="839.4" cy="352.8" r="2.1"/>
<circle cx="965.6" cy="351.9" r="1.5"/>
<circle cx="1176.2" cy="344.8" r="2.1"/>
<circle cx="953.7" cy="340.8" r="2.2"/>
<circle cx="921.1" cy="346" r="2.2"/>
<circle cx="1164.1" cy="344.2" r="2.2"/>
<circle cx="929.2" cy="349.1" r="2.3"/>
<circle cx="1004.9" cy="344.7" r="1.4"/>
<circle cx="838.2" cy="334.2" r="2.3"/>
<circle cx="1000" cy="339.2" r="1.6"/>
<circle cx="1139.5" cy="343.4" r="1.8"/>
<circle cx="856.9" cy="339.5" r="1.7"/>
<circle cx="894.6" cy="349.8" r="1.8"/>
<circle cx="1075.7" cy="333.3" r="1.6"/>
<circle cx="924.6" cy="343.3" r="1.3"/>
<circle cx="898.1" cy="338.4" r="2.1"/>
<circle cx="1093.6" cy="349.5" r="2.4"/>
<circle cx="1005.3" cy="344.4" r="1.5"/>
<circle cx="940.4" cy="334.4" r="1.4"/>
<circle cx="1175.5" cy="347.7" r="1.9"/>
<circle cx="1191.6" cy="351.7" r="1.2"/>
<circle cx="1005.9" cy="350.2" r="2.4"/>
<circle cx="844.6" cy="343.9" r="2.3"/>
<circle cx="1204.3" cy="346.9" r="2"/>
<circle cx="1128.9" cy="342.8" r="1.8"/>
<circle cx="1111.5" cy="351" r="2.3"/>
<circle cx="1104.2" cy="337.3" r="1.4"/>
<circle cx="1190.2" cy="342.4" r="1.9"/>
<circle cx="883.4" cy="342.9" r="1.7"/>
<circle cx="930.2" cy="341.5" r="1.7"/>
<circle cx="846.9" cy="341.5" r="1.8"/>
<circle cx="881.6" cy="335.3" r="2.2"/>
<circle cx="1216.4" cy="344.6" r="1.9"/>
<circle cx="889" cy="333.5" r="1.4"/>
<circle cx="914.7" cy="335" r="1.6"/>
<circle cx="1224.2" cy="335.6" r="2.2"/>
<circle cx="1079.7" cy="349.1" r="1.4"/>
<circle cx="1056.1" cy="333.2" r="1.5"/>
<circle cx="913.5" cy="336.5" r="2"/>
<circle cx="1215.3" cy="339.5" r="1.6"/>
<circle cx="1150.4" cy="339" r="2"/>
<circle cx="880.2" cy="335" r="1.4"/>
<circle cx="1261.7" cy="335.4" r="1.8"/>
<circle cx="1017.2" cy="345.9" r="1.4"/>
<circle cx="940.3" cy="351.8" r="1.2"/>
<circle cx="1228.4" cy="341" r="1.6"/>
<circle cx="1024.2" cy="335.1" r="1.9"/>
<circle cx="1124" cy="348.2" r="2"/>
<circle cx="1120.8" cy="351.7" r="1.5"/>
<circle cx="1208.2" cy="344.3" r="2.2"/>
<circle cx="1226.7" cy="349.3" r="2.3"/>
<circle cx="1139.7" cy="343.3" r="1.8"/>
<circle cx="1102.5" cy="334.3" r="1.6"/>
<path d="M1268 326 L1307.5 579 L1302.6 579.8 L1303.1 575.6 L1298.3 572.3 L1302 567.7 L1300.6 563.9 L1299.4 560 L1298.4 556.1 L1296.1 552.4 L1295.3 548.5 L1298 544 L1294.9 540.5 L1295 536.4 L1291 533 L1293.8 528.5 L1291 524.9 L1289.5 521.1 L1290.5 516.9 L1288.5 513.1 L1286.2 509.4 L1286.8 505.3 L1286.9 501.2 L1289.5 496.8 L1284.4 493.5 L1284.3 489.5 L1283.3 485.6 L1283.8 481.5 L1283.3 477.5 L1286.3 473 L1278.9 470.1 L1282.7 465.4 L1282.7 461.4 L1281.7 457.5 L1280.4 453.6 L1280.4 449.6 L1278.3 445.9 L1274.6 442.4 L1279.3 437.6 L1279.6 433.5 L1278.9 429.6 L1273.9 426.3 L1275.9 422 L1275.5 418 L1271.7 414.5 L1274.8 410 L1274.4 406 L1268.9 402.8 L1267 399 L1270.4 394.5 L1271.6 390.2 L1269.8 386.5 L1266.4 382.9 L1263.4 379.4 L1264.4 375.2 L1263.1 371.3 L1263.8 367.2 L1262.1 363.4 L1260.7 359.5 L1267.6 354.4 L1261.7 351.3 L1259 347.6 L1258.7 343.7 L1263.5 338.8 L1256.8 335.8 L1256 331.9 L1262.3 326.9Z" fill="#000"/>
<path d="M1281.7 453.1l1.8 1.3M1271.9 410.5l1.2 1.4M1290.1 507.9l0.2 3.3M1272.2 420.2l-1.8 0.2M1269.9 402.1l-1.7 1M1275.5 428.9l-1.8 2.4M1267.2 357.5l-2.2 1.1M1296.1 527.1l3.6 0.6M1293.2 519.2l-1.1 3.6M1274.9 392.9l-0.2 3.4M1279.8 442.8l-2.3 2.6M1278.2 437.7l-3.6 0.8M1297.8 563.1l3.3 0.3M1282.4 449.9l1.1 2.5M1297 566.7l2 2.1M1296.9 566.2l1.7 2.9M1276.3 414.5l-2.7 1.8M1301.6 569.7l-3.4 1.2M1289.8 495.2l-1.8 1.2M1283.2 483.7l2.5 0.8M1266.7 341.5l1.4 2.3M1295.7 525.4l3 2.5M1285.4 457.7l0.3 3M1279 456.6l-1.1 1.2M1267.3 385.7l-3.5 0.7M1282.3 457.1l3.5 0.3M1297.1 543.2l2.9 0.7M1284.6 464.2l-1.5 0.8M1295.6 541l-0.7 2.6M1287.3 481.4l-3.5 1M1261.8 331.1l2.3 1.8M1257.9 333.8l-1.5 2.6M1272.1 394.7l-0.2 2.6M1269 356.4l-1.7 1M1261.3 354.2l0.8 1.5M1262.4 331.2l1.5 2.7M1281 467.8l2.1 0.8M1265.4 338.6l1.7 0.7M1296.6 549.8l-0.7 2.7M1282.5 466.9l-1.3 3.7M1299 562.2l-1.8 2.5M1294.7 553.2l0 1.5M1282.3 453.9l1.2 1.6M1296 531.6l2.3 1.3M1270.6 395.8l1.6 3.1M1281.6 438.1l-0.8 2.4M1284.6 466.2l3.9 0.2M1268.8 351l0.3 1.9M1298.9 555.2l-0.4 2.6M1294.9 553.5l3.4 1.8M1290.3 504l0.6 2.4M1284.5 475.8l-3.6 0M1282.9 455.5l2.4 1.8M1266 342.5l2.7 2.9M1277.3 407.6l-0.4 1.9M1275.7 405.5l2.8 1.8M1272.7 409l2.9 1.7M1264.2 366.3l-1.6 0.7M1277.8 451.6l-0.4 1.8M1267.2 368.6l1.8 1.8M1293.3 538.9l-1.9 3.2M1263.8 361.5l0.3 2.2M1260.8 347.5l1.1 2.8M1278.6 448.5l0.1 3.9M1290.7 503.2l3.2 2.1M1274.6 430.9l2.1 0.2M1284.9 474.7l-0.4 3M1280.1 434.5l-3.1 1.4M1284.7 494.4l3.1 0.9M1270 397.9l-2.3 2.6M1294.7 541.3l-2.8 2.7" stroke="#fff" stroke-width="1.3" fill="none" stroke-linecap="round"/>
<path d="M1284.3 559.4l3.5 -5M1293.3 548.9l-4.7 -4M1290.6 487.7l0.8 3.2M1269.2 355.6l2.4 5M1269.8 364.9l-4.3 -4.8M1287.4 481.5l-3.3 0.9M1287 487.7l3.8 -0.2M1264.9 358.9l3.3 3.3M1277.9 420.2l-4 1.5M1295.2 541l2.6 3.3M1256.5 366.3l1.4 -1.6M1286.3 472l-3.9 -2.1M1261 332.2l-2.1 -2.5M1276.2 408.8l-3.2 0.3M1304.9 576.3l-4.8 -2.2M1270.2 369l-2.8 0.7M1261 337.8l-0.3 -3.3M1266 334.5l-4.8 -0.3M1285.4 467.6l-4 0.6M1282.9 434l-1.6 2.6M1278.5 434.9l-1.1 4.5M1271.3 358.3l-4.5 -0.1M1267.9 366.4l3 -3.8M1284.2 466.6l1.3 -3.3M1289.2 478.5l-4.4 -1.5M1276.7 444.6l-0.1 -2.7M1287.1 470.6l1 1.9M1276.2 481.8l-4 2M1295.4 525.7l-4.7 3.3M1284.3 527.6l0.6 4M1286.3 467.1l-3.3 2.1M1289.6 515.9l-1.7 1.2M1280.8 482.3l-4 -0.5M1290.1 482.3l0.9 2.1M1285 470.1l0.8 2.6M1277.4 395.7l-1.6 1.7M1285.7 495l3 3.6M1286.2 479.3l-2.3 2.5M1277.7 428.7l-1.9 1.6M1279.6 492.3l-4.1 -2.2M1270 412.3l-3.7 -4.4M1295.7 548.5l3.1 1.1M1281.7 424.9l-3.4 -0M1269.6 380.2l-1.6 2.1M1295.7 549.7l2.6 -1.1M1268.5 402.3l3.1 -4.8M1268.5 346.4l-3.4 -3.5M1297.5 561.8l2.8 -1.1M1261.2 341.5l5.2 2.7M1284 515.6l-0.5 -3.4M1277.3 413.7l-0.6 -3.9M1268.1 367.7l4.3 -1.3M1282.6 479.7l-3.1 -0.6M1272 419l1.2 -2.7M1270.8 377.2l2.6 -1.9M1271 364l-1.1 -5.7M1292.3 517.9l3.6 1.5M1296.6 566.2l-4.9 2M1282.1 489.9l-4.7 0.3M1281.3 492.7l-2.9 2.1M1297.3 535.4l-3.9 -3.7M1298.4 546.3l-4.6 4.3M1281.3 422.9l-1.2 1.9M1293.5 513.9l-2.7 2.1M1275.1 387.7l-3 1.9M1277 432.8l-2.3 0.8M1269.6 374l-3.2 5M1295.6 513.2l-2.2 0.2M1282 456.4l3 5M1268.5 341.9l-4 0.3M1265.4 369.4l2.4 3.8M1266.1 335.7l-5.8 -0.3M1293.6 497.6l-2.4 1.4M1301.8 552.4l-1.7 2.2M1270.6 390.1l2.1 0.1M1291.3 546.9l-4.7 -0M1269.2 390.1l1.8 1.2M1281.9 475.5l2.1 4.3M1301.6 549.2l-2.8 1.8M1290.1 558.9l3.5 0.3M1272.4 367.2l-4.3 -1.1M1282.8 444.6l-5.4 3.1M1280.2 412.2l-1.7 6.2M1272.1 426.6l1.5 -3.6M1265.6 353.1l0.4 -2M1279.9 444.8l-0.9 1.9M1289.4 547l-1.7 -2.5M1290.6 545.8l5.7 -1.7M1272.7 446.5l1.3 -6M1277.4 483.4l-1.6 -4.1M1266.8 333.7l-0.3 3.2M1279.9 432.6l-1.2 2.3M1305.2 571.9l-4.7 2.1M1291.3 513.8l3.1 5.6M1259.5 340.5l-2.9 -2.4M1279.5 412l-3.2 -3.3M1290.5 481.3l-1.6 -2M1300.5 568.6l-4.3 1.7M1260.5 365.4l0.1 4M1282.1 480.7l4.3 -4.7M1280.1 517.8l1.5 -2.4M1295.2 539l3.9 -1.1M1262.3 347.9l-2 2.4M1253.2 337.9l5.5 0.3M1297.3 520.1l-4.8 2.9M1304.6 573.1l-2.3 -2.7M1264.3 365.3l-0.6 2.5M1305.6 574.1l-2.1 -3.6M1282.4 514l4.9 -4.1M1277.3 412.9l0.7 4.7M1275.6 417.2l-5 -0.3M1305.1 568.9l-1.9 -2.9M1273.3 418.5l1.2 -6.2M1289.2 497.9l0.1 -5.5M1257.8 354.2l-0.6 -4M1271.1 372.3l1 4.7M1249.5 348.5l-2.7 5.8M1294.7 511.7l0 -3.9M1254.7 350l-2.7 4.2M1301.6 575.8l1.6 -4.5M1257.3 336.1l-0.3 -2.2M1302.7 572.3l-2.2 2.1M1296.6 539.6l-3.1 3.8M1266.7 358.3l1.7 -2.2M1268.4 383.9l3 2.5M1302 571.4l-5.6 -2.5M1269 398.1l5.9 -2.4M1302.4 572.5l1.8 -1.3M1279.2 414.7l-3.2 -5.1M1291.4 522.3l-2.2 4.9M1270.3 354.5l-1.6 -1.6M1275.1 446.4l2.8 0.4M1284.2 486.9l-3.9 1M1266.2 397.1l-2.2 4.2M1287 496.4l-0.8 -4.1M1266.7 331.2l-0.3 6.2M1301.1 570.7l-0.9 2.9M1297.3 519.6l-0.4 -2.3M1274.1 402.2l-4.4 -4.4M1291.5 517.2l-6.1 -0.9M1285.9 466.1l0.7 5.3M1289.6 504.7l0.3 3.9M1293.7 544.3l0.3 4.7M1275.6 445.6l2 0.9M1294.2 551.2l-2.1 3M1285.3 466.1l-4 3.7M1291.4 491l-4.8 1.8M1277.2 434.6l0 4M1303.9 563.9l-2.3 1.4M1283.9 491.1l2.5 5.5M1279.1 438.2l-2.5 -4.1M1288.2 466.7l-0.5 -2M1281.3 427.3l-0.9 5.3M1298.6 550.5l0.9 3.6M1269 374.9l2.2 1.3M1296.8 574.7l-5.6 1.8M1302.7 554.4l-0.8 -3.8M1285.6 473.6l-5 1.1M1260 333.7l2.1 2.3M1298.2 524l-0.6 -2.7M1302.5 562.9l-2.7 1.8M1282.9 443.4l-0.2 2.1M1265.4 342.2l-0 -2.8M1295.9 510.6l-2.4 1M1277 462.3l-3.3 -2.5M1282.5 429.4l-3.1 0.7M1275.1 383l-1.2 5M1269.3 359.3l-0.8 -3.2M1269.7 374.5l-0.1 -3.2M1285 466.2l-2 -4.2M1278.1 466.4l-2.5 3.4M1264 333.9l-2.2 -0.3M1305.6 571.7l-3.8 -0.6M1272 387.5l-6 -2.2M1292.4 527.6l-5.3 2.2M1293.3 493.7l-1.7 -3.4M1306.2 577.5l-2.3 -3.1M1287.4 474l-3 2M1285.3 449.6l-3.5 -3.5M1274.8 472.3l2 -5.5M1296.2 545.5l2.7 2.1M1270.2 348.9l-4.2 1.9M1296.7 569.6l4.2 -2.7M1280.8 431.3l-2.9 4.7M1275.5 448.9l-1.1 -1.8M1279.1 428.3l-3.9 0.4M1285 525.5l-2.3 -4.4M1285.6 458.6l-4.4 -1.7M1270.8 362.5l-4.6 2.3M1261.9 356.7l-3.3 -1.3M1293 510.7l-1.5 5.6M1279 406.7l-3.9 -2.1M1297.7 521.6l-4 2.2M1269.3 343l-4.1 -4M1271.5 359l-1.6 -4M1288 484.7l2.3 -1M1294.6 513.8l-3.9 -4.5M1298.1 533.5l0.5 4.3M1282.1 468.8l5.5 0.6M1286.5 467.6l1.1 2.2M1291.7 486.8l-3.4 -5.2M1258 346.1l-3.6 -5M1258.5 333.8l-3.2 3.4M1275.6 398.1l-0.3 -4.3M1295.7 523.4l-4.2 3.5M1280 446.1l-3.3 1.8M1272.9 367.2l-2.2 2.3M1282.5 449l-2.3 -4.5M1265.2 332.2l-3.2 1.4M1297.4 534.7l-4.8 2.3M1287.9 463l-3.6 1M1272.9 416.5l-3.9 -1.3M1279.1 416.6l-2.7 -1.9M1271.7 376.6l-2.5 4.3M1268.1 406.7l-1.8 -4.2M1288 494l3.5 -3.3M1290.4 484l-4.7 3.3M1287.7 514.2l4.7 3M1285.6 508.7l-6 -2.4M1273 379.9l1.9 6.1M1263.3 376.9l-1.9 -2.1M1293.2 545l2 1M1291.7 483.2l-3.1 -3.9M1292.3 518.5l3.1 3.8M1289.5 474.3l-2.1 2.3M1265 383.1l-5.8 2.2M1257.1 372.7l2.9 1.9M1305.4 577l-2.7 2.4M1256 348.9l2.4 -2.4M1269.5 425.5l3.8 -0M1264.4 393.1l2.6 1.9M1276 418.1l2 -1M1291.8 508l-1.6 -2M1289.2 468.5l-1.4 1.9M1273.4 467.2l1.7 3M1262.8 340.5l2.3 -2.3M1268.6 402.6l-3.1 -4.9M1291.4 574.9l5.2 -2.8M1272.9 433.2l-2.5 3.5M1267.4 361l-4.8 4.2M1281.3 494.1l-3.3 3M1302.4 569.7l-3.6 -0.8M1283.3 519.8l2 -0.8M1295.8 515.4l-2.2 1.6M1270.2 416.8l1.2 -6.4M1292.2 528.4l2.7 -2.6M1273.5 441.1l-2.8 -3.2M1271.2 354.9l-3.3 0.5M1264.1 333.3l-2.4 0.7M1274.6 385.4l-0.2 -5.2M1265 366.1l2.5 -3.1M1276.4 464.6l-1.2 2.4M1280.5 451.2l-3.3 2.7M1287.9 489.1l4 3.8M1285.1 486.3l1 -4.9M1256.5 351.6l2.7 2.3M1305.3 572.2l-2.1 -2.3M1292.4 508.3l2 3.4M1296.2 530.3l0.8 2.3M1268 388.4l0.8 5.8M1268.7 343.2l-4.1 -0.2M1266 350.3l1.6 4M1301 569.7l2.1 -4.3M1268.6 353.7l-2.2 4.2M1306.1 578l-3.7 -4.3M1304.5 567.9l-1.3 -5.3M1294.3 517.8l-3.7 2.5M1271.2 394.4l-2.1 -0.9M1265.4 329.1l-2.9 -4M1301.6 554.3l-4.2 2.7M1258.8 373.9l0.4 -4.6M1281.8 493.7l2.5 -2.6M1300.8 558.2l1.4 2.4M1264.5 355.4l2.5 0.8M1249.6 353.8l3.3 0.4M1296.3 530.6l-6.2 -0.8M1278.3 447l3.9 -4.7M1277.4 454.3l-1.9 2.9M1278.7 462.2l-0.3 4.6" stroke="#000" stroke-width="1.8" fill="none" stroke-linecap="round"/>
<circle cx="1279.2" cy="502.7" r="1.5"/>
<circle cx="1262.4" cy="435.2" r="2.3"/>
<circle cx="1264.8" cy="438.8" r="1.5"/>
<circle cx="1261.1" cy="377.7" r="1.8"/>
<circle cx="1254.4" cy="367" r="1.6"/>
<circle cx="1266.4" cy="416.2" r="1.9"/>
<circle cx="1251.9" cy="404.1" r="1.5"/>
<circle cx="1265.1" cy="481.9" r="1.4"/>
<circle cx="1260.2" cy="392.4" r="2.1"/>
<circle cx="1279" cy="552.2" r="2.2"/>
<circle cx="1250.2" cy="422.2" r="1.3"/>
<circle cx="1267.3" cy="434.1" r="1.7"/>
<circle cx="1286.1" cy="528.4" r="2"/>
<circle cx="1257.1" cy="461.5" r="1.8"/>
<circle cx="1251.5" cy="362.3" r="2.2"/>
<circle cx="1274.2" cy="494.2" r="2.1"/>
<circle cx="1246" cy="355.5" r="2.4"/>
<circle cx="1276.7" cy="540.8" r="1.6"/>
<circle cx="1252.6" cy="382.5" r="2.1"/>
<circle cx="1258.8" cy="430.5" r="1.9"/>
<circle cx="1261.7" cy="400.2" r="2.3"/>
<circle cx="1253.6" cy="371.5" r="1.6"/>
<circle cx="1279.5" cy="518.5" r="2"/>
<circle cx="1268.3" cy="437.8" r="1.6"/>
<circle cx="1255.4" cy="383.1" r="2.2"/>
<circle cx="1250.1" cy="425.4" r="1.9"/>
<circle cx="1257.7" cy="385" r="1.8"/>
<circle cx="1252.8" cy="416.6" r="1.7"/>
<circle cx="1258.2" cy="460.3" r="2.3"/>
<circle cx="1250.2" cy="423.4" r="1.9"/>
<circle cx="1246" cy="352.4" r="2.2"/>
<circle cx="1257.8" cy="365.6" r="1.4"/>
<circle cx="1266.2" cy="466.7" r="1.9"/>
<circle cx="1281.6" cy="519.5" r="1.6"/>
<circle cx="1261.4" cy="414.5" r="1.7"/>
<circle cx="1272.1" cy="554.1" r="1.9"/>
<circle cx="1269.9" cy="518.9" r="1.6"/>
<circle cx="1273" cy="507.1" r="1.4"/>
<circle cx="1274.9" cy="555.7" r="2"/>
<circle cx="1278.6" cy="496.5" r="1.8"/>
<circle cx="1249" cy="332" r="1.5"/>
<circle cx="1265.1" cy="409.6" r="2.3"/>
<path d="M1307.5 579 L1378 579 L1378 588 L1373.9 585.1 L1369.7 586 L1365.6 586.3 L1361.4 582.6 L1357.3 583.6 L1353.1 587.8 L1349 587.4 L1344.8 583.1 L1340.7 587 L1336.5 586.9 L1332.4 585.3 L1328.2 582 L1324.1 582.3 L1319.9 585.3 L1315.8 586.6 L1311.6 586.4 L1307.5 582Z" fill="#000"/>
<path d="M1309.9 582.1l-1.2 2.7M1353.2 586.3l-1.9 1.1M1357.5 583.9l-2.4 0M1343.5 583.9l-2 0.1M1374.4 585.4l2 1.6M1320.1 583.3l-1 1.9M1344.2 583.5l1.1 3.5M1313.7 582.3l-2.7 2.5M1320.8 584.3l-2.7 1.3M1375 583.6l-2.9 1.2M1368.5 583.5l-2.6 0.6M1313.2 584.7l-2.8 0.9M1322.1 585.7l-2.1 3.3M1377.7 585l1.5 0.4M1367 582.9l-2.2 2.3M1321.2 585.6l0.5 2M1333.8 584.9l3.6 0.8M1318.2 583.3l-1.1 3.1M1335.6 583l2 0.4" stroke="#fff" stroke-width="1.3" fill="none" stroke-linecap="round"/>
<path d="M1368.6 581.6l1 2.9M1319.2 582.5l2.2 4.2M1307.9 585.2l-2.7 2.8M1366.3 582.6l4.1 2.8M1323.6 587.4l1.8 -2.6M1306.2 590.2l6 0.1M1307.1 584.3l2.4 2.2M1330.7 582.4l-2.1 1M1319.9 585.7l2.2 4.7M1348.1 589.3l2.4 1.2M1383.6 585.3l-1.2 3.2M1373 584.2l5.6 1.7M1374.4 584.1l2.7 -1.6M1326.8 585.9l-3.7 -3.5M1315.9 592.8l3.8 5.2M1335.6 586.1l-0.4 -3.2M1305.3 581.4l1.1 2.8M1306.1 584.3l-6 -2.3M1336.9 582.9l3.9 3.8M1310.1 583.2l3.3 1.3M1334.3 587.6l-6.1 -2M1366.5 582.5l3.8 4M1359.5 581.7l3.8 5.2M1375.5 585.4l-0.8 -2.4M1385.3 592.5l1.4 -5.5M1321.9 585.1l0.1 2M1305.1 590.1l-4.5 -1.6M1355.8 582.2l0.2 3.2M1363 584.6l1.8 2.4M1314.2 583.3l2.1 -0.1M1377.5 586.3l2.1 -2.3M1357.9 582.3l2.6 5.2M1331.1 583.5l2.1 3.6M1378.7 585l4 1.3M1354.6 581.4l0.4 2.8M1369.4 582.4l2.5 5.9M1362.3 581.5l1.6 2.6M1306.9 583.2l-3.1 5M1320.3 585.9l-4.6 0.9M1365.1 581.9l-2 2.9M1330 582.9l-2.1 1.7M1312.1 586.1l2.2 -2.7M1331.9 587l0 -5M1367.4 584.7l-6 -2.4M1317.7 582.3l-2.6 4.2M1348.9 585.9l1.7 3.6M1379.5 587l-2 -0.4M1337.2 587.2l2.4 -3.9M1338.7 585.6l3.1 4.9M1364.4 583.1l-2.2 5.9M1311.7 585.5l-0.1 3.8M1373.5 590l-1.8 -2.7M1302.6 581.2l-1 5M1304.8 582.6l-4.4 0.5M1315.9 584.5l-3.4 4.5M1321.7 585.8l-2.3 4.5M1359.3 582l-0.3 4.7M1346.2 582.4l-2.7 3.3M1322.7 584.5l1.8 1.7M1383.3 582.3l-1.8 1.9M1341.7 581.7l-1.5 1.9M1360.4 584.2l-2.1 -2.2M1321.2 581l3.6 0.6M1345.4 587.1l0.7 -4.8M1358.4 586.5l2.9 -3.1M1346.5 587.1l2.7 3.9M1368.9 583.2l-0.6 3.9M1308.3 581.8l-4.8 2.5M1356 581.9l4.5 2.5M1364.1 586.2l-5 4M1334.2 582.1l-2.5 5.3M1367 581.3l0.9 4.2M1348.7 585.2l4.2 4.8M1320.9 586l0.8 -3.4M1381.6 584.4l3.1 2.2M1301.4 586.9l1.7 2.6M1338.4 583.5l-2 5.4M1315.1 582.7l-1.9 1.6M1373 581.3l1.5 4.8M1333.4 586.4l0.5 6M1303.7 582l3.5 -0.1M1352.1 585.3l-2.5 -0.5M1348.7 584.8l3.6 3.5M1354.3 581.6l-0.5 3.9M1330.3 586.5l-2 -0.9M1370.4 582.5l-1.7 4.7M1301.5 581.2l-1.9 3.4M1359.3 584.6l4.8 2.6M1367.7 584.9l-5.4 -3.2M1367.1 586.4l3.8 -2.3M1339.2 585.9l2.9 5.4M1367.5 581.8l-2.1 5.3M1357.6 582.2l-2.6 4.6M1310.7 584.1l-2.1 3.3" stroke="#000" stroke-width="1.8" fill="none" stroke-linecap="round"/>
<circle cx="1332.5" cy="593.4" r="2.4"/>
<circle cx="1357.3" cy="602.9" r="1.4"/>
<circle cx="1368.2" cy="593.8" r="2.4"/>
<circle cx="1373.3" cy="593.4" r="1.8"/>
<circle cx="1376.5" cy="588.4" r="1.5"/>
<circle cx="1381.7" cy="598.8" r="2.3"/>
<circle cx="1313" cy="602.9" r="1.7"/>
<circle cx="1342.5" cy="591.6" r="1.5"/>
<circle cx="1309.2" cy="595.5" r="2.3"/>
<circle cx="1375.5" cy="591.1" r="2.1"/>
<circle cx="1348" cy="597.3" r="1.5"/>
<circle cx="1324.2" cy="601.1" r="2.3"/>
<circle cx="1336.3" cy="600.2" r="1.7"/>
<circle cx="1374.7" cy="591.7" r="1.8"/>
<circle cx="1319.2" cy="600.9" r="1.4"/>
<circle cx="1352.8" cy="593.8" r="1.5"/>
<path d="M1415.5 326 L1378 579 L1382.2 579.6 L1384.9 575.9 L1388 572.3 L1384.3 567.6 L1386.6 563.9 L1388.1 560 L1385.6 555.5 L1390.8 552.2 L1391.6 548.2 L1388.1 543.6 L1390.2 539.8 L1391.9 535.9 L1394.9 532.3 L1394.2 528 L1392.6 523.7 L1396.2 520.1 L1395.8 516 L1393.6 511.5 L1398.2 508.1 L1397.6 503.9 L1394.2 499.3 L1400.6 496.2 L1396.6 491.5 L1397.2 487.5 L1401.5 484 L1402.8 480.1 L1400.7 475.7 L1404.6 472.1 L1402.7 467.7 L1402.9 463.7 L1403.8 459.7 L1403.3 455.5 L1404 451.5 L1409.4 448.2 L1404.7 443.4 L1405 439.4 L1405.2 435.3 L1411.5 432.1 L1409.4 427.7 L1405.7 423 L1411.9 419.9 L1413.4 416 L1414.4 412 L1414.3 407.9 L1413 403.6 L1416.5 400 L1417 396 L1412.3 391.2 L1411.2 386.9 L1418.4 383.9 L1413.4 379 L1413.3 374.9 L1421.7 372.1 L1415.4 367 L1415.6 362.9 L1422.4 359.9 L1424.5 356.1 L1423.3 351.8 L1420.3 347.2 L1418.9 342.9 L1420 339 L1424.7 335.6 L1426.1 331.7 L1427.8 327.8Z" fill="#000"/>
<path d="M1411.3 381.7l2.9 0.9M1402.5 457.5l-2.9 2.7M1403 437.4l-1.2 2.2M1388.2 568.1l-1.3 2M1419.4 365.7l3.7 0.1M1402 457.5l2.6 2.7M1411.6 400l-0.5 2.1M1401.5 458.3l-2.5 0.1M1417.3 354.7l0.5 3.8M1415.2 397.8l2.9 1.6M1393.4 521.8l-2.7 1.1M1392.9 535.4l-3.4 1M1392.9 503.6l-0.1 1.7M1401 479.8l2.6 0.2M1394.5 525.6l-0.7 3.4M1406.7 435.3l-2.2 0.8M1420.6 340.8l-1.9 1.7M1403.7 445.1l1.6 0.3M1398.6 469.8l-0 3.3M1391.4 516.4l0.1 1.7M1412.1 387.9l-2.9 1.5M1399.2 498.5l1.9 1.8M1420.4 357.1l-2.9 1.4M1408.6 400.9l-1.2 3.7M1389.2 529.7l-1.7 3.3M1389.7 556.4l2.7 0.3M1386.1 576l1.4 1.4M1412.3 416.4l-1.9 2.3M1395.1 500.4l1.5 2.7M1417.9 348.9l2 0.7M1415 397.9l-0.8 1.5M1414.2 396.7l-3.3 1.4M1417.4 373.1l-3 0.8M1394 495.6l-0.5 1.8M1386 568.2l1 1.9M1394 510.4l2.6 0.8M1402.2 476.2l-1.5 0.6M1396.9 505.1l1.8 1.7M1405.1 445.8l0.1 3.5M1408.3 398.1l0.4 2.4M1389.4 534.7l2.2 2.8M1414.1 357.4l-3.9 0.9M1393.8 512.7l0.6 2.4M1410.5 411.5l-2.7 2.7M1417.7 371.3l-3.2 1.7M1382.1 579l2.4 0.8M1397.8 496.3l-0.4 3.7M1398.1 496.2l-1.7 0.3M1399.4 481.6l0.1 2.8M1408.8 397.3l1.8 0.4M1413.8 360.5l-2.1 2.5M1395.1 497.4l-1.1 1.1M1408.9 422l-1.7 1.5M1420.6 343l-0.6 1.4M1422.6 351l2.7 1M1419.4 356.7l-2.3 0.1M1408.3 419.9l2.7 2.3M1392.7 510l-1.8 2.4M1384.3 560.9l3 1M1395.7 480.7l2.3 2.5M1395.3 497.1l0.1 3.7M1415.5 375.5l2.6 2.5M1391.1 539.8l1.3 3.7M1406 429.2l-1.6 0.1M1391.8 527.4l-2.1 1M1384.5 566.6l1.5 0.8M1406.2 447.9l0.3 3.9M1406.5 431.6l2.3 3M1418.1 353.6l-1.9 0.8M1395.2 512l-3.7 1M1404.7 462.1l-1.3 1.7" stroke="#fff" stroke-width="1.3" fill="none" stroke-linecap="round"/>
<path d="M1386.6 530.3l3.2 -2.8M1394.9 483.9l-0.6 3.3M1411.3 367.1l-0.9 -3.9M1393.3 574l2.4 -1.9M1412.8 422.8l3.5 -2.2M1410.1 453.3l-4.2 4.2M1409.2 416l1 1.9M1381.6 575.2l5.7 0.9M1419.7 339.4l1.9 5.2M1398.8 516.4l-6.1 0.4M1395 476.6l2 3M1402 431.2l1.4 2.1M1428.9 331.2l2.7 -4.7M1415.5 332l3.9 -0.4M1395.9 472.7l0.4 2.1M1415.2 361.6l-2.7 -3.8M1408.6 403.5l2.5 1.7M1394.7 478.7l4.1 -4.6M1404.7 446l-0 -2.9M1414.7 335.2l-0.8 4.5M1382.4 564.9l3.9 -5.2M1403.1 474.2l2.2 2.1M1411.1 362.8l1.3 4.6M1409.4 493.9l0.5 6M1384.9 538.4l6 -0.4M1409 496l5.5 -3.5M1411.4 381.8l0.6 3.8M1386.3 527.3l2.2 -2.8M1380.4 575.1l-1.8 4.8M1415.1 331.2l3 -5.8M1414 339.7l4.6 -2M1404.6 401.4l6.1 0.9M1409.9 428.1l3.2 3.3M1396.5 499.8l2.2 1.6M1390.2 527.2l3.7 2.5M1399.8 494.9l0 2.7M1406.8 406.4l-2 0.5M1416.5 425.9l-1.1 -2.1M1385.3 575.6l3.4 2.6M1420.7 373.8l-4.3 3.5M1389.3 567.6l-2.3 -3.5M1399.2 464.1l0.6 -2.3M1390.2 518.9l-1.9 -0.5M1399.9 484l2.7 0.6M1403 482.3l3.8 0.3M1397.9 482.1l3.5 0.8M1386.5 542.6l3.6 -4M1405.2 466.8l-1 -2M1399.2 492.8l0.9 2.9M1408.1 459.1l-3.4 -0.7M1407.6 408.3l-1.8 3.1M1422.2 348.9l1.3 -2.3M1395.6 460.5l5.3 1.8M1417.3 422.2l2 -1.7M1416.3 367.8l4.7 -3.3M1405.9 413.9l3.3 1.2M1417.5 376.7l-3.9 -0.9M1404.8 441.8l-2.9 -0.8M1386.5 530.3l4.7 -0.5M1402.9 412l2.2 0.1M1387.4 536.8l-2.4 0.1M1394.8 486.6l3.6 1.6M1391 502.7l0.9 3.4M1402.4 435l3.7 -3.8M1405.9 434.2l-1 -4.4M1414.5 375.7l-1.6 -5.7M1404.3 425.8l0.5 2.2M1395.8 534.6l-5.2 -0.4M1381.2 566.1l3.5 2.2M1413.9 387.9l2.2 5.3M1411.7 351.7l4.2 0.9M1386.8 559.9l2.1 2.3M1399 466.6l0 -5.1M1389.4 536.4l-1.6 -3.1M1408.3 388.8l0.5 2.2M1424.4 341.1l-0.6 -4.6M1400.4 457l3.3 5.3M1403.1 445.6l-0.3 3.9M1424 360.5l2.7 -3.9M1404.4 410.9l1.9 2.9M1407.3 392.3l2.6 0.8M1402.1 444.3l1.8 1.6M1414.3 418.9l0.9 2.1M1398.3 451.9l0.1 -6.3M1414.3 406.1l-5.7 2.1M1401.5 502l-3.6 -0.3M1405.4 433.7l-1.1 -4M1398.4 478.1l2.5 2M1390.8 525.5l-1.9 -5.1M1410.2 428.3l3.8 0.2M1383.6 546.1l2.8 3.3M1394 472.3l1.6 1.9M1414.4 448.3l0.4 -5.1M1403.4 466.6l-3.8 2.1M1394.9 531.1l-5.4 0.8M1416.9 336.8l4.9 2.8M1385.4 536.3l6.2 1.3M1395 483.7l3.8 -3.7M1419.4 356.1l5.7 -1.6M1417.8 351.4l4.4 -3.9M1400.2 470l2.2 5.9M1412.4 390l4.7 3M1388.6 523.3l4.1 2.6M1390.4 512.7l3.1 1.2M1407.1 438.5l-2.5 -2.6M1416.1 341l-0.2 -3.9M1396.7 481.7l3.4 5.5M1401.7 429.8l-0.4 -3.5M1411.1 431.6l2 -3M1410.4 410.1l-1.8 -2M1397.5 469.3l3.4 1.7M1406.9 435.2l2.6 1.1M1413.6 377.5l2.2 0.3M1402.1 432.3l2.8 0.9M1404.9 432.6l-3.7 4.4M1403.1 439.4l5 -0.9M1397.7 469.7l2 3.2M1400.7 508.3l1.4 3.2M1416 342.2l-1.1 -2.2M1403 451.4l-2.3 5.9M1390.6 555.5l-1.6 2.8M1390.1 546.1l-2.2 -5.1M1408.4 400.7l3 -3.2M1383.5 550.6l2.3 4.6M1401.3 427.4l2.9 1.1M1403.6 422.7l1.7 1.8M1403.6 423l3.7 -3.7M1387.4 525.7l4 -3.4M1410.9 378.8l4.8 -0.3M1387.1 560.8l0.9 -2.9M1401.1 422.9l3.3 -4.1M1402.8 539.6l-0.9 -3.2M1411.4 390.2l-1.6 5.1M1407.3 462.1l-1.6 3.5M1390.6 539l-1.5 -2.1M1403 470.6l0.8 4.4M1397.1 510.3l0.5 3.2M1414.5 416.1l2 4.7M1402 454.8l2 2.2M1394.4 579.1l1.4 3.1M1393.2 479.4l1.7 5.6M1401.6 423.1l5.8 -2.2M1392.5 490l1.4 1.5M1399.7 507.7l2.1 3.2M1396.2 483.1l3.9 -0.9M1419.8 342.7l1.2 4.8M1412.9 378l1.5 2.8M1414.2 361.8l5.4 3.2M1390.9 568.9l-5.8 -2.5M1405.5 483.6l3.2 -0.6M1386.4 560.2l2 -3.8M1385.5 579.2l2.9 4.2M1398.6 514.3l3.9 -5M1426.4 339.6l0.9 3.9M1411.9 390.2l4.6 -0.1M1388.7 512.4l1.1 -2M1401.7 459.3l6.2 1.4M1408.8 404.8l3.4 2.8M1398.4 445.3l1.4 2.6M1428.2 344.6l1 -2.5M1389.4 558.3l1.7 -1.6M1397.3 577.2l-3.1 5.4M1383.3 569l5.3 -1.4M1424 341.6l3.5 1.4M1396.9 454.6l5.1 -0.4M1404.2 425.5l2.1 -3.8M1383.6 565.4l-2.8 0.2M1408.8 443.7l5.9 -0.9M1384.4 574.3l-1.4 2.7M1404.8 440.2l0 -2.6M1386.7 524.8l1.3 -1.8M1409.4 383.3l4.1 0.8M1387.9 575.1l-0.5 2.3M1395.3 536.8l2.1 -4.9M1395.6 496.6l-2.3 3.7M1407.1 403.7l5.1 -0.7M1407.7 390.9l3.2 3.6M1419.8 349l2.7 -4.4M1403 423.4l2.2 -2.4M1410.4 385.8l5.4 -3.4M1406.4 410.4l3.8 -2.7M1389.5 531.8l-3.9 0.3M1416.8 400l-2.2 -1.1M1401.7 475.3l0.2 5.2M1410.8 437.5l-1.9 -4.3M1392.1 488.9l3 -0.6M1400.8 461.9l3.2 2.6M1380 573.5l3.1 5.2M1409.6 390.5l1.4 -3.6M1413.2 413.8l3.4 0.5M1390.6 525.5l0.4 -4.2M1419.2 415.3l1.7 3.7M1402.1 431.1l4.4 1.1M1386.2 547.5l3.9 -0.5M1396.1 488.4l-0.7 3.9M1408.1 445.6l-3 -2M1388.4 536l5.1 -0.1M1396.3 462.7l4.3 0.5M1424.3 368.9l0.5 -5.4M1422.5 334.7l5 -0.2M1404.3 422.4l0.2 5.7M1407 416.1l-0.5 2.8M1398.4 470.8l0.1 -2.7M1415.5 333.9l1.5 -3.6M1405.3 438.5l-4.5 -0.8M1402.6 426.8l3.8 1M1405.6 413.9l0.7 5.4M1413.5 429.6l-1.3 -5M1396.2 457.7l1 3.2M1408.9 369.5l4.5 4.2M1386.8 525.3l5.9 -1.3M1395.3 517.4l-3.8 4M1414.3 389.7l4.4 2.1M1386.9 565.5l-1.3 6M1408.5 397l4.6 -0.4M1418.3 355.4l4.3 0.7M1404.7 417.3l-1.9 3M1412.4 364.7l3.6 -5.2M1423.2 336.9l-3.7 -2.2M1405.8 392.7l3.6 -0M1389.3 524l1.4 -2M1391.9 510.2l1.9 -6.2M1385.8 569.5l-2.9 0.6M1419.3 331.4l-0.2 -5M1384.7 535.9l0.9 6.1M1407.9 451.4l3.5 -3.2M1403.7 497.6l-2.1 -2M1389.9 523.5l4.3 -2.2M1410.8 400l1.7 3M1400.3 438.7l3.4 -4.2M1411 431.6l-0.8 -3.3M1416.7 348.6l3.7 -1.3M1420.6 341.8l2.2 0M1385.8 548.6l5 -2M1394.6 488l3.6 -5.4M1391.9 567.2l-2.6 3.7M1408.5 436.4l4.6 1.9M1417.7 382.1l-1.7 -5.3M1399.1 477l-0.7 4M1402.2 418.8l2.5 2.3M1397.6 521.1l2.8 -3.6M1411.4 353.5l3 -1.4M1391.1 519l3.5 3.7M1394.7 484.3l3.1 2.1M1388.9 550l4.6 -0.4M1408.8 372.6l4.7 0.3M1387.9 571.4l-1.8 2.4M1408.7 375.6l2 2M1400.3 454.8l-2.4 2.5M1399.8 446.8l5.2 3.1M1396.8 498.2l5.6 -1.4M1417.7 420.4l-2.2 2.1M1400.8 432.5l-1.4 5.4M1387.8 550l5 0.5M1403.2 500.1l-0.5 -6.2M1388.5 517.2l-0.1 -2.2M1413.6 368.3l-1.9 5.2M1397.9 490.3l-2.1 0.1M1386.1 573.9l3.8 -0.7M1414.4 426.9l-4 -0.3M1390 517.3l4.8 0.5M1397.9 476.6l-1.9 1.2M1407.6 388.5l0.4 -3.1M1415.4 392.1l2.4 4.1M1415.7 378.7l4.5 0.6M1390.1 547.7l2.4 3.1M1410.9 367.8l5.7 1.7M1417.6 352.6l0.8 4.9M1412 383.3l-0.6 -4.6M1414.2 413.6l-3.3 -2.3M1396.7 487.5l-2.7 -5.9M1390.3 517.5l4 -5.1M1380.6 570l4.7 1.5M1406.6 450.3l-4.2 3.3M1425.4 341.8l-5.2 3.9M1421.3 353l-3.2 -3.2M1418.7 350.9l2.8 3.6M1414.9 356.9l-1.4 1.5" stroke="#000" stroke-width="1.8" fill="none" stroke-linecap="round"/>
<circle cx="1418.5" cy="480.7" r="2.2"/>
<circle cx="1406.6" cy="543.2" r="1.9"/>
<circle cx="1404.8" cy="511" r="2.1"/>
<circle cx="1412.6" cy="426.8" r="1.6"/>
<circle cx="1397.8" cy="572.1" r="1.3"/>
<circle cx="1407.2" cy="505" r="1.4"/>
<circle cx="1413.9" cy="517.9" r="1.9"/>
<circle cx="1399.9" cy="561.2" r="1.3"/>
<circle cx="1425" cy="345.3" r="2"/>
<circle cx="1402.9" cy="573.9" r="1.2"/>
<circle cx="1412.1" cy="493" r="1.7"/>
<circle cx="1414.5" cy="530.4" r="1.2"/>
<circle cx="1401.1" cy="565.2" r="2.4"/>
<circle cx="1415.8" cy="505.5" r="2.3"/>
<circle cx="1433.7" cy="342.5" r="1.5"/>
<circle cx="1414.7" cy="513.9" r="2"/>
<circle cx="1418.1" cy="410" r="1.5"/>
<circle cx="1438.6" cy="344.3" r="1.8"/>
<circle cx="1407" cy="498.5" r="1.9"/>
<circle cx="1427.3" cy="332.6" r="1.4"/>
<circle cx="1425.1" cy="393.8" r="1.8"/>
<circle cx="1414.4" cy="451.8" r="1.4"/>
<circle cx="1420" cy="436.5" r="1.4"/>
<circle cx="1435.4" cy="350" r="2"/>
<circle cx="1432.7" cy="356.6" r="1.4"/>
<circle cx="1417.4" cy="513.7" r="1.8"/>
<circle cx="1411.7" cy="460.2" r="1.5"/>
<circle cx="1427.9" cy="331.9" r="1.5"/>
<circle cx="1403.8" cy="554.8" r="2.4"/>
<circle cx="1418.1" cy="498.4" r="1.2"/>
<circle cx="1421.8" cy="381.4" r="2.1"/>
<circle cx="1432.2" cy="411.9" r="2.1"/>
<circle cx="1418.1" cy="424.7" r="2.2"/>
<circle cx="1438.7" cy="341.9" r="1.4"/>
<circle cx="1421.3" cy="407.5" r="1.7"/>
<circle cx="1432.1" cy="425.4" r="1.3"/>
<circle cx="1407" cy="570.2" r="2.1"/>
<circle cx="1394" cy="564.5" r="1.9"/>
<circle cx="1416.7" cy="468.6" r="2.1"/>
<circle cx="1423.1" cy="382.3" r="1.4"/>
<circle cx="1416" cy="431.7" r="2.3"/>
<circle cx="1434.4" cy="399.6" r="2.1"/>
<path d="M1267 322 L1307.5 579 L1378 579 L1415.5 322" fill="none" stroke="#000" stroke-width="3.6"  stroke-linejoin="round" stroke-linecap="round"/>
<path d="M1424 308.8V323M1430.6 299.1V323M1436.9 293V323M1443.1 289.5V323M1449.6 287.6V323M1456 287V323M1462.7 287.1V323M1468.9 287.2V323M1475.1 287.2V323M1481.7 287.3V323M1488.1 287.4V323M1494.6 287.5V323M1501.2 287.6V323M1507.8 287.6V323M1514.3 287.7V323M1520.3 287.8V323M1526.3 287.9V323M1532.9 287.9V323M1539.3 288.2V323M1545.9 289.1V323M1552.3 290.5V323M1558.8 292.5V323M1564.9 294.9V323M1571 297.9V323M1577.2 301.4V323M1583.4 305.2V323M1590 309.5V323M1596.7 313.7V323M1603.4 317.7V323" stroke="#000" stroke-width="2" fill="none"/>
<path d="M1416 323 L1420.1 316.3 L1422.3 311.9 L1424.5 307.9 L1426.7 304.3 L1429 301 L1431.4 298.1 L1433.9 295.6 L1436.4 293.3 L1439.1 291.5 L1442 289.9 L1445 288.7 L1448.1 287.8 L1451.5 287.3 L1455 287 L1537 288 L1544.2 288.8 L1551 290.1 L1557.4 291.9 L1563.4 294.2 L1569 296.9 L1574.4 299.7 L1579.6 302.8 L1584.6 306 L1589.5 309.2 L1594.4 312.3 L1599.2 315.3 L1604 318 L1608.9 320.5 L1614 322.5" fill="none" stroke="#000" stroke-width="3.6"  stroke-linejoin="round" stroke-linecap="round"/>
<path d="M1416 322.3 L1421 322 L1426 322 L1431 322.3 L1436 321.5 L1441 322 L1446 322.6 L1451 321.7 L1456 322.2 L1461 321.8 L1466 322 L1471 322.5 L1476 322.5 L1481 321.7 L1486 322.1 L1491 321.8 L1496 322.3 L1501 321.6 L1506 321.7 L1511 321.6 L1516 322.4 L1521 321.8 L1526 321.5 L1531 322 L1536 321.7 L1541 321.9 L1546 321.8 L1551 322.2 L1556 322.5 L1561 321.5 L1566 322.3 L1571 321.5 L1576 322.1 L1581 321.4 L1586 322.5 L1591 322.5 L1596 321.9 L1601 322 L1606 321.5 L1611 321.8 L1616 322 L1616 324.5 L1613.2 325.5 L1610.5 326.3 L1607.6 327.1 L1605 327.8 L1601.6 327.7 L1599.2 325.8 L1595.6 324.3 L1591.9 323.8 L1589.6 327.6 L1587.1 323.8 L1583.9 327.3 L1580.9 323.8 L1577.8 324.5 L1574.9 325 L1571.3 327.6 L1568.9 326.7 L1566 328.7 L1563.7 323.8 L1561.7 323.8 L1558.9 324.6 L1555.8 325.2 L1553.5 326.8 L1550.8 328.9 L1548.2 327.1 L1544.5 327.8 L1541.5 325.1 L1537.9 323.8 L1534.3 323.8 L1531.2 327.7 L1528.1 328.9 L1524.2 326.1 L1520.2 324.1 L1517.4 323.8 L1513.6 328 L1511.5 328.3 L1508.5 323.8 L1506.2 326.4 L1504.2 325.5 L1500.6 324.4 L1497.7 326.5 L1494 328.9 L1491.9 329.1 L1488.4 323.8 L1485.3 323.8 L1481.8 324.1 L1478 326.5 L1475.3 326.8 L1472.3 327.2 L1469.6 327.4 L1466.3 323.8 L1463.1 324.1 L1460.7 325.9 L1457.9 327.8 L1455.2 328.1 L1451.4 329.1 L1448.4 326.8 L1444.4 324.3 L1440.9 326.6 L1437.3 326.3 L1434.3 328.4 L1431.9 327.5 L1429.8 327.5 L1427.6 325.1 L1425.4 323.8 L1421.6 325.8 L1418.4 328.5 L1416 324Z"/>
<path d="M1610 323.5L1762 323.5" stroke="#000" stroke-width="3" fill="none" />
<path d="M1625.6 323l-1.1 -5.8M1626.5 323l-1.3 -6.5M1628.4 323l2 -6.6M1628.7 323l0.6 -6M1630.8 323l-6.5 -7.8M1625.2 323l-6.4 -7.5M1626.2 323l4.6 -4.8M1629.5 323l2.3 -6.9M1625.3 323l2.9 -8.1" stroke="#000" stroke-width="1.8" fill="none" stroke-linecap="round"/>
<ellipse cx="1628" cy="321" rx="5.4" ry="3.8"/>
<path d="M1652.8 323l1 -10M1652.6 323l-1 -10.2M1653.7 323l-0.2 -6.9M1653.1 323l5.1 -9.6M1651.8 323l-3 -7.5M1656.3 323l1.7 -9.2M1653.3 323l0.4 -8.5M1653.8 323l-1.2 -7.7M1651.4 323l-3.4 -6.8" stroke="#000" stroke-width="1.8" fill="none" stroke-linecap="round"/>
<ellipse cx="1654" cy="321" rx="5.4" ry="3.8"/>
<path d="M1683 323l5.9 -6.7M1679.4 323l4.6 -4.9M1684.9 323l3 -9.4M1680.7 323l0.4 -6.5M1683.2 323l-2.8 -4.8M1683.4 323l1.4 -7.5M1682.4 323l-5.4 -4.4M1679.1 323l-2.8 -4.9M1684.5 323l-3 -6.8" stroke="#000" stroke-width="1.8" fill="none" stroke-linecap="round"/>
<ellipse cx="1682" cy="321" rx="5.4" ry="3.8"/>
<path d="M1708.7 323l-6.3 -4.3M1711.3 323l-3.8 -8.3M1709 323l4.4 -8.4M1709 323l4.3 -3.8M1708.6 323l4.8 -4M1710.5 323l8 -6.5M1711.4 323l-4 -9.9M1708.8 323l-0.4 -7.7M1713.2 323l-6.6 -4.6" stroke="#000" stroke-width="1.8" fill="none" stroke-linecap="round"/>
<ellipse cx="1711" cy="321" rx="5.4" ry="3.8"/>
<path d="M1738.4 323l-3.7 -4.2M1743.7 323l5.8 -4.6M1742.6 323l-1.1 -9M1739.8 323l-3.7 -8.1M1743.9 323l-6.6 -6.1M1742.2 323l5.7 -4M1740.8 323l-4.9 -6.3M1741.2 323l7.1 -5.4M1739 323l-6 -8.4" stroke="#000" stroke-width="1.8" fill="none" stroke-linecap="round"/>
<ellipse cx="1741" cy="321" rx="5.4" ry="3.8"/>
<path d="M1608.8 328.7l1.9 -1.6M1465.2 330.8l2.3 -0.9M1529.8 325.9l2.2 2.6M1432.5 331.7l3.9 0.6M1519.5 329.8l-2.4 3.6M1616.7 326.8l-1.5 1.5M1608.1 329.4l-1.1 -2.2M1569.3 325.6l-0.6 3.7M1584.2 326l-1 5M1584.2 325.5l3 4.3M1425.1 325.1l3.6 3.2M1462.9 326.2l-2.7 1M1582.5 327.1l3.6 3.7M1603 330.1l3.2 4.4M1507 326.4l-1 3.4M1485.9 329.4l2.3 1.9M1467.6 326.8l-5.4 2.5M1479.7 330.8l-2.9 -4.2M1512 328.2l1 4.9M1462.8 326.1l-3.9 4.2M1435.6 332.9l3.6 -2.9M1469.5 329.4l-2.2 -0.4M1558.8 325.5l0.3 2.8M1609.8 327.9l5.1 2.8M1523.2 328.3l-0.4 5.3M1437.2 331l4.1 -0.6M1442 331.3l2.5 -4.1M1521.7 326.6l1.3 4.4M1423.9 331.4l0.2 2M1469 327.3l0.8 2.5M1461 327.6l-0 3.8M1597 329l3.3 3.4M1511.6 332.6l4.1 2.8M1553.9 326.3l-5.6 1.2M1639.3 333.6l5.5 0.2M1433.7 325.5l1.9 1.8M1499.7 337.6l5.7 1M1471.7 329.1l-4.8 -1.3M1592.5 326.1l-1.8 4.2M1482.5 332.7l3.4 5.5M1512.4 326l-5.5 -0.5M1551.5 328.9l0.1 3.9M1570 325.4l0.4 2.5M1453.3 326.1l5.1 -0.2M1429.9 327l2.5 0.7M1600 329.1l-4 2.3M1425.3 327.9l-0.9 6.1M1492.6 328.1l4.1 2.8M1580.1 327.9l3 0.9M1454.9 329.3l1.6 -3.1M1622.2 327.3l-2.8 -1.5M1563.7 327.4l-3.9 2.6M1610.4 328.6l-1.1 4.4M1576.2 330.4l-2.8 -0.5M1497.2 327.5l-3.2 -1.1M1517.6 326.6l-0.5 2.4M1474.1 330.9l-1.5 6.1M1442.2 327.9l-5.7 0.4M1615.2 327l1.8 -1.4M1579.4 331l3.3 0.1M1562.9 326.6l0.4 5.4M1582.5 325l-1.4 3.2M1590.7 326.1l2 3M1490.7 327l-4 0.1M1512.1 326.3l3.2 0.1M1628.3 326.8l0.1 3.8M1455 329.1l1.7 -1.4M1606.6 328.5l0.8 3.6M1570.5 330.7l-5.1 -3.8M1621.1 325.5l-0.9 5.3M1634.7 326l4.2 0.1M1610.6 326.3l0.2 4.1M1582.3 326.3l2 4.5M1585.3 329.4l1.9 4.3M1519.5 328.5l2.4 5.9M1550.9 326.3l-1.7 5.7M1503.5 327.7l-0.9 5M1498.3 326.5l2.6 1.8M1577.2 326.9l2.1 4.9M1427.3 336.2l3 -5.4M1535.1 328.4l-2.4 3.5M1629.6 335l-5.5 0M1601.7 326.7l-2.7 5.3M1483.7 325.5l-1 3.9M1450.9 331.5l5.7 1.3M1477.4 326.4l-0.6 6.3M1594.1 331.5l-2.4 1.5M1576.7 325.5l0 2.3M1466.3 325.3l-3 3.9M1501.8 326.1l3.1 0.8M1613 325.6l2.4 0.4M1562 329.4l-3.2 -0.6M1637.4 333.2l-2.1 -6.1M1631.6 332.7l-1.7 -5.4M1431.6 327.9l-3.5 -2.1M1635.9 327.8l2.4 3M1545.5 327.4l3.8 1.9M1621.3 327l3.9 -0.7M1626.2 325.7l-1.8 3.1M1605.1 325.8l2.7 2M1471.9 333l-1.2 -2.9M1617.9 326.7l1.7 4.1M1571.3 328.9l0.3 -2.3M1585.4 328.4l-6.1 -0.9M1428.8 325.5l2.2 1M1554.5 332.8l-0.2 2.3M1604.3 331.1l2.4 3M1464.9 329.8l-2.2 5M1540.4 325.8l-0.7 4.9M1501.4 325.7l-2.2 0.2M1585.5 326.2l-5.3 2.4M1542.6 328.7l-2.9 4.4M1621.3 328.1l-1.8 1.8M1637.7 327.2l-1.8 2M1466.8 325.1l2 0.7M1549.8 334.5l5.9 -2.3M1561.6 326.3l1.3 3.5M1602.8 326.3l-5.1 1.1M1589.9 326.6l-3.8 1.8M1534.7 330.5l3.4 4.9M1439.5 327.1l-3.3 2.6M1423.8 325.9l0.6 5.6M1450.6 325.9l-4.2 2.3M1491.4 325.4l1.2 1.9M1545.5 327.8l-4.8 2.4M1509.9 327.5l-1 2.2M1557.8 327.5l-1.5 6M1444.3 325.5l5 1.3M1504.6 325.8l-0.3 3.3M1489.5 326.6l-2.8 5.8M1501.5 330.4l-4.9 -1.1M1574.4 330.8l0.8 3.8M1570.9 329.7l-0.2 -2.8M1452 326.9l0.7 3M1549.5 329.2l2.3 -0.4M1447.1 330.4l-3.2 -4.7M1440.2 327l-0.3 2.6M1449.4 332.8l-2.7 -2.3M1628.3 329l0.6 3.4M1423.2 327.4l2 -1.5M1445.1 329.6l3.3 1.5M1505.3 329.9l0.2 -3.5M1533.5 330.4l0.5 3.3M1423.9 325.2l-6.5 0.5M1450.8 325.9l2.4 1.9M1481.4 329l2.5 5.3M1448.8 327.9l2.1 -0.4M1560.6 325.3l3.4 4.8M1579.4 328.1l-5.7 2.1M1556.5 331.1l-1.6 -2.7M1477.1 330.3l-6.4 0.3M1602.5 331.9l2.8 2.4M1611.3 326.3l-0.2 2.8M1545.3 328.7l0.8 2.9M1448.4 329.5l-4.3 2.7M1583.5 331.2l-3.6 1.5M1521.6 334.1l-2.5 -3.5M1470.1 330.8l-0.7 2.8M1504.9 327.7l-2 1.3M1481.1 327.4l0.9 2.4M1608.5 327.9l-3.6 2.4M1527.4 325.2l-0.3 3.7M1474.6 325.3l3 3.5M1588.4 325.1l2.2 3.1M1598.9 328.6l2.1 5.2M1521.4 328.7l0.7 4.1M1516.4 325.7l3.5 3.2M1435.3 329.1l2.1 -1.5" stroke="#000" stroke-width="1.8" fill="none" stroke-linecap="round"/>
<circle cx="1621.4" cy="344.6" r="1.6"/>
<circle cx="1521.1" cy="343.6" r="1.4"/>
<circle cx="1572.6" cy="352.8" r="2.1"/>
<circle cx="1531.2" cy="339.5" r="1.8"/>
<circle cx="1538.3" cy="338.1" r="1.7"/>
<circle cx="1469.4" cy="340.9" r="2"/>
<circle cx="1472.6" cy="337.7" r="1.7"/>
<circle cx="1484" cy="350.8" r="1.7"/>
<circle cx="1530" cy="341.6" r="2.1"/>
<circle cx="1459.2" cy="339.5" r="2"/>
<circle cx="1445.2" cy="338.8" r="1.8"/>
<circle cx="1482" cy="340.3" r="2.2"/>
<circle cx="1428" cy="347" r="1.3"/>
<circle cx="1562.2" cy="346.9" r="2.2"/>
<circle cx="1571.6" cy="343" r="1.5"/>
<circle cx="1590.7" cy="350.9" r="2"/>
<circle cx="1588.4" cy="348" r="1.8"/>
<circle cx="1470.6" cy="348.1" r="1.8"/>
<circle cx="1623.9" cy="341.5" r="1.5"/>
<circle cx="1518.3" cy="336.1" r="1.7"/>
<circle cx="1543.4" cy="336.2" r="1.6"/>
<circle cx="1526.1" cy="334.4" r="1.3"/>
<circle cx="1539.9" cy="341" r="2.2"/>
<circle cx="1620.8" cy="351.7" r="1.4"/>
<circle cx="1505.5" cy="344.2" r="2.2"/>
<circle cx="1575.5" cy="340.3" r="2.1"/>
<path d="M1676.3 325.5l-2.4 1.6M1746.7 327.8l1.8 1.8M1698.7 326.5l-0.1 4.1M1667.2 328.5l3.1 -0.5M1723.7 326.6l-2.3 -0.9M1689.8 325.9l-1.2 5.2M1642 328.1l-0.6 2.8M1661.4 326.8l2.6 -0.8M1721.3 327.1l-4.5 4.1M1740.8 329.9l6 -0.1M1747.3 326.1l-1.1 2.5M1732.1 325.9l-5.6 2.9M1684.2 327.7l-1.7 3.1M1692.2 326l-3.2 3.2M1663.4 326.6l4.1 2.3M1653.7 331.3l-3.6 1.5M1688.2 327l2.8 1.1M1715.1 325.1l-1.6 3.3M1658.2 325.8l-1.7 4.8M1658.3 326.6l-2.5 5.4M1737.3 326.2l-2.3 2.8M1736.9 327.9l0.5 3.8M1640.3 331.9l-5.8 2.2M1716.9 325.2l-1.2 4.9M1722.7 327.5l2.1 -0.5M1684.4 327.8l-2.3 5.3M1732.1 327.5l0.8 3.2M1736.2 327.4l-3.8 2.6M1643.1 325.9l5.5 1.1M1659.3 326.8l-3.1 -0.8M1709.3 327.4l3.9 -1.7M1756.5 325.5l-0.1 5M1727.1 327.9l-3.2 2.1M1674.1 330.6l-0.8 3.7M1663.8 325.5l3.6 1.1M1730.1 325.6l1.8 2M1676 328.2l2.5 4.8M1693.6 326.5l5.1 2.6M1690.3 328.2l-1.3 1.7M1682.9 326.6l3.6 1.7M1720.2 326.2l3.3 1M1705.4 328.2l5.8 -0.2M1691.9 330.4l3.2 -3.9M1742.9 328.3l1.9 5.7M1733.4 330.5l1.4 -3.1M1715.9 325.5l-2.4 1.3M1725 327.3l-2.1 -0.8M1721.8 327.1l-3.9 2.3M1673.3 325.1l-4.4 1.9M1642.6 325.7l-2.8 2.2M1653.1 328.3l-1.9 1.9M1714.8 332.7l-1 3.9M1650.9 329.3l1.5 1.8M1661.4 328l1.7 5.2M1683.3 325.8l-4 2.1M1704.3 332.5l0.5 2.5M1744.6 325.6l-2.7 1.1M1671.7 328.9l-2.4 0.5M1701.4 325.7l-2.1 2.6M1668.8 325.8l5.2 3.5M1656.8 328.7l1.3 1.8M1739.2 325.9l0.6 2.6M1710.2 325.7l-2.2 1.7M1703.9 328.9l-4.5 2.1M1685.3 329.2l-2.6 4.3M1643.8 327.8l3 3.8M1661.3 326.3l-1.3 2M1682.8 325.3l4.2 0.8M1694.2 331.3l3.6 -4.5M1682 331.5l2.8 0.8M1680.1 327.1l-5.7 1.8M1645.1 331.1l-0.4 2.1M1691.1 327.5l-5.5 -0.4M1669.8 327.4l1.1 1.9M1724.2 327.2l0.3 4.5M1673.3 326.3l1.1 2.4M1731.5 325.1l-2.9 2.4M1712.8 327.2l5.4 -0M1684.6 325.7l1.2 2M1681.5 325.4l-0.2 4.9M1753.8 327.1l1.7 5.8M1693.3 333.1l0.4 -3.2M1696.3 330l0.1 5.6M1748.6 326.3l3.1 2M1645.8 329.7l-2.1 1.2M1724.8 327.1l1.4 3.6M1715.6 326.3l-5.2 0.7M1737.9 330.9l1.6 -1.4M1677.1 325.3l-1.2 3.7M1718.4 325.6l-4.4 2.4M1724.5 329l-4.3 2.6M1717.9 332l0.7 -2.1" stroke="#000" stroke-width="1.8" fill="none" stroke-linecap="round"/>
<circle cx="1727.1" cy="339" r="1.2"/>
<circle cx="1689.5" cy="340.3" r="2.1"/>
<circle cx="1681.3" cy="338.8" r="2.1"/>
<circle cx="1677.5" cy="339.9" r="2.2"/>
<circle cx="1661.7" cy="332.1" r="2.2"/>
<circle cx="1683.1" cy="338" r="1.9"/>
<circle cx="1699.6" cy="338.2" r="1.7"/>
<circle cx="1756.4" cy="331.7" r="1.3"/>
<circle cx="1685.2" cy="333" r="1.6"/>
<circle cx="1691.6" cy="340.5" r="1.2"/>
<path d="M636.5 272L647 272" stroke="#000" stroke-width="2.2" fill="none" />
<path d="M641.7 267L641.7 277.5" stroke="#000" stroke-width="2.2" fill="none" />
<path d="M660.5 263.5L660.5 281" stroke="#000" stroke-width="2.8" fill="none" stroke-linecap="round"/>
<path d="M672 262L676 255.5" stroke="#000" stroke-width="2.4" fill="none" stroke-linecap="round"/>
<path d="M666.6 272L675.4 272" stroke="#000" stroke-width="2.4" fill="none" />
<text transform="translate(680.8 281.2) scale(0.01502 0.01276)" x="0" y="0" font-family="'Liberation Sans', sans-serif" font-size="2048">0</text>
<path d="M700.5 262L704.5 255.5" stroke="#000" stroke-width="2.2" fill="none" stroke-linecap="round"/>
<path d="M705.5 262L709.5 255.5" stroke="#000" stroke-width="2.2" fill="none" stroke-linecap="round"/>
<path d="M634.4 288L657 288" stroke="#000" stroke-width="1.6" fill="none" />
<path d="M666 288L686.4 288" stroke="#000" stroke-width="1.6" fill="none" />
<path d="M644 298L644 317" stroke="#000" stroke-width="2.2" fill="none" />
<path d="M826.3 298L826.3 317.4" stroke="#000" stroke-width="2.2" fill="none" />
<path d="M645.4 306.4L657.4 302.2L657.4 310.6Z"/>
<path d="M656 306.4L671.5 306.4" stroke="#000" stroke-width="1.8" fill="none" />
<path d="M679 307L707.5 306" stroke="#000" stroke-width="1.4" fill="none" />
<text transform="translate(715.3 316.4) scale(0.01401 0.01379)" x="0" y="0" font-family="'Liberation Sans', sans-serif" font-size="2048">5</text>
<path d="M735.5 302.8L742 302.8" stroke="#000" stroke-width="2.6" fill="none" />
<text transform="translate(741.5 316.4) scale(0.01655 0.01359)" x="0" y="0" font-family="'Liberation Sans', sans-serif" font-size="2048">0</text>
<path d="M764 297L768.5 286" stroke="#000" stroke-width="2.8" fill="none" stroke-linecap="round"/>
<path d="M772 306.4L799 306.4" stroke="#000" stroke-width="2.8" fill="none" />
<path d="M806 306.4L816 306.4" stroke="#000" stroke-width="2" fill="none" />
<path d="M825.6 306.4L814.6 302.6L814.6 310.2Z"/>
<circle cx="742" cy="289.5" r="2.6"/><circle cx="700" cy="297" r="1.3"/>
<path d="M646 325.5L672 326" stroke="#000" stroke-width="1.5" fill="none" />
<path d="M682 325.5L704.7 325.5" stroke="#000" stroke-width="1.5" fill="none" />
<path d="M690 322.5L693.5 329" stroke="#000" stroke-width="1.5" fill="none" />
<path d="M688 322.5L696 322" stroke="#000" stroke-width="1.3" fill="none" />
<path d="M654 339.5L663 339.5" stroke="#000" stroke-width="2" fill="none" />
<path d="M658.5 334.5L658.5 344.5" stroke="#000" stroke-width="2" fill="none" />
<path d="M654 350L663 350" stroke="#000" stroke-width="2" fill="none" />
<text transform="translate(668.9 350.7) scale(0.01430 0.01379)" x="0" y="0" font-family="'Liberation Sans', sans-serif" font-size="2048">0</text>
<path d="M688.5 340.5L697 340.5" stroke="#000" stroke-width="2.6" fill="none" />
<text transform="translate(699.8 350.7) scale(0.01502 0.01379)" x="0" y="0" font-family="'Liberation Sans', sans-serif" font-size="2048">0</text>
<path d="M825.5 244.4L825.5 265.5" stroke="#000" stroke-width="2.6" fill="none" />
<path d="M825.6 275L825.6 293" stroke="#000" stroke-width="2.2" fill="none" />
<path d="M825.8 299L825.8 318" stroke="#000" stroke-width="2" fill="none" />
<path d="M826.8 260.8L839.3 256.6L839.3 265Z"/>
<path d="M838 260.8L857.6 261.4" stroke="#000" stroke-width="1.8" fill="none" />
<path d="M865.8 260.2L894.5 259.6" stroke="#000" stroke-width="2" fill="none" />
<path d="M902.7 260L934.2 259" stroke="#000" stroke-width="2" fill="none" />
<path d="M965.6 249.5L965.6 267.4" stroke="#000" stroke-width="2.8" fill="none" stroke-linecap="round"/>
<text transform="translate(970.6 268) scale(0.01461 0.01276)" x="0" y="0" font-family="'Liberation Sans', sans-serif" font-size="2048">0</text>
<path d="M994.5 248.5L994.5 268.5" stroke="#000" stroke-width="2.4" fill="none" />
<path d="M990.2 255.5L999.1 255.5" stroke="#000" stroke-width="2.2" fill="none" />
<text transform="translate(999.2 270.1) scale(0.01479 0.01159)" x="0" y="0" font-family="'Liberation Sans', sans-serif" font-size="2048">o</text>
<path d="M1022.4 250.8L1022.4 268" stroke="#000" stroke-width="2.8" fill="none" stroke-linecap="round"/>
<text transform="translate(1026.9 270) scale(0.01524 0.01366)" x="0" y="0" font-family="'Liberation Sans', sans-serif" font-size="2048">6</text>
<text transform="translate(1050.1 269.6) scale(0.01369 0.01256)" x="0" y="0" font-family="'Liberation Sans', sans-serif" font-size="2048">F</text>
<text transform="translate(1067.6 269.8) scale(0.01374 0.01203)" x="0" y="0" font-family="'Liberation Sans', sans-serif" font-size="2048">e</text>
<text transform="translate(1082.3 269.4) scale(0.01446 0.01168)" x="0" y="0" font-family="'Liberation Sans', sans-serif" font-size="2048">e</text>
<path d="M1105.5 250L1105.5 268.5" stroke="#000" stroke-width="2.4" fill="none" />
<path d="M1101.5 256.5L1109.5 256.5" stroke="#000" stroke-width="2.2" fill="none" />
<path d="M1131.9 257.5L1166.1 257.5" stroke="#000" stroke-width="2.2" fill="none" />
<path d="M1160 257.5L1152 254.5L1152 260.5Z"/>
<path d="M1175.8 258.4L1209.2 258.4" stroke="#000" stroke-width="2.4" fill="none" />
<path d="M1218 258L1252 257.5" stroke="#000" stroke-width="2.2" fill="none" />
<path d="M1264 257.5L1252 252.5L1252 262.5Z"/>
<path d="M1267 238.2L1267 258.4" stroke="#000" stroke-width="2.4" fill="none" />
<path d="M1258.4 238.2L1269 238.2" stroke="#000" stroke-width="1.8" fill="none" />
<path d="M1266.5 262L1266.5 283.9" stroke="#000" stroke-width="2.2" fill="none" />
<path d="M1266.3 289.2L1266.3 317.3" stroke="#000" stroke-width="2.2" fill="none" />
<path d="M1268 301.5L1278.6 297.5L1278.6 305.5Z"/>
<path d="M1278 301.5L1288.3 301.5" stroke="#000" stroke-width="1.8" fill="none" />
<path d="M1295.3 301.5L1314.7 301.5" stroke="#000" stroke-width="2.6" fill="none" />
<text transform="translate(1318.2 311.1) scale(0.01793 0.01604)" x="0" y="0" font-family="'Liberation Sans', sans-serif" font-size="2048">4</text>
<path d="M1338.8 288.5L1343.5 280.6" stroke="#000" stroke-width="2.8" fill="none" stroke-linecap="round"/>
<circle cx="1341.9" cy="300.6" r="1.7"/>
<text transform="translate(1345.8 311.7) scale(0.01706 0.01331)" x="0" y="0" font-family="'Liberation Sans', sans-serif" font-size="2048">0</text>
<path d="M1366 289L1371 281.4" stroke="#000" stroke-width="2.2" fill="none" stroke-linecap="round"/>
<path d="M1371.5 289L1376.5 281.4" stroke="#000" stroke-width="2.2" fill="none" stroke-linecap="round"/>
<path d="M1368.3 301.5L1383.2 301.5" stroke="#000" stroke-width="2.2" fill="none" />
<path d="M1395.5 301.5L1404 301.5" stroke="#000" stroke-width="1.8" fill="none" />
<path d="M1412.2 301.5L1403.2 298.1L1403.2 304.9Z"/>
<path d="M1413.1 288.3L1413.1 318.2" stroke="#000" stroke-width="2" fill="none" />
<text transform="translate(554.4 452.3) scale(0.01679 0.01366)" x="0" y="0" font-family="'Liberation Sans', sans-serif" font-size="2048">3</text>
<path d="M576 428.7L581 422" stroke="#000" stroke-width="2.8" fill="none" stroke-linecap="round"/>
<path d="M579 441L585.8 441" stroke="#000" stroke-width="2.6" fill="none" />
<text transform="translate(589.6 450) scale(0.01587 0.01262)" x="0" y="0" font-family="'Liberation Sans', sans-serif" font-size="2048">6</text>
<path d="M607.2 426L611 419.8" stroke="#000" stroke-width="2.2" fill="none" stroke-linecap="round"/>
<path d="M611.7 426L615.5 419.8" stroke="#000" stroke-width="2.2" fill="none" stroke-linecap="round"/>
<path d="M583.8 455.4L607 455.4" stroke="#000" stroke-width="2.2" fill="none" />
<path d="M616.6 432L629 432" stroke="#000" stroke-width="1.8" fill="none" />
<path d="M636 432L628 428.8L628 435.2Z"/>
<path d="M614.5 455.4L629 455.4" stroke="#000" stroke-width="1.8" fill="none" />
<path d="M639 455.4L630 452L630 458.8Z"/>
<path d="M660.3 422.8L660.3 439.6" stroke="#000" stroke-width="2.6" fill="none" stroke-linecap="round"/>
<text transform="translate(666.5 442.7) scale(0.01498 0.01455)" x="0" y="0" font-family="'Liberation Sans', sans-serif" font-size="2048">8</text>
<path d="M685.8 417.8L690.5 410.4" stroke="#000" stroke-width="2.2" fill="none" stroke-linecap="round"/>
<path d="M691.3 417.8L696 410.4" stroke="#000" stroke-width="2.2" fill="none" stroke-linecap="round"/>
<path d="M697.9 420.5L697.9 426.6" stroke="#000" stroke-width="1.8" fill="none" />
<path d="M697.9 431.5L697.9 447.2" stroke="#000" stroke-width="1.8" fill="none" />
<path d="M698.8 432.8L709.3 429L709.3 436.6Z"/>
<path d="M708 432.8L717.7 432.8" stroke="#000" stroke-width="1.8" fill="none" />
<path d="M699.5 479.3L711 475.3L711 483.3Z"/>
<path d="M710 479.3L719.8 479.3" stroke="#000" stroke-width="1.8" fill="none" />
<text transform="translate(723.9 488.9) scale(0.01393 0.01343)" x="0" y="0" font-family="'Liberation Sans', sans-serif" font-size="2048">2</text>
<path d="M741.9 464.3L746.8 459" stroke="#000" stroke-width="2.8" fill="none" stroke-linecap="round"/>
<path d="M743 478.6L747.8 478.6" stroke="#000" stroke-width="2.6" fill="none" />
<text transform="translate(748.2 488.1) scale(0.01587 0.01338)" x="0" y="0" font-family="'Liberation Sans', sans-serif" font-size="2048">6</text>
<path d="M767.2 465L773 458.2" stroke="#000" stroke-width="2.2" fill="none" stroke-linecap="round"/>
<path d="M773.2 465L779 458.2" stroke="#000" stroke-width="2.2" fill="none" stroke-linecap="round"/>
<path d="M769.7 479.3L779 479.3" stroke="#000" stroke-width="1.8" fill="none" />
<path d="M789.5 479.3L778 475.7L778 482.9Z"/>
<path d="M790.2 465.6L790.2 487.5" stroke="#000" stroke-width="2" fill="none" />
<path d="M790.4 496.4L790.4 519" stroke="#000" stroke-width="1.5" fill="none" />
<path d="M714.3 512.1L724.6 512.1" stroke="#000" stroke-width="2.4" fill="none" />
<text transform="translate(729.5 521.4) scale(0.01411 0.01295)" x="0" y="0" font-family="'Liberation Sans', sans-serif" font-size="2048">5</text>
<path d="M748 499.8L752 493.8" stroke="#000" stroke-width="2.8" fill="none" stroke-linecap="round"/>
<text transform="translate(757.3 520.7) scale(0.01439 0.01276)" x="0" y="0" font-family="'Liberation Sans', sans-serif" font-size="2048">6</text>
<path d="M772.6 498.4L777.5 493" stroke="#000" stroke-width="2.2" fill="none" stroke-linecap="round"/>
<path d="M777.2 498.4L782.1 493" stroke="#000" stroke-width="2.2" fill="none" stroke-linecap="round"/>
<path d="M1306.7 481.1L1306.7 508" stroke="#000" stroke-width="2" fill="none" />
<path d="M1306.9 521L1306.9 544.4" stroke="#000" stroke-width="1.5" fill="none" />
<path d="M1307.2 549.7L1307.2 577" stroke="#000" stroke-width="1.5" fill="none" />
<path d="M1377.9 482.3L1377.9 510.4" stroke="#000" stroke-width="2" fill="none" />
<path d="M1377.9 519.2L1377.9 546.1" stroke="#000" stroke-width="1.5" fill="none" />
<path d="M1377.9 560.2L1377.9 577" stroke="#000" stroke-width="1.5" fill="none" />
<path d="M1308.1 495.2L1318.6 491.4L1318.6 499Z"/>
<path d="M1318 495.2L1324.5 495.2" stroke="#000" stroke-width="1.8" fill="none" />
<text transform="translate(1331.7 503.9) scale(0.01576 0.01434)" x="0" y="0" font-family="'Liberation Sans', sans-serif" font-size="2048">2</text>
<path d="M1354.6 481L1360 476" stroke="#000" stroke-width="3" fill="none" stroke-linecap="round"/>
<path d="M1360.3 494.9L1367 494.9" stroke="#000" stroke-width="1.8" fill="none" />
<path d="M1376.7 494.9L1365.7 491.1L1365.7 498.7Z"/>
<path d="M1382 579.5L1416 579.5" stroke="#000" stroke-width="1.4" fill="none" />
<path d="M1423 579.5L1448.8 579.5" stroke="#000" stroke-width="2.6" fill="none" />
<path d="M1419.5 563.1L1430 563.1" stroke="#000" stroke-width="2.4" fill="none" />
<text transform="translate(1434.9 573.1) scale(0.01504 0.01334)" x="0" y="0" font-family="'Liberation Sans', sans-serif" font-size="2048">7</text>
<path d="M1457.7 549L1463.2 544" stroke="#000" stroke-width="3" fill="none" stroke-linecap="round"/>
<path d="M1454 564.3L1462.8 564.3" stroke="#000" stroke-width="2.4" fill="none" />
<path d="M1454.6 577.2L1458.7 572.5" stroke="#000" stroke-width="1.4" fill="none" />
<text transform="translate(1465.6 575.7) scale(0.01614 0.01455)" x="0" y="0" font-family="'Liberation Sans', sans-serif" font-size="2048">0</text>
<path d="M1485 550L1491.5 543.6" stroke="#000" stroke-width="2.2" fill="none" stroke-linecap="round"/>
<path d="M1491 550L1497.5 543.6" stroke="#000" stroke-width="2.2" fill="none" stroke-linecap="round"/>
<circle cx="1411.8" cy="559" r="1.8"/>
</g>
<text x="205.4" y="419" font-family="'Liberation Mono', monospace" font-size="44" font-weight="bold" font-style="normal" text-anchor="start" textLength="355.5" lengthAdjust="spacing" >Fire Trench.</text>
<text x="1427.8" y="462" font-family="'Liberation Mono', monospace" font-size="44" font-weight="bold" font-style="normal" text-anchor="start" textLength="383" lengthAdjust="spacing" >Communicating</text>
<text x="1487.2" y="513.6" font-family="'Liberation Mono', monospace" font-size="44" font-weight="bold" font-style="normal" text-anchor="start" textLength="204.4" lengthAdjust="spacing" >Trench.</text>
<text x="883.4" y="599.2" font-family="'Liberation Sans', sans-serif" font-size="48" font-weight="normal" font-style="normal" text-anchor="start" textLength="188.9" lengthAdjust="spacing" stroke="#fff" stroke-width="0.9" >Section</text>
<text x="1093.6" y="598.8" font-family="'Liberation Serif', serif" font-size="64" font-weight="normal" font-style="italic" text-anchor="start" textLength="68.8" lengthAdjust="spacing" stroke="#000" stroke-width="0.9" stroke-linejoin="round" >aa</text>
<g id="plan">
<path d="M171 693 L261.6 693 L261.6 842 L371.7 842 L371.7 693 L593 693 L593.5 841 L707.6 841 L707.6 692 L929 691" fill="none" stroke="#000" stroke-width="3.5" stroke-linejoin="miter" stroke-linecap="butt"/>
<path d="M929 691 L929 838.7 L1042 838.7 L1042 690 L1262.5 689.4 L1262.5 837 L1372.6 837 L1372.6 687.7 L1595.7 687.7 L1595.7 836 L1704.4 836 L1704.4 685.5 L1802.5 685.5" fill="none" stroke="#000" stroke-width="3" stroke-linejoin="miter" stroke-linecap="butt"/>
<path d="M1704 686.2L1803 686.6" stroke="#000" stroke-width="5.2" fill="none" />
<path d="M171 721.5L260 721.5" stroke="#000" stroke-width="3" fill="none" />
<path d="M371.7 721.5L593 721" stroke="#000" stroke-width="3" fill="none" />
<path d="M707.6 720L929 720" stroke="#000" stroke-width="3" fill="none" />
<path d="M1042 719L1262.5 718.4" stroke="#000" stroke-width="2.6" fill="none" />
<path d="M1372.6 716.7L1595.7 716.7" stroke="#000" stroke-width="2.6" fill="none" />
<path d="M1704.4 718L1802.5 718" stroke="#000" stroke-width="2.6" fill="none" />
<path d="M171 768 L225 768 L225 878" fill="none" stroke="#000" stroke-width="3.4" stroke-linejoin="miter" stroke-linecap="butt"/>
<path d="M409 880 L409 768 L556 768 L556 883" fill="none" stroke="#000" stroke-width="3.4" stroke-linejoin="miter" stroke-linecap="butt"/>
<path d="M603 876.5 L744.5 876.5 L744.5 767.6 L895 767.6 L895 875.6 L968.4 875.6" fill="none" stroke="#000" stroke-width="3.4" stroke-linejoin="miter" stroke-linecap="butt"/>
<path d="M1003.3 875.6 L1077.8 875.6 L1077.8 766.3 L1226.5 765.5 L1226.5 874.6 L1300 874.6" fill="none" stroke="#000" stroke-width="3" stroke-linejoin="miter" stroke-linecap="butt"/>
<path d="M1336.7 874.6 L1410.5 874.6 L1410.5 764.2 L1559.2 764.2 L1559.2 873.6 L1631.6 873.6" fill="none" stroke="#000" stroke-width="3" stroke-linejoin="miter" stroke-linecap="butt"/>
<path d="M1668.2 874.6 L1741 874.6 L1741 765.2 L1802.5 765.2" fill="none" stroke="#000" stroke-width="3" stroke-linejoin="miter" stroke-linecap="butt"/>
<path d="M224 878 L185 948 L171 949" fill="none" stroke="#000" stroke-width="2.8" stroke-dasharray="8 4" stroke-linecap="butt" stroke-linejoin="miter"/>
<path d="M171 981.6 L206.3 981.6 L263 880 L362.3 879.5 L424 981.6 L541 981.6 L603 876" fill="none" stroke="#000" stroke-width="2.7" stroke-dasharray="8 4" stroke-linecap="butt" stroke-linejoin="miter"/>
<path d="M409.7 879 L448 947.5 L518 947.5 L556 883" fill="none" stroke="#000" stroke-width="2.7" stroke-dasharray="8 4" stroke-linecap="butt" stroke-linejoin="miter"/>
<path d="M968.4 875.6 L968.4 989.8 L896.6 989.8" fill="none" stroke="#000" stroke-width="2.6" stroke-dasharray="8 4" stroke-linecap="butt" stroke-linejoin="miter"/>
<path d="M1004.3 875.6 L1004.3 989.8 L1300 989.8 L1300 874.6" fill="none" stroke="#000" stroke-width="2" stroke-dasharray="8 4" stroke-linecap="butt" stroke-linejoin="miter"/>
<path d="M1337.7 874.6 L1337.7 989 L1631.6 988.4 L1631.6 873.6" fill="none" stroke="#000" stroke-width="2.1" stroke-dasharray="8 4" stroke-linecap="butt" stroke-linejoin="miter"/>
<path d="M1669.2 874.6 L1669.2 987.4 L1799 987.4" fill="none" stroke="#000" stroke-width="2.7" stroke-dasharray="8 4" stroke-linecap="butt" stroke-linejoin="miter"/>
<path d="M893 1025 L1782 1021.6" fill="none" stroke="#000" stroke-width="2" stroke-dasharray="8 4" stroke-linecap="butt" stroke-linejoin="miter"/>
<path d="M1150.8 658.8L1150.8 1046" stroke="#000" stroke-width="2.8" fill="none" stroke-dasharray="36 5 9 5"/>
</g>
<text transform="translate(1138.5 651.4) scale(0.02460 0.01949)" x="0" y="0" font-family="'Liberation Serif', serif" font-size="2048" font-weight="normal" font-style="italic" stroke="#000" stroke-width="51.3">a</text>
<text transform="translate(1137.4 1071.6) scale(0.02596 0.01777)" x="0" y="0" font-family="'Liberation Serif', serif" font-size="2048" font-weight="normal" font-style="italic">a</text>
<text x="433" y="753.5" font-family="'Liberation Sans', sans-serif" font-size="37" font-weight="normal" font-style="normal" text-anchor="start" textLength="97.4" lengthAdjust="spacing" stroke="#fff" stroke-width="0.4" >Firing</text>
<text transform="translate(609.2 751.2) scale(0.01979 0.01766)" x="0" y="0" font-family="'Liberation Sans', sans-serif" font-size="2048">6</text>
<path d="M630.5 724L633.5 717.4" stroke="#000" stroke-width="2.6" fill="none" stroke-linecap="round"/>
<path d="M640.5 729.4L640.5 750" stroke="#000" stroke-width="2.4" fill="none" />
<path d="M635.9 736.5L645.4 736.5" stroke="#000" stroke-width="2.2" fill="none" />
<text transform="translate(646 751.4) scale(0.01406 0.01221)" x="0" y="0" font-family="'Liberation Sans', sans-serif" font-size="2048">o</text>
<text transform="translate(666.1 751.3) scale(0.01769 0.01531)" x="0" y="0" font-family="'Liberation Sans', sans-serif" font-size="2048">8</text>
<path d="M688.5 726L694.5 719" stroke="#000" stroke-width="2.6" fill="none" stroke-linecap="round"/>
<text x="745.2" y="754" font-family="'Liberation Sans', sans-serif" font-size="37" font-weight="normal" font-style="normal" text-anchor="start" textLength="131.6" lengthAdjust="spacing" stroke="#fff" stroke-width="0.4" >Trench</text>
<text x="181.1" y="1019" font-family="'Liberation Sans', sans-serif" font-size="37" font-weight="normal" font-style="normal" text-anchor="start" textLength="269.3" lengthAdjust="spacing" stroke="#fff" stroke-width="0.4" >Communication</text>
<text x="483" y="1019" font-family="'Liberation Sans', sans-serif" font-size="37" font-weight="normal" font-style="normal" text-anchor="start" textLength="122.8" lengthAdjust="spacing" stroke="#fff" stroke-width="0.4" >Trench</text>
<text x="1188.9" y="1019.5" font-family="'Liberation Sans', sans-serif" font-size="37" font-weight="normal" font-style="normal" text-anchor="start" textLength="265.5" lengthAdjust="spacing" stroke="#fff" stroke-width="1.7" >Communication</text>
<text x="1482.2" y="1019.5" font-family="'Liberation Sans', sans-serif" font-size="37" font-weight="normal" font-style="normal" text-anchor="start" textLength="126.2" lengthAdjust="spacing" stroke="#fff" stroke-width="1.7" >Trench</text>
<path d="M1418 659L1418 676.5" stroke="#000" stroke-width="2.4" fill="none" />
<text x="1424.6" y="676.8" font-family="'Liberation Sans', sans-serif" font-size="28" font-weight="normal" font-style="normal" text-anchor="start" textLength="15.5" lengthAdjust="spacing" >2</text>
<text x="1452.3" y="677" font-family="'Liberation Sans', sans-serif" font-size="25" font-weight="normal" font-style="normal" text-anchor="start" textLength="24.2" lengthAdjust="spacing" >to</text>
<path d="M1486.3 659L1486.3 676.5" stroke="#000" stroke-width="2.4" fill="none" />
<text x="1490.9" y="676.8" font-family="'Liberation Sans', sans-serif" font-size="28" font-weight="normal" font-style="normal" text-anchor="start" textLength="16.3" lengthAdjust="spacing" >5</text>
<text x="1514.5" y="676.8" font-family="'Liberation Sans', sans-serif" font-size="28" font-weight="normal" font-style="normal" text-anchor="start" textLength="50.1" lengthAdjust="spacing" >Feet</text>
<text x="249.4" y="1131.3" font-family="'Liberation Sans', sans-serif" font-size="49" font-weight="normal" font-style="normal" text-anchor="start" textLength="85.7" lengthAdjust="spacing" stroke="#fff" stroke-width="0.6" >Two</text>
<text x="354.7" y="1131.3" font-family="'Liberation Sans', sans-serif" font-size="49" font-weight="normal" font-style="normal" text-anchor="start" textLength="183.9" lengthAdjust="spacing" stroke="#fff" stroke-width="0.6" >Methods</text>
<text x="552.8" y="1131.3" font-family="'Liberation Sans', sans-serif" font-size="49" font-weight="normal" font-style="normal" text-anchor="start" textLength="62.8" lengthAdjust="spacing" stroke="#fff" stroke-width="0.6" >for</text>
<text x="632.5" y="1131.3" font-family="'Liberation Sans', sans-serif" font-size="49" font-weight="normal" font-style="normal" text-anchor="start" textLength="319.4" lengthAdjust="spacing" stroke="#fff" stroke-width="0.6" >Communication</text>
<text x="968.9" y="1131.3" font-family="'Liberation Sans', sans-serif" font-size="49" font-weight="normal" font-style="normal" text-anchor="start" textLength="199.1" lengthAdjust="spacing" stroke="#fff" stroke-width="0.6" >Trenches</text>
<text x="1174.9" y="1131.3" font-family="'Liberation Sans', sans-serif" font-size="49" font-weight="normal" font-style="normal" text-anchor="start" textLength="42.6" lengthAdjust="spacing" stroke="#fff" stroke-width="0.6" >in</text>
<text x="1231" y="1131.3" font-family="'Liberation Sans', sans-serif" font-size="49" font-weight="normal" font-style="normal" text-anchor="start" textLength="94.2" lengthAdjust="spacing" stroke="#fff" stroke-width="0.6" >rear</text>
<text x="1334.3" y="1131.3" font-family="'Liberation Sans', sans-serif" font-size="49" font-weight="normal" font-style="normal" text-anchor="start" textLength="48" lengthAdjust="spacing" stroke="#fff" stroke-width="0.6" >of</text>
<text x="1398.4" y="1131.3" font-family="'Liberation Sans', sans-serif" font-size="49" font-weight="normal" font-style="normal" text-anchor="start" textLength="127.4" lengthAdjust="spacing" stroke="#fff" stroke-width="0.6" >Firing</text>
<text x="1537.5" y="1131.3" font-family="'Liberation Sans', sans-serif" font-size="49" font-weight="normal" font-style="normal" text-anchor="start" textLength="199.1" lengthAdjust="spacing" stroke="#fff" stroke-width="0.6" >Trenches</text>
<text x="940.2" y="1190.3" font-family="'Liberation Serif', serif" font-size="37" font-weight="bold" font-style="normal" text-anchor="start" textLength="54.6" lengthAdjust="spacing" >Fig.</text>
<text x="1009.6" y="1190.3" font-family="'Liberation Serif', serif" font-size="37" font-weight="bold" font-style="normal" text-anchor="start" textLength="32" lengthAdjust="spacing" >15</text>
<g transform="translate(91.3,0) rotate(90)">
<text x="668.4" y="0" font-family="'Liberation Serif', serif" font-size="32.5" font-weight="bold" font-style="normal" text-anchor="start" textLength="71" lengthAdjust="spacing" >[389]</text>
</g>
<g transform="translate(1858,0) rotate(90)">
<text x="1078.2" y="0" font-family="'Liberation Serif', serif" font-size="34" font-weight="normal" font-style="normal" text-anchor="start" textLength="71.4" lengthAdjust="spacing" stroke="#000" stroke-width="0.6" stroke-linejoin="round" >1148</text>
<text x="1171.5" y="0" font-family="'Liberation Serif', serif" font-size="34" font-weight="normal" font-style="normal" text-anchor="start" textLength="126" lengthAdjust="spacing" stroke="#000" stroke-width="0.6" stroke-linejoin="round" >(contd.)</text>
</g>
<ellipse cx="846" cy="145" rx="4.6" ry="2.6" transform="rotate(40 846 145)"/>
<ellipse cx="163" cy="255" rx="1.5" ry="2.5" transform="rotate(10 163 255)"/>
<ellipse cx="1867" cy="620" rx="2" ry="2" transform="rotate(0 1867 620)"/>
<ellipse cx="1910" cy="537" rx="1" ry="2.5" transform="rotate(0 1910 537)"/>
<ellipse cx="125" cy="1103" rx="7" ry="2.2" transform="rotate(50 125 1103)"/>
<ellipse cx="411" cy="1246" rx="2.5" ry="1.2" transform="rotate(30 411 1246)"/>
<ellipse cx="419" cy="1242" rx="1" ry="1.6" transform="rotate(0 419 1242)"/>
<ellipse cx="636" cy="1247" rx="2" ry="2" transform="rotate(0 636 1247)"/>
<ellipse cx="1503" cy="1278" rx="2" ry="1.4" transform="rotate(-30 1503 1278)"/>
<ellipse cx="1875" cy="868" rx="2" ry="2" transform="rotate(0 1875 868)"/>
<ellipse cx="2025" cy="1385" rx="1.5" ry="3" transform="rotate(0 2025 1385)"/>
<ellipse cx="912" cy="411" rx="3.5" ry="1" transform="rotate(0 912 411)"/>
</svg></body></html>
